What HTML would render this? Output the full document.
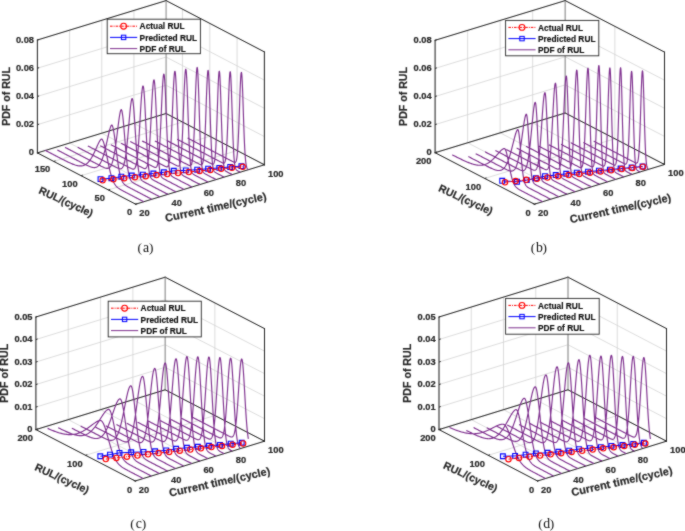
<!DOCTYPE html>
<html><head><meta charset="utf-8"><style>
html,body{margin:0;padding:0;background:#fff;}
svg{display:block;will-change:transform;}
.tk{font-family:"Liberation Sans",sans-serif;font-weight:bold;font-size:9.3px;fill:#262626;stroke:#262626;stroke-width:0.2px;}
.al{font-family:"Liberation Sans",sans-serif;font-weight:bold;font-size:10.6px;fill:#262626;stroke:#262626;stroke-width:0.2px;}
.al2{font-family:"Liberation Sans",sans-serif;font-weight:bold;font-size:11px;fill:#262626;stroke:#262626;stroke-width:0.2px;}
.lg{font-family:"Liberation Sans",sans-serif;font-weight:bold;font-size:8.35px;fill:#111;stroke:#111;stroke-width:0.15px;}
.cap{font-family:"Liberation Serif",serif;font-size:13.3px;fill:#111;}
.cap2{font-family:"Liberation Serif",serif;font-size:15px;fill:#111;}
</style></head><body>
<svg width="685" height="531" viewBox="0 0 685 531">
<defs><filter id="bl" filterUnits="userSpaceOnUse" x="0" y="0" width="685" height="531"><feConvolveMatrix order="3" kernelMatrix="1 2 1 2 16 2 1 2 1" divisor="28" edgeMode="duplicate" color-interpolation-filters="sRGB"/></filter></defs>
<rect width="685" height="531" fill="#fff"/>
<g filter="url(#bl)">
<rect width="685" height="531" fill="#fff"/>
<path d="M135.7 204.2L37.4 152.9M37.4 152.9L37.4 40M167.88 194.35L69.58 143.05M69.58 143.05L69.58 30.15M200.05 184.5L101.75 133.2M101.75 133.2L101.75 20.3M232.22 174.65L133.92 123.35M133.92 123.35L133.92 10.45M264.4 164.8L166.1 113.5M166.1 113.5L166.1 0.6M135.7 204.2L264.4 164.8M264.4 164.8L264.4 51.9M108.39 189.95L237.09 150.55M237.09 150.55L237.09 37.65M81.09 175.7L209.79 136.3M209.79 136.3L209.79 23.4M53.78 161.45L182.48 122.05M182.48 122.05L182.48 9.15M37.4 152.9L166.1 113.5M166.1 113.5L264.4 164.8M37.4 124.68L166.1 85.28M166.1 85.28L264.4 136.58M37.4 96.45L166.1 57.05M166.1 57.05L264.4 108.35M37.4 68.23L166.1 28.83M166.1 28.83L264.4 80.13M37.4 40L166.1 0.6M166.1 0.6L264.4 51.9" stroke="#d3d3d3" stroke-width="0.8" fill="none"/>
<path d="M37.4 152.9L37.4 40M135.7 204.2L37.4 152.9M135.7 204.2L264.4 164.8M37.4 152.9L166.1 113.5M166.1 113.5L264.4 164.8M264.4 164.8L264.4 51.9M37.4 40L166.1 0.6M166.1 0.6L264.4 51.9" stroke="#262626" stroke-width="1.0" fill="none" stroke-linecap="square"/>
<path d="M37.4 152.9l1.72 -0.53M37.4 124.68l1.72 -0.53M37.4 96.45l1.72 -0.53M37.4 68.23l1.72 -0.53M37.4 40l1.72 -0.53M135.7 204.2l1.72 -0.53M108.39 189.95l1.72 -0.53M81.09 175.7l1.72 -0.53M53.78 161.45l1.72 -0.53M135.7 204.2l-1.6 -0.83M167.88 194.35l-1.6 -0.83M200.05 184.5l-1.6 -0.83M232.22 174.65l-1.6 -0.83M264.4 164.8l-1.6 -0.83" stroke="#262626" stroke-width="1"/>
<path d="M166.1 113.5L166.1 0.6" stroke="#8c8c8c" stroke-width="0.9"/>
<path d="M143.74 201.74L143.13 201.42L142.51 201.09L141.89 200.77L141.27 200.45L140.65 200.13L140.04 199.8L139.42 199.48L138.8 199.16L138.18 198.84L137.57 198.51L136.95 198.19L136.33 197.87L135.71 197.55L135.09 197.22L134.48 196.9L133.86 196.58L133.24 196.26L132.62 195.93L132.01 195.61L131.39 195.29L130.77 194.97L130.15 194.64L129.53 194.32L128.92 194L128.3 193.68L127.68 193.35L127.32 193.17L127.06 193.03L126.68 192.83L126.45 192.71L126.04 192.5L125.83 192.38L125.4 192.16L125.21 192.06L124.76 191.83L124.59 191.74L124.12 191.49L123.97 191.41L123.48 191.15L123.36 191.08L122.84 190.8L122.74 190.75L122.2 190.45L122.12 190.41L121.56 190.1L121.5 190.07L120.92 189.73L120.89 189.71L120.28 189.35L120.27 189.35L119.65 188.96L119.64 188.95L119.03 188.55L119 188.53L118.41 188.11L118.36 188.07L117.8 187.63L117.72 187.56L117.18 187.09L117.07 186.99L116.56 186.48L116.43 186.34L115.94 185.79L115.79 185.6L115.33 184.99L115.15 184.75L114.71 184.07L114.51 183.75L114.09 183.01L113.87 182.59L113.47 181.78L113.23 181.25L112.85 180.36L112.59 179.7L112.24 178.74L111.95 177.92L111.62 176.9L111.31 175.9L111 174.84L110.67 173.63L110.38 172.55L110.03 171.13L109.77 170.03L109.39 168.4L109.15 167.32L108.75 165.47L108.53 164.44L108.11 162.39L107.91 161.43L107.47 159.21L107.29 158.35L106.82 156L106.68 155.26L106.18 152.84L106.06 152.24L105.54 149.82L105.44 149.35L104.9 147.02L104.82 146.69L104.26 144.52L104.21 144.31L103.62 142.41L103.59 142.31L102.98 140.76L102.97 140.73L102.35 139.62L102.34 139.61L101.73 139.02L101.7 139L101.12 139.19L101.06 139.24L100.5 139.82L100.42 139.93L99.88 140.71L99.78 140.88L99.26 141.78L99.14 142.01L98.65 142.98L98.5 143.28L98.03 144.26L97.86 144.63L97.41 145.6L97.22 146.03L96.79 146.98L96.58 147.47L96.17 148.37L95.93 148.9L95.56 149.75L95.29 150.33L94.94 151.11L94.65 151.72L94.32 152.43L94.01 153.08L93.7 153.71L93.37 154.38L93.09 154.94L92.73 155.62L92.47 156.11L92.09 156.79L91.85 157.22L91.45 157.9L91.23 158.25L90.81 158.92L90.61 159.22L90.17 159.87L90 160.12L89.53 160.75L89.38 160.94L88.89 161.55L88.76 161.7L88.25 162.27L88.14 162.38L87.61 162.91L87.53 162.99L86.97 163.49L86.91 163.54L86.33 163.99L86.29 164.02L85.68 164.43L85.67 164.44L85.05 164.8L85.04 164.81L84.44 165.11L84.4 165.12L83.82 165.36L83.76 165.38L83.2 165.56L83.12 165.59L82.58 165.72L82.48 165.74L81.96 165.83L81.84 165.85L81.35 165.91L81.2 165.92L80.73 165.94L80.56 165.94L80.11 165.94L79.92 165.93L79.49 165.91L79.28 165.89L78.88 165.85L78.64 165.82L78.26 165.76L78 165.72L77.64 165.65L77.36 165.59L77.02 165.51L76.72 165.44L76.4 165.36L76.08 165.27L75.79 165.19L75.17 165L74.55 164.79L73.93 164.57L73.32 164.34L72.7 164.1L72.08 163.85L71.46 163.59L70.84 163.33L70.23 163.05L69.61 162.77L68.99 162.49L68.37 162.2L67.76 161.9L67.14 161.61L66.52 161.31L65.9 161L65.28 160.69L64.67 160.39L64.05 160.08L63.43 159.76L62.81 159.45L62.2 159.14L61.58 158.82L60.96 158.5L60.34 158.19L59.72 157.87L59.11 157.55L58.49 157.23L57.87 156.91L57.25 156.59L56.64 156.27L56.02 155.95L55.4 155.63L54.78 155.31L54.16 154.98L53.55 154.66L52.93 154.34L52.31 154.02L51.69 153.7L51.08 153.37L50.46 153.05L49.84 152.73L49.22 152.41L48.6 152.09L47.99 151.76L47.37 151.44L46.75 151.12L46.13 150.8L45.52 150.47L44.9 150.15M151.79 199.27L151.2 198.97L150.61 198.66L150.02 198.35L149.42 198.04L148.83 197.73L148.24 197.42L147.65 197.12L147.06 196.81L146.47 196.5L145.88 196.19L145.29 195.88L144.7 195.57L144.11 195.27L143.52 194.96L142.93 194.65L142.33 194.34L141.74 194.03L141.15 193.72L140.56 193.42L139.97 193.11L139.38 192.8L138.79 192.49L138.2 192.18L137.61 191.87L137.02 191.57L136.43 191.26L135.84 190.95L135.24 190.64L134.65 190.33L134.06 190.02L133.47 189.72L132.88 189.41L132.29 189.1L131.7 188.79L131.14 188.5L131.11 188.48L130.66 188.25L130.52 188.17L130.18 187.99L129.93 187.86L129.69 187.74L129.34 187.55L129.21 187.48L128.75 187.23L128.73 187.22L128.24 186.96L128.15 186.91L127.76 186.69L127.56 186.58L127.27 186.42L126.97 186.24L126.79 186.13L126.38 185.88L126.31 185.83L125.82 185.51L125.79 185.49L125.34 185.16L125.2 185.05L124.86 184.77L124.61 184.55L124.37 184.33L124.02 183.97L123.89 183.82L123.43 183.26L123.41 183.23L122.92 182.54L122.84 182.4L122.44 181.71L122.25 181.34L121.96 180.73L121.66 180.03L121.47 179.56L121.06 178.41L120.99 178.17L120.5 176.54L120.47 176.43L120.02 174.64L119.88 174.05L119.54 172.45L119.29 171.22L119.05 169.95L118.7 167.93L118.57 167.13L118.11 164.18L118.09 164.02L117.6 160.63L117.52 160.02L117.12 156.99L116.93 155.51L116.64 153.18L116.34 150.77L116.15 149.25L115.75 145.94L115.67 145.3L115.19 141.42L115.16 141.19L114.7 137.73L114.57 136.74L114.22 134.32L113.97 132.76L113.73 131.32L113.38 129.45L113.25 128.81L112.79 126.97L112.77 126.88L112.28 125.6L112.2 125.45L111.8 125L111.61 125.03L111.32 125.34L111.02 125.85L110.83 126.26L110.43 127.33L110.35 127.57L109.87 129.16L109.84 129.26L109.38 130.98L109.25 131.51L108.9 132.95L108.66 133.97L108.41 135.03L108.07 136.57L107.93 137.17L107.48 139.23L107.45 139.35L106.96 141.54L106.88 141.89L106.48 143.69L106.29 144.51L106 145.8L105.7 147.05L105.51 147.84L105.11 149.48L105.03 149.8L104.55 151.67L104.52 151.76L104.06 153.43L103.93 153.89L103.58 155.08L103.34 155.86L103.1 156.62L102.75 157.65L102.61 158.04L102.16 159.27L102.13 159.35L101.64 160.54L101.57 160.72L101.16 161.62L100.98 162L100.68 162.58L100.39 163.12L100.19 163.45L99.79 164.08L99.71 164.21L99.23 164.87L99.2 164.9L98.74 165.45L98.61 165.59L98.26 165.95L98.02 166.16L97.78 166.36L97.43 166.62L97.29 166.71L96.84 166.97L96.81 166.99L96.33 167.21L96.25 167.24L95.84 167.37L95.66 167.42L95.36 167.49L95.07 167.53L94.87 167.56L94.48 167.58L94.39 167.59L93.91 167.58L93.89 167.58L93.42 167.54L93.3 167.53L92.94 167.48L92.71 167.44L92.46 167.39L92.11 167.31L91.52 167.15L90.93 166.97L90.34 166.76L89.75 166.54L89.16 166.3L88.57 166.05L87.98 165.79L87.39 165.52L86.8 165.24L86.21 164.96L85.62 164.67L85.02 164.38L84.43 164.08L83.84 163.78L83.25 163.48L82.66 163.18L82.07 162.87L81.48 162.57L80.89 162.26L80.3 161.96L79.71 161.65L79.12 161.35L78.53 161.04L77.93 160.73L77.34 160.42L76.75 160.12L76.16 159.81L75.57 159.5L74.98 159.19L74.39 158.88L73.8 158.57L73.21 158.27L72.62 157.96L72.03 157.65L71.44 157.34L70.84 157.03L70.25 156.72L69.66 156.42L69.07 156.11L68.48 155.8L67.89 155.49L67.3 155.18L66.71 154.87L66.12 154.57L65.53 154.26L64.94 153.95L64.35 153.64L63.75 153.33L63.16 153.02L62.57 152.72L61.98 152.41L61.39 152.1L60.8 151.79L60.21 151.48L59.62 151.17L59.03 150.87L58.44 150.56L57.85 150.25L57.26 149.94M159.83 196.81L159.24 196.5L158.65 196.19L158.05 195.88L157.46 195.58L156.87 195.27L156.28 194.96L155.68 194.65L155.09 194.34L154.5 194.03L153.91 193.72L153.31 193.41L152.72 193.1L152.13 192.79L151.54 192.48L150.94 192.17L150.35 191.86L149.76 191.56L149.17 191.25L148.57 190.94L147.98 190.63L147.39 190.32L146.8 190.01L146.2 189.7L145.61 189.39L145.02 189.08L144.43 188.77L143.83 188.46L143.24 188.15L142.65 187.84L142.06 187.54L141.46 187.23L140.87 186.92L140.28 186.61L139.69 186.3L139.09 185.99L138.5 185.68L137.91 185.37L137.32 185.06L136.72 184.75L136.65 184.71L136.27 184.51L136.13 184.44L135.88 184.31L135.54 184.12L135.5 184.1L135.11 183.89L134.94 183.8L134.73 183.68L134.35 183.47L134.35 183.46L133.96 183.24L133.76 183.11L133.58 183L133.2 182.75L133.17 182.73L132.81 182.47L132.57 182.28L132.43 182.16L132.04 181.81L131.98 181.75L131.66 181.4L131.39 181.07L131.28 180.92L130.89 180.35L130.8 180.19L130.51 179.67L130.2 179.02L130.13 178.84L129.74 177.84L129.61 177.45L129.36 176.63L129.02 175.37L128.97 175.18L128.59 173.46L128.43 172.63L128.21 171.43L127.83 169.13L127.82 169.06L127.44 166.33L127.24 164.78L127.06 163.23L126.67 159.76L126.65 159.55L126.29 155.94L126.06 153.47L125.9 151.79L125.52 147.38L125.46 146.71L125.14 142.76L124.87 139.5L124.75 138.03L124.37 133.3L124.28 132.2L123.99 128.68L123.69 125.24L123.6 124.31L123.22 120.3L123.09 119.1L122.83 116.78L122.5 114.21L122.45 113.87L122.07 111.66L121.91 110.97L121.68 110.22L121.32 109.61L121.3 109.6L120.92 109.92L120.72 110.35L120.53 110.93L120.15 112.47L120.13 112.55L119.77 114.45L119.54 115.78L119.38 116.78L119 119.39L118.95 119.75L118.61 122.21L118.35 124.21L118.23 125.19L117.85 128.26L117.76 128.94L117.46 131.37L117.17 133.75L117.08 134.48L116.7 137.54L116.58 138.47L116.31 140.52L115.98 142.97L115.93 143.39L115.54 146.12L115.39 147.17L115.16 148.7L114.8 150.98L114.78 151.12L114.39 153.35L114.21 154.38L114.01 155.41L113.63 157.29L113.61 157.34L113.24 158.98L113.02 159.87L112.86 160.5L112.47 161.85L112.43 161.99L112.09 163.03L111.84 163.73L111.71 164.06L111.32 164.96L111.24 165.12L110.94 165.72L110.65 166.21L110.56 166.36L110.17 166.89L110.06 167.03L109.79 167.32L109.47 167.62L109.4 167.67L109.02 167.94L108.87 168.02L108.64 168.14L108.28 168.27L108.25 168.27L107.87 168.36L107.69 168.38L107.49 168.4L107.1 168.4L107.1 168.4L106.72 168.37L106.5 168.33L106.33 168.3L105.95 168.22L105.91 168.21L105.32 168.03L104.73 167.82L104.13 167.58L103.54 167.32L102.95 167.05L102.36 166.77L101.76 166.47L101.17 166.18L100.58 165.87L99.99 165.57L99.39 165.26L98.8 164.96L98.21 164.65L97.62 164.34L97.02 164.03L96.43 163.72L95.84 163.42L95.25 163.11L94.65 162.8L94.06 162.49L93.47 162.18L92.88 161.87L92.28 161.56L91.69 161.25L91.1 160.94L90.51 160.63L89.91 160.32L89.32 160.01L88.73 159.71L88.14 159.4L87.54 159.09L86.95 158.78L86.36 158.47L85.76 158.16L85.17 157.85L84.58 157.54L83.99 157.23L83.39 156.92L82.8 156.61L82.21 156.3L81.62 155.99L81.02 155.69L80.43 155.38L79.84 155.07L79.25 154.76L78.65 154.45L78.06 154.14L77.47 153.83L76.88 153.52L76.28 153.21L75.69 152.9L75.1 152.59L74.51 152.28L73.91 151.97L73.32 151.67L72.73 151.36L72.14 151.05L71.54 150.74L70.95 150.43L70.36 150.12L69.77 149.81L69.17 149.5L68.58 149.19L67.99 148.88L67.4 148.57L66.8 148.26L66.21 147.95L65.62 147.65L65.03 147.34M167.88 194.35L167.31 194.06L166.75 193.76L166.18 193.47L165.62 193.17L165.06 192.88L164.49 192.58L163.93 192.29L163.36 192L162.8 191.7L162.24 191.41L161.67 191.11L161.11 190.82L160.54 190.52L159.98 190.23L159.42 189.94L158.85 189.64L158.29 189.35L157.73 189.05L157.16 188.76L156.6 188.46L156.03 188.17L155.47 187.88L154.91 187.58L154.34 187.29L153.78 186.99L153.21 186.7L152.65 186.4L152.09 186.11L151.52 185.82L150.96 185.52L150.4 185.23L149.83 184.93L149.27 184.64L148.7 184.35L148.14 184.05L147.58 183.76L147.01 183.46L146.45 183.17L145.88 182.87L145.5 182.67L145.32 182.57L145.16 182.49L144.83 182.31L144.76 182.27L144.5 182.13L144.19 181.96L144.17 181.94L143.83 181.75L143.63 181.63L143.5 181.55L143.17 181.34L143.07 181.27L142.84 181.11L142.5 180.86L142.5 180.86L142.17 180.57L141.94 180.35L141.84 180.25L141.51 179.87L141.37 179.69L141.18 179.41L140.84 178.87L140.81 178.81L140.51 178.21L140.25 177.58L140.18 177.4L139.85 176.42L139.68 175.86L139.51 175.23L139.18 173.8L139.12 173.5L138.85 172.08L138.55 170.3L138.52 170.04L138.18 167.65L137.99 166.09L137.85 164.88L137.52 161.71L137.43 160.76L137.19 158.13L136.86 154.25L136.85 154.14L136.52 149.78L136.3 146.66L136.19 145.07L135.86 140.09L135.73 138.21L135.52 134.91L135.19 129.63L135.17 129.3L134.86 124.38L134.61 120.48L134.53 119.27L134.19 114.45L134.04 112.39L133.86 110.06L133.53 106.22L133.48 105.69L133.2 103.05L132.92 100.98L132.86 100.67L132.53 99.13L132.35 98.68L132.2 98.5L131.87 98.81L131.79 99L131.54 99.87L131.22 101.44L131.2 101.57L130.87 103.82L130.66 105.48L130.54 106.53L130.21 109.63L130.1 110.72L129.87 113.04L129.54 116.68L129.53 116.77L129.21 120.46L128.97 123.24L128.88 124.33L128.54 128.2L128.4 129.81L128.21 132.04L127.88 135.78L127.84 136.19L127.55 139.37L127.28 142.16L127.21 142.79L126.88 146.01L126.71 147.55L126.55 149L126.22 151.76L126.15 152.28L125.88 154.27L125.59 156.31L125.55 156.53L125.22 158.55L125.02 159.64L124.89 160.34L124.55 161.91L124.46 162.32L124.22 163.26L123.89 164.41L123.89 164.42L123.56 165.4L123.33 165.98L123.22 166.22L122.89 166.89L122.77 167.11L122.56 167.44L122.23 167.87L122.2 167.9L121.9 168.2L121.64 168.4L121.56 168.45L121.23 168.62L121.07 168.68L120.9 168.73L120.57 168.79L120.51 168.79L120.23 168.8L119.95 168.78L119.9 168.77L119.57 168.72L119.38 168.68L119.24 168.64L118.9 168.54L118.82 168.52L118.26 168.31L117.69 168.07L117.13 167.81L116.56 167.54L116 167.26L115.44 166.97L114.87 166.68L114.31 166.39L113.74 166.1L113.18 165.81L112.62 165.51L112.05 165.22L111.49 164.92L110.93 164.63L110.36 164.34L109.8 164.04L109.23 163.75L108.67 163.45L108.11 163.16L107.54 162.86L106.98 162.57L106.41 162.28L105.85 161.98L105.29 161.69L104.72 161.39L104.16 161.1L103.59 160.8L103.03 160.51L102.47 160.22L101.9 159.92L101.34 159.63L100.78 159.33L100.21 159.04L99.65 158.74L99.08 158.45L98.52 158.16L97.96 157.86L97.39 157.57L96.83 157.27L96.26 156.98L95.7 156.68L95.14 156.39L94.57 156.1L94.01 155.8L93.45 155.51L92.88 155.21L92.32 154.92L91.75 154.62L91.19 154.33L90.63 154.04L90.06 153.74L89.5 153.45L88.93 153.15L88.37 152.86L87.81 152.56L87.24 152.27L86.68 151.98L86.12 151.68L85.55 151.39L84.99 151.09L84.42 150.8L83.86 150.5L83.3 150.21L82.73 149.92L82.17 149.62L81.6 149.33L81.04 149.03L80.48 148.74L79.91 148.45L79.35 148.15L78.79 147.86L78.22 147.56L77.66 147.27M175.92 191.89L175.37 191.6L174.82 191.31L174.27 191.03L173.72 190.74L173.17 190.45L172.62 190.16L172.06 189.88L171.51 189.59L170.96 189.3L170.41 189.01L169.86 188.73L169.31 188.44L168.76 188.15L168.21 187.87L167.66 187.58L167.11 187.29L166.56 187L166.01 186.72L165.46 186.43L164.91 186.14L164.36 185.85L163.81 185.57L163.26 185.28L162.71 184.99L162.16 184.7L161.6 184.42L161.05 184.13L160.5 183.84L159.95 183.56L159.4 183.27L158.85 182.98L158.3 182.69L157.75 182.41L157.2 182.12L156.65 181.83L156.1 181.54L155.55 181.26L155 180.97L154.45 180.67L154.43 180.66L154.14 180.51L153.9 180.37L153.86 180.36L153.58 180.2L153.35 180.06L153.29 180.03L153.01 179.86L152.8 179.72L152.73 179.67L152.44 179.47L152.25 179.32L152.16 179.25L151.88 179L151.69 178.81L151.6 178.71L151.31 178.36L151.14 178.12L151.03 177.94L150.75 177.44L150.59 177.12L150.46 176.82L150.18 176.06L150.04 175.64L149.9 175.13L149.61 173.99L149.49 173.43L149.33 172.6L149.05 170.93L148.94 170.23L148.76 168.93L148.48 166.56L148.39 165.73L148.2 163.78L147.91 160.58L147.84 159.67L147.63 156.92L147.35 152.8L147.29 151.91L147.06 148.24L146.78 143.27L146.74 142.5L146.5 137.93L146.21 132.29L146.19 131.76L145.93 126.45L145.65 120.52L145.64 120.31L145.37 114.63L145.09 109.04L145.08 108.93L144.8 103.56L144.54 99.03L144.52 98.68L144.23 94.43L143.99 91.36L143.95 90.94L143.67 88.32L143.44 86.9L143.38 86.66L143.1 86L142.89 86.11L142.82 86.24L142.53 87.24L142.34 88.38L142.25 88.98L141.97 91.4L141.78 93.29L141.68 94.44L141.4 98.03L141.23 100.36L141.12 102.07L140.83 106.46L140.68 108.92L140.55 111.12L140.27 115.93L140.13 118.25L139.99 120.81L139.7 125.66L139.58 127.68L139.42 130.41L139.14 134.98L139.03 136.59L138.85 139.32L138.57 143.38L138.48 144.57L138.29 147.12L138 150.54L137.93 151.35L137.72 153.61L137.44 156.33L137.38 156.83L137.15 158.72L136.87 160.79L136.83 161.06L136.59 162.55L136.3 164.04L136.28 164.16L136.02 165.27L135.74 166.28L135.73 166.31L135.45 167.09L135.18 167.72L135.17 167.73L134.89 168.22L134.63 168.56L134.6 168.58L134.32 168.84L134.08 169L134.04 169.02L133.76 169.12L133.53 169.16L133.47 169.17L133.19 169.17L132.98 169.14L132.91 169.13L132.62 169.07L132.43 169.01L132.34 168.98L132.06 168.88L131.87 168.81L131.77 168.77L131.32 168.57L130.77 168.3L130.22 168.03L129.67 167.75L129.12 167.46L128.57 167.18L128.02 166.89L127.47 166.6L126.92 166.32L126.37 166.03L125.82 165.74L125.27 165.45L124.72 165.17L124.17 164.88L123.62 164.59L123.07 164.31L122.52 164.02L121.97 163.73L121.41 163.44L120.86 163.16L120.31 162.87L119.76 162.58L119.21 162.29L118.66 162.01L118.11 161.72L117.56 161.43L117.01 161.14L116.46 160.86L115.91 160.57L115.36 160.28L114.81 160L114.26 159.71L113.71 159.42L113.16 159.13L112.61 158.85L112.06 158.56L111.5 158.27L110.95 157.98L110.4 157.7L109.85 157.41L109.3 157.12L108.75 156.83L108.2 156.55L107.65 156.26L107.1 155.97L106.55 155.69L106 155.4L105.45 155.11L104.9 154.82L104.35 154.54L103.8 154.25L103.25 153.96L102.7 153.67L102.15 153.39L101.59 153.1L101.04 152.81L100.49 152.53L99.94 152.24L99.39 151.95L98.84 151.66L98.29 151.38L97.74 151.09L97.19 150.8L96.64 150.51L96.09 150.23L95.54 149.94L94.99 149.65L94.44 149.36L93.89 149.08L93.34 148.79L92.79 148.5L92.24 148.22L91.68 147.93L91.13 147.64L90.58 147.35L90.03 147.07L89.48 146.78L88.93 146.49L88.38 146.2L87.83 145.92M183.96 189.43L183.44 189.15L182.92 188.88L182.39 188.61L181.87 188.33L181.34 188.06L180.82 187.79L180.3 187.51L179.77 187.24L179.25 186.97L178.73 186.69L178.2 186.42L177.68 186.15L177.16 185.87L176.63 185.6L176.11 185.33L175.59 185.05L175.06 184.78L174.54 184.51L174.01 184.23L173.49 183.96L172.97 183.69L172.44 183.41L171.92 183.14L171.4 182.87L170.87 182.59L170.35 182.32L169.83 182.05L169.3 181.77L168.78 181.5L168.25 181.23L167.73 180.95L167.21 180.68L166.68 180.41L166.16 180.13L165.64 179.86L165.11 179.58L164.59 179.31L164.48 179.25L164.22 179.1L164.07 179.02L163.96 178.96L163.69 178.8L163.54 178.71L163.43 178.65L163.17 178.48L163.02 178.37L162.91 178.29L162.65 178.09L162.5 177.96L162.38 177.86L162.12 177.6L161.97 177.43L161.86 177.29L161.6 176.92L161.45 176.67L161.34 176.46L161.07 175.91L160.92 175.54L160.81 175.23L160.55 174.39L160.4 173.83L160.29 173.36L160.03 172.11L159.88 171.28L159.76 170.58L159.5 168.75L159.35 167.57L159.24 166.57L158.98 164L158.83 162.37L158.72 161.01L158.45 157.56L158.31 155.43L158.19 153.65L157.93 149.27L157.78 146.63L157.67 144.44L157.41 139.19L157.26 136.1L157.14 133.58L156.88 127.67L156.74 124.3L156.62 121.58L156.36 115.42L156.21 112.02L156.1 109.32L155.83 103.43L155.69 100.31L155.57 97.89L155.31 92.87L155.17 90.37L155.05 88.51L154.79 84.93L154.64 83.34L154.52 82.26L154.26 80.56L154.12 80.07L154 79.9L153.74 80.18L153.59 80.69L153.48 81.3L153.21 83.2L153.07 84.56L152.95 85.85L152.69 89.17L152.55 91.23L152.43 93.08L152.17 97.46L152.02 100.01L151.9 102.23L151.64 107.26L151.5 110.06L151.38 112.46L151.12 117.71L150.98 120.54L150.86 122.92L150.59 128L150.45 130.66L150.33 132.89L150.07 137.5L149.93 139.86L149.81 141.81L149.55 145.77L149.41 147.74L149.28 149.36L149.02 152.59L148.88 154.15L148.76 155.43L148.5 157.92L148.36 159.1L148.24 160.06L147.97 161.88L147.84 162.73L147.71 163.41L147.45 164.67L147.31 165.25L147.19 165.7L146.93 166.52L146.79 166.88L146.66 167.17L146.4 167.66L146.26 167.87L146.14 168.03L145.88 168.29L145.74 168.39L145.62 168.46L145.35 168.57L145.22 168.6L145.09 168.61L144.83 168.62L144.69 168.6L144.57 168.59L144.31 168.53L144.17 168.49L144.04 168.45L143.78 168.35L143.65 168.3L143.52 168.25L143.12 168.07L142.6 167.82L142.08 167.56L141.55 167.29L141.03 167.02L140.51 166.75L139.98 166.47L139.46 166.2L138.93 165.93L138.41 165.65L137.89 165.38L137.36 165.11L136.84 164.83L136.32 164.56L135.79 164.29L135.27 164.01L134.75 163.74L134.22 163.47L133.7 163.19L133.17 162.92L132.65 162.65L132.13 162.37L131.6 162.1L131.08 161.83L130.56 161.55L130.03 161.28L129.51 161.01L128.99 160.73L128.46 160.46L127.94 160.19L127.42 159.91L126.89 159.64L126.37 159.37L125.84 159.09L125.32 158.82L124.8 158.55L124.27 158.28L123.75 158L123.23 157.73L122.7 157.46L122.18 157.18L121.66 156.91L121.13 156.64L120.61 156.36L120.09 156.09L119.56 155.82L119.04 155.54L118.51 155.27L117.99 155L117.47 154.72L116.94 154.45L116.42 154.18L115.9 153.9L115.37 153.63L114.85 153.36L114.33 153.08L113.8 152.81L113.28 152.54L112.76 152.26L112.23 151.99L111.71 151.72L111.18 151.44L110.66 151.17L110.14 150.9L109.61 150.62L109.09 150.35L108.57 150.08L108.04 149.8L107.52 149.53L107 149.26L106.47 148.98L105.95 148.71L105.42 148.44L104.9 148.17L104.38 147.89L103.85 147.62L103.33 147.35L102.81 147.07L102.28 146.8L101.76 146.53L101.24 146.25L100.71 145.98L100.19 145.71M192.01 186.96L191.5 186.7L190.99 186.43L190.49 186.17L189.98 185.9L189.47 185.64L188.97 185.38L188.46 185.11L187.95 184.85L187.44 184.58L186.94 184.32L186.43 184.05L185.92 183.79L185.42 183.52L184.91 183.26L184.4 182.99L183.9 182.73L183.39 182.47L182.88 182.2L182.38 181.94L181.87 181.67L181.36 181.41L180.86 181.14L180.35 180.88L179.84 180.61L179.33 180.35L178.83 180.09L178.32 179.82L177.81 179.56L177.31 179.29L176.8 179.03L176.29 178.76L175.79 178.5L175.28 178.23L174.77 177.97L174.27 177.7L173.76 177.43L173.67 177.38L173.43 177.24L173.25 177.14L173.18 177.1L172.94 176.96L172.75 176.84L172.69 176.8L172.45 176.64L172.24 176.48L172.2 176.46L171.96 176.25L171.73 176.03L171.72 176.02L171.47 175.74L171.23 175.42L171.23 175.41L170.98 175.02L170.74 174.53L170.72 174.49L170.49 173.94L170.25 173.2L170.21 173.07L170.01 172.3L169.76 171.19L169.7 170.9L169.52 169.84L169.27 168.2L169.2 167.63L169.03 166.24L168.78 163.91L168.69 162.91L168.54 161.17L168.3 158L168.18 156.38L168.05 154.36L167.81 150.24L167.68 147.84L167.56 145.64L167.32 140.59L167.17 137.29L167.08 135.11L166.83 129.27L166.66 125.1L166.59 123.15L166.34 116.85L166.16 112L166.1 110.49L165.85 104.2L165.65 99.11L165.61 98.15L165.37 92.47L165.14 87.75L165.12 87.33L164.88 82.86L164.64 79.26L164.63 79.21L164.39 76.49L164.14 74.76L164.13 74.69L163.9 74.1L163.66 74.42L163.62 74.53L163.41 75.63L163.17 77.68L163.12 78.22L162.92 80.52L162.68 84.07L162.61 85.22L162.43 88.24L162.19 92.93L162.1 94.73L161.95 98L161.7 103.36L161.59 105.77L161.46 108.87L161.21 114.44L161.09 117.28L160.97 119.95L160.72 125.31L160.58 128.37L160.48 130.45L160.24 135.3L160.07 138.34L159.99 139.81L159.75 143.95L159.57 146.76L159.5 147.69L159.26 151.04L159.06 153.48L159.02 153.99L158.77 156.56L158.55 158.54L158.53 158.76L158.28 160.63L158.05 162.14L158.04 162.19L157.79 163.48L157.55 164.52L157.54 164.56L157.31 165.36L157.06 166.01L157.03 166.07L156.82 166.5L156.57 166.87L156.53 166.93L156.33 167.13L156.08 167.31L156.02 167.34L155.84 167.41L155.6 167.47L155.51 167.47L155.35 167.47L155.11 167.44L155.01 167.43L154.86 167.39L154.62 167.32L154.5 167.28L154.37 167.23L154.13 167.13L153.99 167.07L153.48 166.84L152.98 166.58L152.47 166.33L151.96 166.06L151.46 165.8L150.95 165.54L150.44 165.27L149.94 165.01L149.43 164.74L148.92 164.48L148.42 164.21L147.91 163.95L147.4 163.69L146.9 163.42L146.39 163.16L145.88 162.89L145.38 162.63L144.87 162.36L144.36 162.1L143.85 161.83L143.35 161.57L142.84 161.3L142.33 161.04L141.83 160.78L141.32 160.51L140.81 160.25L140.31 159.98L139.8 159.72L139.29 159.45L138.79 159.19L138.28 158.92L137.77 158.66L137.27 158.39L136.76 158.13L136.25 157.87L135.74 157.6L135.24 157.34L134.73 157.07L134.22 156.81L133.72 156.54L133.21 156.28L132.7 156.01L132.2 155.75L131.69 155.49L131.18 155.22L130.68 154.96L130.17 154.69L129.66 154.43L129.16 154.16L128.65 153.9L128.14 153.63L127.64 153.37L127.13 153.1L126.62 152.84L126.11 152.58L125.61 152.31L125.1 152.05L124.59 151.78L124.09 151.52L123.58 151.25L123.07 150.99L122.57 150.72L122.06 150.46L121.55 150.19L121.05 149.93L120.54 149.67L120.03 149.4L119.53 149.14L119.02 148.87L118.51 148.61L118 148.34L117.5 148.08L116.99 147.81L116.48 147.55L115.98 147.29L115.47 147.02L114.96 146.76L114.46 146.49L113.95 146.23L113.44 145.96L112.94 145.7L112.43 145.43L111.92 145.17L111.42 144.9L110.91 144.64M200.05 184.5L199.56 184.24L199.06 183.98L198.57 183.73L198.08 183.47L197.58 183.21L197.09 182.95L196.6 182.7L196.1 182.44L195.61 182.18L195.11 181.92L194.62 181.67L194.13 181.41L193.63 181.15L193.14 180.89L192.65 180.64L192.15 180.38L191.66 180.12L191.17 179.86L190.67 179.61L190.18 179.35L189.69 179.09L189.19 178.83L188.7 178.58L188.2 178.32L187.71 178.06L187.22 177.8L186.72 177.55L186.23 177.29L185.74 177.03L185.24 176.77L184.75 176.51L184.27 176.25L184.26 176.24L184.04 176.12L183.81 175.98L183.76 175.95L183.57 175.84L183.34 175.68L183.27 175.64L183.11 175.52L182.87 175.33L182.78 175.25L182.64 175.12L182.41 174.88L182.28 174.74L182.17 174.6L181.94 174.25L181.79 173.99L181.71 173.83L181.47 173.32L181.3 172.85L181.24 172.68L181.01 171.9L180.8 171.07L180.77 170.95L180.54 169.77L180.31 168.35L180.31 168.35L180.07 166.62L179.84 164.57L179.81 164.32L179.61 162.14L179.37 159.29L179.32 158.58L179.14 156L178.91 152.24L178.83 150.84L178.67 148L178.44 143.29L178.33 140.98L178.21 138.13L177.97 132.55L177.84 129.19L177.74 126.62L177.51 120.42L177.35 116.04L177.27 114.06L177.04 107.64L176.85 102.54L176.81 101.32L176.57 95.24L176.36 89.98L176.34 89.56L176.11 84.41L175.87 79.95L175.87 79.8L175.64 76.31L175.41 73.59L175.37 73.26L175.18 71.88L174.94 71.22L174.88 71.22L174.71 71.56L174.48 72.83L174.39 73.55L174.24 74.97L174.01 77.94L173.89 79.71L173.78 81.64L173.54 85.98L173.4 88.93L173.31 90.85L173.08 96.11L172.9 100.16L172.84 101.66L172.61 107.36L172.41 112.24L172.38 113.11L172.14 118.78L171.92 124.11L171.91 124.3L171.68 129.56L171.44 134.52L171.42 134.91L171.21 139.12L170.98 143.33L170.93 144.11L170.74 147.13L170.51 150.51L170.44 151.48L170.28 153.48L170.04 156.05L169.94 157.04L169.81 158.26L169.58 160.12L169.45 161L169.34 161.67L169.11 162.94L168.96 163.64L168.88 163.96L168.64 164.78L168.46 165.28L168.41 165.41L168.18 165.89L167.97 166.21L167.94 166.24L167.71 166.49L167.48 166.66L167.48 166.66L167.24 166.76L167.01 166.8L166.98 166.81L166.78 166.81L166.54 166.78L166.49 166.77L166.31 166.72L166.08 166.65L166 166.62L165.84 166.57L165.61 166.47L165.5 166.42L165.01 166.19L164.51 165.95L164.02 165.69L163.53 165.44L163.03 165.18L162.54 164.92L162.05 164.67L161.55 164.41L161.06 164.15L160.57 163.89L160.07 163.64L159.58 163.38L159.09 163.12L158.59 162.86L158.1 162.61L157.6 162.35L157.11 162.09L156.62 161.83L156.12 161.58L155.63 161.32L155.14 161.06L154.64 160.8L154.15 160.55L153.66 160.29L153.16 160.03L152.67 159.77L152.18 159.52L151.68 159.26L151.19 159L150.7 158.74L150.2 158.49L149.71 158.23L149.21 157.97L148.72 157.71L148.23 157.46L147.73 157.2L147.24 156.94L146.75 156.68L146.25 156.43L145.76 156.17L145.27 155.91L144.77 155.65L144.28 155.39L143.79 155.14L143.29 154.88L142.8 154.62L142.3 154.36L141.81 154.11L141.32 153.85L140.82 153.59L140.33 153.33L139.84 153.08L139.34 152.82L138.85 152.56L138.36 152.3L137.86 152.05L137.37 151.79L136.88 151.53L136.38 151.27L135.89 151.02L135.4 150.76L134.9 150.5L134.41 150.24L133.91 149.99L133.42 149.73L132.93 149.47L132.43 149.21L131.94 148.96L131.45 148.7L130.95 148.44L130.46 148.18L129.97 147.93L129.47 147.67L128.98 147.41L128.49 147.15L127.99 146.89L127.5 146.64L127 146.38L126.51 146.12L126.02 145.86L125.52 145.61L125.03 145.35L124.54 145.09L124.04 144.83L123.55 144.58L123.06 144.32L122.56 144.06L122.07 143.8L121.58 143.55L121.08 143.29M208.09 182.04L207.61 181.78L207.12 181.53L206.63 181.28L206.15 181.02L205.66 180.77L205.17 180.51L204.69 180.26L204.2 180.01L203.71 179.75L203.23 179.5L202.74 179.24L202.25 178.99L201.77 178.74L201.28 178.48L200.79 178.23L200.31 177.97L199.82 177.72L199.33 177.47L198.85 177.21L198.36 176.96L197.87 176.7L197.39 176.45L196.9 176.2L196.41 175.94L195.93 175.69L195.44 175.43L194.95 175.17L194.55 174.95L194.47 174.9L194.33 174.82L194.11 174.69L193.98 174.61L193.89 174.56L193.67 174.41L193.49 174.28L193.46 174.25L193.24 174.07L193.02 173.87L193.01 173.85L192.8 173.62L192.58 173.34L192.52 173.25L192.36 172.99L192.14 172.57L192.03 172.32L191.92 172.05L191.71 171.41L191.55 170.84L191.49 170.62L191.27 169.64L191.06 168.5L191.05 168.45L190.83 167L190.61 165.25L190.57 164.89L190.39 163.16L190.17 160.69L190.09 159.55L189.96 157.8L189.74 154.46L189.6 152.1L189.52 150.66L189.3 146.37L189.11 142.31L189.08 141.61L188.86 136.4L188.64 130.78L188.62 130.28L188.42 124.8L188.21 118.56L188.14 116.58L187.99 112.16L187.77 105.71L187.65 102.29L187.55 99.37L187.33 93.26L187.16 88.88L187.11 87.56L186.89 82.4L186.68 77.99L186.67 77.93L186.46 74.28L186.24 71.56L186.19 71.12L186.02 69.85L185.8 69.2L185.7 69.24L185.58 69.56L185.36 70.86L185.22 72.21L185.14 73.05L184.93 76.07L184.73 79.38L184.71 79.85L184.49 84.27L184.27 89.22L184.24 89.8L184.05 94.57L183.83 100.21L183.76 102.15L183.61 106.01L183.39 111.84L183.27 115.09L183.18 117.59L182.96 123.18L182.78 127.4L182.74 128.52L182.52 133.54L182.3 138.19L182.3 138.24L182.08 142.44L181.86 146.27L181.81 147.12L181.64 149.68L181.43 152.67L181.32 153.92L181.21 155.27L180.99 157.48L180.84 158.8L180.77 159.35L180.55 160.91L180.35 162.08L180.33 162.18L180.11 163.21L179.89 164.03L179.86 164.13L179.68 164.67L179.46 165.15L179.38 165.29L179.24 165.5L179.02 165.76L178.89 165.87L178.8 165.93L178.58 166.03L178.4 166.07L178.36 166.08L178.14 166.09L177.93 166.06L177.92 166.06L177.71 166.02L177.49 165.95L177.43 165.93L177.27 165.87L177.05 165.78L176.94 165.74L176.46 165.51L175.97 165.27L175.48 165.02L175 164.76L174.51 164.51L174.02 164.26L173.54 164L173.05 163.75L172.56 163.5L172.08 163.24L171.59 162.99L171.1 162.73L170.62 162.48L170.13 162.23L169.64 161.97L169.16 161.72L168.67 161.46L168.18 161.21L167.7 160.95L167.21 160.7L166.72 160.45L166.24 160.19L165.75 159.94L165.26 159.68L164.78 159.43L164.29 159.18L163.8 158.92L163.32 158.67L162.83 158.41L162.34 158.16L161.86 157.91L161.37 157.65L160.88 157.4L160.4 157.14L159.91 156.89L159.42 156.64L158.93 156.38L158.45 156.13L157.96 155.87L157.47 155.62L156.99 155.37L156.5 155.11L156.01 154.86L155.53 154.6L155.04 154.35L154.55 154.1L154.07 153.84L153.58 153.59L153.09 153.33L152.61 153.08L152.12 152.83L151.63 152.57L151.15 152.32L150.66 152.06L150.17 151.81L149.69 151.56L149.2 151.3L148.71 151.05L148.23 150.79L147.74 150.54L147.25 150.29L146.77 150.03L146.28 149.78L145.79 149.52L145.31 149.27L144.82 149.02L144.33 148.76L143.85 148.51L143.36 148.25L142.87 148L142.39 147.75L141.9 147.49L141.41 147.24L140.93 146.98L140.44 146.73L139.95 146.48L139.47 146.22L138.98 145.97L138.49 145.71L138.01 145.46L137.52 145.21L137.03 144.95L136.55 144.7L136.06 144.44L135.57 144.19L135.09 143.94L134.6 143.68L134.11 143.43L133.63 143.17L133.14 142.92L132.65 142.67L132.17 142.41L131.68 142.16L131.19 141.9L130.71 141.65L130.22 141.4M216.14 179.57L215.67 179.33L215.21 179.09L214.75 178.85L214.28 178.61L213.82 178.37L213.36 178.12L212.9 177.88L212.43 177.64L211.97 177.4L211.51 177.16L211.04 176.92L210.58 176.67L210.12 176.43L209.65 176.19L209.19 175.95L208.73 175.71L208.26 175.47L207.8 175.22L207.34 174.98L206.87 174.74L206.41 174.5L205.95 174.25L205.48 174L205.32 173.91L205.11 173.79L205.02 173.73L204.91 173.67L204.71 173.54L204.56 173.44L204.5 173.4L204.3 173.24L204.1 173.07L204.1 173.06L203.9 172.86L203.69 172.63L203.63 172.55L203.49 172.34L203.29 171.99L203.17 171.76L203.08 171.57L202.88 171.04L202.71 170.49L202.68 170.39L202.48 169.59L202.27 168.59L202.24 168.43L202.07 167.38L201.87 165.9L201.78 165.18L201.66 164.13L201.46 162L201.32 160.26L201.26 159.49L201.05 156.56L200.85 153.2L200.85 153.18L200.65 149.33L200.45 145L200.39 143.7L200.24 140.18L200.04 134.92L199.93 131.78L199.84 129.25L199.63 123.22L199.46 117.93L199.43 116.94L199.23 110.49L199.03 104.01L199 103.19L198.82 97.64L198.62 91.51L198.54 89.1L198.42 85.78L198.21 80.61L198.07 77.42L198.01 76.13L197.81 72.48L197.61 69.81L197.61 69.75L197.4 68.05L197.2 67.4L197.15 67.4L197 67.78L196.79 69.11L196.68 70.21L196.59 71.35L196.39 74.43L196.22 77.56L196.19 78.28L195.98 82.79L195.78 87.83L195.76 88.39L195.58 93.28L195.37 99.01L195.29 101.3L195.17 104.9L194.97 110.82L194.83 114.77L194.77 116.67L194.56 122.34L194.37 127.51L194.36 127.74L194.16 132.83L193.95 137.53L193.91 138.6L193.75 141.83L193.55 145.7L193.44 147.55L193.35 149.14L193.14 152.16L192.98 154.29L192.94 154.77L192.74 157L192.53 158.88L192.52 159.03L192.33 160.45L192.13 161.73L192.05 162.14L191.92 162.76L191.72 163.58L191.59 164.02L191.52 164.22L191.32 164.71L191.13 165.05L191.11 165.07L190.91 165.33L190.71 165.5L190.66 165.53L190.5 165.61L190.3 165.66L190.2 165.67L190.1 165.68L189.9 165.66L189.74 165.63L189.69 165.62L189.49 165.56L189.29 165.49L189.27 165.48L189.08 165.4L188.81 165.28L188.35 165.06L187.88 164.83L187.42 164.59L186.96 164.35L186.49 164.11L186.03 163.86L185.57 163.62L185.11 163.38L184.64 163.14L184.18 162.9L183.72 162.65L183.25 162.41L182.79 162.17L182.33 161.93L181.86 161.69L181.4 161.45L180.94 161.2L180.47 160.96L180.01 160.72L179.55 160.48L179.08 160.24L178.62 160L178.16 159.75L177.69 159.51L177.23 159.27L176.77 159.03L176.3 158.79L175.84 158.55L175.38 158.3L174.92 158.06L174.45 157.82L173.99 157.58L173.53 157.34L173.06 157.1L172.6 156.85L172.14 156.61L171.67 156.37L171.21 156.13L170.75 155.89L170.28 155.65L169.82 155.4L169.36 155.16L168.89 154.92L168.43 154.68L167.97 154.44L167.5 154.19L167.04 153.95L166.58 153.71L166.12 153.47L165.65 153.23L165.19 152.99L164.73 152.74L164.26 152.5L163.8 152.26L163.34 152.02L162.87 151.78L162.41 151.54L161.95 151.29L161.48 151.05L161.02 150.81L160.56 150.57L160.09 150.33L159.63 150.09L159.17 149.84L158.7 149.6L158.24 149.36L157.78 149.12L157.31 148.88L156.85 148.64L156.39 148.39L155.93 148.15L155.46 147.91L155 147.67L154.54 147.43L154.07 147.19L153.61 146.94L153.15 146.7L152.68 146.46L152.22 146.22L151.76 145.98L151.29 145.73L150.83 145.49L150.37 145.25L149.9 145.01L149.44 144.77L148.98 144.53L148.51 144.28L148.05 144.04L147.59 143.8L147.13 143.56L146.66 143.32L146.2 143.08L145.74 142.83L145.27 142.59L144.81 142.35L144.35 142.11L143.88 141.87L143.42 141.63L142.96 141.38L142.49 141.14L142.03 140.9M224.18 177.11L223.75 176.89L223.31 176.66L222.88 176.43L222.45 176.21L222.02 175.98L221.58 175.76L221.15 175.53L220.72 175.3L220.28 175.08L219.85 174.85L219.42 174.63L218.98 174.4L218.55 174.17L218.12 173.95L217.68 173.72L217.25 173.49L216.82 173.27L216.38 173.03L216.01 172.83L215.95 172.79L215.81 172.71L215.62 172.59L215.52 172.53L215.42 172.47L215.22 172.33L215.09 172.23L215.02 172.18L214.82 172L214.65 171.83L214.63 171.8L214.43 171.57L214.23 171.29L214.22 171.27L214.03 170.95L213.84 170.53L213.79 170.41L213.64 170.01L213.44 169.37L213.35 169.04L213.24 168.59L213.04 167.62L212.92 166.89L212.85 166.43L212.65 164.99L212.49 163.59L212.45 163.26L212.25 161.2L212.06 158.77L212.05 158.73L211.86 155.93L211.66 152.66L211.62 151.95L211.46 148.94L211.26 144.76L211.19 143L211.07 140.12L210.87 135.06L210.75 131.93L210.67 129.6L210.47 123.82L210.32 119.19L210.28 117.79L210.08 111.62L209.89 105.65L209.88 105.41L209.68 99.3L209.48 93.44L209.45 92.58L209.29 87.96L209.09 83.02L209.02 81.48L208.89 78.74L208.69 75.25L208.59 73.75L208.5 72.65L208.3 71.02L208.16 70.47L208.1 70.4L207.9 70.76L207.72 71.9L207.7 72.05L207.51 74.22L207.31 77.2L207.29 77.54L207.11 80.92L206.91 85.28L206.86 86.64L206.72 90.15L206.52 95.41L206.42 98.04L206.32 100.95L206.12 106.63L205.99 110.46L205.92 112.34L205.73 117.97L205.56 122.67L205.53 123.42L205.33 128.63L205.13 133.51L205.12 133.74L204.94 138.03L204.74 142.15L204.69 143.07L204.54 145.86L204.34 149.15L204.26 150.43L204.14 152.03L203.95 154.52L203.82 155.88L203.75 156.65L203.55 158.44L203.39 159.66L203.35 159.92L203.16 161.13L202.96 162.11L202.96 162.11L202.76 162.88L202.56 163.48L202.52 163.58L202.36 163.94L202.17 164.27L202.09 164.37L201.97 164.51L201.77 164.67L201.66 164.73L201.57 164.76L201.38 164.81L201.23 164.82L201.18 164.82L200.98 164.8L200.79 164.76L200.78 164.76L200.58 164.7L200.39 164.62L200.36 164.61L200.19 164.54L199.93 164.43L199.49 164.22L199.06 164L198.63 163.77L198.19 163.55L197.76 163.32L197.33 163.1L196.89 162.87L196.46 162.65L196.03 162.42L195.59 162.19L195.16 161.97L194.73 161.74L194.29 161.52L193.86 161.29L193.43 161.06L193 160.84L192.56 160.61L192.13 160.39L191.7 160.16L191.26 159.93L190.83 159.71L190.4 159.48L189.96 159.26L189.53 159.03L189.1 158.8L188.66 158.58L188.23 158.35L187.8 158.13L187.36 157.9L186.93 157.67L186.5 157.45L186.07 157.22L185.63 156.99L185.2 156.77L184.77 156.54L184.33 156.32L183.9 156.09L183.47 155.86L183.03 155.64L182.6 155.41L182.17 155.19L181.73 154.96L181.3 154.73L180.87 154.51L180.43 154.28L180 154.06L179.57 153.83L179.14 153.6L178.7 153.38L178.27 153.15L177.84 152.93L177.4 152.7L176.97 152.47L176.54 152.25L176.1 152.02L175.67 151.8L175.24 151.57L174.8 151.34L174.37 151.12L173.94 150.89L173.5 150.67L173.07 150.44L172.64 150.21L172.21 149.99L171.77 149.76L171.34 149.54L170.91 149.31L170.47 149.08L170.04 148.86L169.61 148.63L169.17 148.41L168.74 148.18L168.31 147.95L167.87 147.73L167.44 147.5L167.01 147.28L166.57 147.05L166.14 146.82L165.71 146.6L165.27 146.37L164.84 146.14L164.41 145.92L163.98 145.69L163.54 145.47L163.11 145.24L162.68 145.01L162.24 144.79L161.81 144.56L161.38 144.34L160.94 144.11L160.51 143.88L160.08 143.66L159.64 143.43L159.21 143.21L158.78 142.98L158.34 142.75L157.91 142.53L157.48 142.3L157.05 142.08L156.61 141.85L156.18 141.62L155.75 141.4L155.31 141.17L154.88 140.95M232.22 174.65L231.82 174.44L231.41 174.22L231 174.01L230.59 173.79L230.18 173.58L229.77 173.37L229.36 173.15L228.95 172.94L228.54 172.73L228.13 172.51L227.72 172.3L227.31 172.08L226.9 171.85L226.8 171.8L226.62 171.69L226.49 171.61L226.43 171.57L226.24 171.45L226.08 171.34L226.05 171.32L225.87 171.17L225.68 171L225.67 170.99L225.49 170.81L225.3 170.57L225.26 170.52L225.12 170.3L224.93 169.96L224.85 169.8L224.74 169.54L224.55 169.03L224.44 168.67L224.36 168.39L224.18 167.61L224.03 166.88L223.99 166.64L223.8 165.46L223.62 164.11L223.61 164.03L223.43 162.32L223.24 160.27L223.21 159.97L223.05 157.86L222.86 155.06L222.8 154.08L222.68 151.83L222.49 148.16L222.39 146.15L222.3 144.04L222.11 139.47L221.99 136.11L221.93 134.49L221.74 129.13L221.58 124.22L221.55 123.46L221.36 117.54L221.18 111.49L221.17 111.18L220.99 105.41L220.8 99.43L220.76 98.06L220.61 93.7L220.43 88.35L220.35 86.25L220.24 83.51L220.05 79.34L219.94 77.19L219.86 75.93L219.68 73.39L219.53 72.06L219.49 71.8L219.3 71.2L219.12 71.54L219.11 71.56L218.92 72.84L218.74 74.99L218.71 75.39L218.55 77.95L218.36 81.64L218.3 83.02L218.17 85.95L217.99 90.77L217.89 93.43L217.8 95.98L217.61 101.45L217.48 105.39L217.42 107.07L217.24 112.7L217.07 117.63L217.05 118.26L216.86 123.64L216.67 128.76L216.66 129.11L216.49 133.57L216.3 138.01L216.25 139.07L216.11 142.06L215.92 145.7L215.84 147.16L215.74 148.93L215.55 151.75L215.43 153.3L215.36 154.19L215.17 156.26L215.02 157.69L214.99 158.01L214.8 159.45L214.61 160.62L214.61 160.63L214.42 161.58L214.24 162.33L214.2 162.44L214.05 162.91L213.86 163.35L213.79 163.48L213.67 163.68L213.48 163.91L213.38 164L213.3 164.06L213.11 164.15L212.97 164.19L212.92 164.2L212.73 164.21L212.56 164.19L212.55 164.19L212.36 164.15L212.17 164.09L212.16 164.08L211.98 164.02L211.8 163.94L211.75 163.92L211.34 163.73L210.93 163.53L210.52 163.32L210.11 163.11L209.7 162.89L209.29 162.68L208.88 162.47L208.47 162.25L208.06 162.04L207.65 161.82L207.24 161.61L206.83 161.4L206.42 161.18L206.01 160.97L205.6 160.76L205.19 160.54L204.78 160.33L204.37 160.11L203.96 159.9L203.55 159.69L203.14 159.47L202.73 159.26L202.33 159.05L201.92 158.83L201.51 158.62L201.1 158.41L200.69 158.19L200.28 157.98L199.87 157.76L199.46 157.55L199.05 157.34L198.64 157.12L198.23 156.91L197.82 156.7L197.41 156.48L197 156.27L196.59 156.05L196.18 155.84L195.77 155.63L195.36 155.41L194.95 155.2L194.54 154.99L194.13 154.77L193.72 154.56L193.31 154.34L192.9 154.13L192.5 153.92L192.09 153.7L191.68 153.49L191.27 153.28L190.86 153.06L190.45 152.85L190.04 152.63L189.63 152.42L189.22 152.21L188.81 151.99L188.4 151.78L187.99 151.56L187.58 151.35L187.17 151.14L186.76 150.92L186.35 150.71L185.94 150.5L185.53 150.28L185.12 150.07L184.71 149.86L184.3 149.64L183.89 149.43L183.48 149.21L183.07 149L182.67 148.79L182.26 148.57L181.85 148.36L181.44 148.15L181.03 147.93L180.62 147.72L180.21 147.5L179.8 147.29L179.39 147.08L178.98 146.86L178.57 146.65L178.16 146.44L177.75 146.22L177.34 146.01L176.93 145.79L176.52 145.58L176.11 145.37L175.7 145.15L175.29 144.94L174.88 144.73L174.47 144.51L174.06 144.3L173.65 144.08L173.24 143.87L172.84 143.66L172.43 143.44L172.02 143.23L171.61 143.02L171.2 142.8L170.79 142.59L170.38 142.37L169.97 142.16L169.56 141.95L169.15 141.73L168.74 141.52L168.33 141.31L167.92 141.09L167.51 140.88L167.1 140.66L166.69 140.45M240.27 172.19L239.87 171.98L239.48 171.78L239.09 171.57L238.69 171.36L238.3 171.15L237.9 170.93L237.75 170.85L237.57 170.74L237.51 170.71L237.38 170.62L237.19 170.5L237.11 170.45L237 170.37L236.81 170.22L236.72 170.13L236.62 170.05L236.43 169.85L236.32 169.72L236.24 169.61L236.05 169.33L235.93 169.11L235.87 168.99L235.68 168.57L235.53 168.19L235.49 168.05L235.3 167.41L235.14 166.75L235.11 166.62L234.92 165.66L234.74 164.56L234.73 164.48L234.54 163.05L234.36 161.34L234.35 161.29L234.17 159.3L233.98 156.91L233.96 156.61L233.79 154.13L233.6 150.93L233.56 150.22L233.41 147.29L233.22 143.22L233.17 141.95L233.03 138.72L232.84 133.81L232.77 131.83L232.66 128.53L232.47 122.95L232.38 120.23L232.28 117.13L232.09 111.19L231.98 107.84L231.9 105.22L231.71 99.36L231.59 95.67L231.52 93.74L231.33 88.49L231.19 84.94L231.14 83.76L230.96 79.67L230.8 76.85L230.77 76.33L230.58 73.85L230.4 72.38L230.39 72.29L230.2 71.7L230.01 72.06L230.01 72.06L229.82 73.32L229.63 75.46L229.62 75.7L229.44 78.39L229.26 82.04L229.22 82.78L229.07 86.31L228.88 91.08L228.83 92.45L228.69 96.23L228.5 101.64L228.43 103.64L228.31 107.19L228.12 112.76L228.04 115.25L227.93 118.24L227.74 123.55L227.64 126.31L227.56 128.6L227.37 133.33L227.25 136.12L227.18 137.7L226.99 141.67L226.85 144.28L226.8 145.24L226.61 148.4L226.46 150.66L226.42 151.16L226.23 153.54L226.06 155.37L226.04 155.57L225.86 157.27L225.67 158.65L225.67 158.67L225.48 159.81L225.29 160.73L225.28 160.79L225.1 161.45L224.91 162.01L224.88 162.09L224.72 162.43L224.53 162.74L224.49 162.81L224.35 162.96L224.16 163.1L224.09 163.14L223.97 163.19L223.78 163.22L223.7 163.23L223.59 163.23L223.4 163.2L223.3 163.18L223.21 163.16L223.02 163.1L222.91 163.06L222.83 163.03L222.65 162.95L222.51 162.89L222.12 162.7L221.72 162.5L221.33 162.3L220.94 162.1L220.54 161.89L220.15 161.69L219.75 161.48L219.36 161.27L218.96 161.07L218.57 160.86L218.17 160.66L217.78 160.45L217.38 160.24L216.99 160.04L216.59 159.83L216.2 159.63L215.81 159.42L215.41 159.22L215.02 159.01L214.62 158.8L214.23 158.6L213.83 158.39L213.44 158.19L213.04 157.98L212.65 157.77L212.25 157.57L211.86 157.36L211.47 157.16L211.07 156.95L210.68 156.74L210.28 156.54L209.89 156.33L209.49 156.13L209.1 155.92L208.7 155.71L208.31 155.51L207.91 155.3L207.52 155.1L207.13 154.89L206.73 154.68L206.34 154.48L205.94 154.27L205.55 154.07L205.15 153.86L204.76 153.66L204.36 153.45L203.97 153.24L203.57 153.04L203.18 152.83L202.79 152.63L202.39 152.42L202 152.21L201.6 152.01L201.21 151.8L200.81 151.6L200.42 151.39L200.02 151.18L199.63 150.98L199.23 150.77L198.84 150.57L198.44 150.36L198.05 150.15L197.66 149.95L197.26 149.74L196.87 149.54L196.47 149.33L196.08 149.13L195.68 148.92L195.29 148.71L194.89 148.51L194.5 148.3L194.1 148.1L193.71 147.89L193.32 147.68L192.92 147.48L192.53 147.27L192.13 147.07L191.74 146.86L191.34 146.65L190.95 146.45L190.55 146.24L190.16 146.04L189.76 145.83L189.37 145.62L188.98 145.42L188.58 145.21L188.19 145.01L187.79 144.8L187.4 144.6L187 144.39L186.61 144.18L186.21 143.98L185.82 143.77L185.42 143.57L185.03 143.36L184.64 143.15L184.24 142.95L183.85 142.74L183.45 142.54L183.06 142.33L182.66 142.12L182.27 141.92L181.87 141.71L181.48 141.51L181.08 141.3L180.69 141.09L180.29 140.89L179.9 140.68L179.51 140.48L179.11 140.27L178.72 140.07L178.32 139.86L177.93 139.65L177.53 139.45L177.14 139.24M248.31 169.62L248.25 169.57L248.06 169.42L247.93 169.31L247.87 169.25L247.68 169.05L247.55 168.9L247.49 168.81L247.3 168.53L247.17 168.31L247.11 168.18L246.92 167.76L246.8 167.43L246.73 167.24L246.54 166.59L246.42 166.11L246.35 165.8L246.16 164.83L246.04 164.12L245.97 163.66L245.78 162.23L245.66 161.21L245.59 160.53L245.4 158.5L245.28 157.08L245.21 156.13L245.02 153.37L244.9 151.49L244.83 150.2L244.63 146.61L244.52 144.24L244.44 142.59L244.25 138.14L244.14 135.32L244.06 133.31L243.87 128.11L243.76 124.92L243.68 122.62L243.49 116.91L243.38 113.54L243.3 111.08L243.11 105.22L243 101.91L242.92 99.48L242.73 93.97L242.62 91.01L242.54 88.84L242.35 84.2L242.25 81.88L242.16 80.2L241.97 76.94L241.87 75.49L241.78 74.51L241.59 72.98L241.49 72.55L241.4 72.4L241.21 72.76L241.11 73.32L241.02 74.01L240.83 76.12L240.73 77.56L240.64 79.02L240.45 82.63L240.35 84.77L240.26 86.86L240.07 91.58L239.97 94.16L239.88 96.67L239.69 102.02L239.59 104.79L239.5 107.5L239.31 112.99L239.21 115.72L239.12 118.4L238.93 123.63L238.83 126.12L238.74 128.6L238.55 133.25L238.45 135.39L238.36 137.54L238.17 141.44L238.07 143.17L237.97 144.94L237.78 148.04L237.69 149.36L237.59 150.73L237.4 153.06L237.32 154.02L237.21 155.03L237.02 156.68L236.94 157.34L236.83 158.04L236.64 159.15L236.56 159.57L236.45 160.04L236.26 160.73L236.18 160.99L236.07 161.27L235.88 161.67L235.8 161.81L235.69 161.96L235.5 162.16L235.42 162.23L235.31 162.3L235.12 162.37L235.04 162.39L234.93 162.4L234.74 162.4L234.66 162.39L234.55 162.37L234.36 162.32L234.28 162.3L234.17 162.26L233.98 162.19L233.9 162.16L233.79 162.11L233.52 161.98L233.14 161.8L232.77 161.61L232.39 161.41L232.01 161.21L231.63 161.02L231.25 160.82L230.87 160.62L230.49 160.42L230.11 160.23L229.73 160.03L229.35 159.83L228.97 159.63L228.59 159.43L228.21 159.24L227.84 159.04L227.46 158.84L227.08 158.64L226.7 158.44L226.32 158.25L225.94 158.05L225.56 157.85L225.18 157.65L224.8 157.46L224.42 157.26L224.04 157.06L223.66 156.86L223.28 156.66L222.91 156.47L222.53 156.27L222.15 156.07L221.77 155.87L221.39 155.67L221.01 155.48L220.63 155.28L220.25 155.08L219.87 154.88L219.49 154.68L219.11 154.49L218.73 154.29L218.36 154.09L217.98 153.89L217.6 153.7L217.22 153.5L216.84 153.3L216.46 153.1L216.08 152.9L215.7 152.71L215.32 152.51L214.94 152.31L214.56 152.11L214.18 151.91L213.8 151.72L213.43 151.52L213.05 151.32L212.67 151.12L212.29 150.92L211.91 150.73L211.53 150.53L211.15 150.33L210.77 150.13L210.39 149.94L210.01 149.74L209.63 149.54L209.25 149.34L208.88 149.14L208.5 148.95L208.12 148.75L207.74 148.55L207.36 148.35L206.98 148.15L206.6 147.96L206.22 147.76L205.84 147.56L205.46 147.36L205.08 147.16L204.7 146.97L204.32 146.77L203.95 146.57L203.57 146.37L203.19 146.18L202.81 145.98L202.43 145.78L202.05 145.58L201.67 145.38L201.29 145.19L200.91 144.99L200.53 144.79L200.15 144.59L199.77 144.39L199.39 144.2L199.02 144L198.64 143.8L198.26 143.6L197.88 143.4L197.5 143.21L197.12 143.01L196.74 142.81L196.36 142.61L195.98 142.42L195.6 142.22L195.22 142.02L194.84 141.82L194.47 141.62L194.09 141.43L193.71 141.23L193.33 141.03L192.95 140.83L192.57 140.63L192.19 140.44L191.81 140.24L191.43 140.04L191.05 139.84L190.67 139.64L190.29 139.45L189.91 139.25L189.54 139.05L189.16 138.85L188.78 138.66L188.4 138.46L188.02 138.26L187.64 138.06" stroke="#7E2F8E" stroke-width="1.15" fill="none" stroke-linejoin="round"/>
<path d="M100.5 179.17L111.4 178.2L121.3 176.7L131.8 175.52L142.9 174.66L153.4 173.48L163.9 172.29L173.8 170.8L185.8 170.4L197.2 169.69L208.1 168.72L219.3 167.9L230.2 166.93L241.4 166.12" stroke="#0000ff" stroke-width="1" fill="none"/>
<path d="M98.1 176.77h4.8v4.8h-4.8zM109 175.8h4.8v4.8h-4.8zM118.9 174.3h4.8v4.8h-4.8zM129.4 173.12h4.8v4.8h-4.8zM140.5 172.26h4.8v4.8h-4.8zM151 171.08h4.8v4.8h-4.8zM161.5 169.89h4.8v4.8h-4.8zM171.4 168.4h4.8v4.8h-4.8zM183.4 168h4.8v4.8h-4.8zM194.8 167.29h4.8v4.8h-4.8zM205.7 166.32h4.8v4.8h-4.8zM216.9 165.5h4.8v4.8h-4.8zM227.8 164.53h4.8v4.8h-4.8zM239 163.72h4.8v4.8h-4.8z" stroke="#0000ff" stroke-width="1.1" fill="none"/>
<path d="M102.62 180.28L113.4 179.24L124.17 178.2L134.94 177.16L145.72 176.13L156.49 175.09L167.27 174.05L178.04 173.01L188.82 171.98L199.59 170.94L210.36 169.9L221.14 168.86L231.91 167.83L242.69 166.79" stroke="#ff0000" stroke-width="1" fill="none" stroke-dasharray="2.6 1 1 1"/>
<circle cx="102.62" cy="180.28" r="2.7" stroke="#ff0000" stroke-width="1.1" fill="none"/><circle cx="113.4" cy="179.24" r="2.7" stroke="#ff0000" stroke-width="1.1" fill="none"/><circle cx="124.17" cy="178.2" r="2.7" stroke="#ff0000" stroke-width="1.1" fill="none"/><circle cx="134.94" cy="177.16" r="2.7" stroke="#ff0000" stroke-width="1.1" fill="none"/><circle cx="145.72" cy="176.13" r="2.7" stroke="#ff0000" stroke-width="1.1" fill="none"/><circle cx="156.49" cy="175.09" r="2.7" stroke="#ff0000" stroke-width="1.1" fill="none"/><circle cx="167.27" cy="174.05" r="2.7" stroke="#ff0000" stroke-width="1.1" fill="none"/><circle cx="178.04" cy="173.01" r="2.7" stroke="#ff0000" stroke-width="1.1" fill="none"/><circle cx="188.82" cy="171.98" r="2.7" stroke="#ff0000" stroke-width="1.1" fill="none"/><circle cx="199.59" cy="170.94" r="2.7" stroke="#ff0000" stroke-width="1.1" fill="none"/><circle cx="210.36" cy="169.9" r="2.7" stroke="#ff0000" stroke-width="1.1" fill="none"/><circle cx="221.14" cy="168.86" r="2.7" stroke="#ff0000" stroke-width="1.1" fill="none"/><circle cx="231.91" cy="167.83" r="2.7" stroke="#ff0000" stroke-width="1.1" fill="none"/><circle cx="242.69" cy="166.79" r="2.7" stroke="#ff0000" stroke-width="1.1" fill="none"/>
<text transform="translate(34 155.4) scale(1 1.0)" text-anchor="end" class="tk">0</text><text transform="translate(34 127.18) scale(1 1.0)" text-anchor="end" class="tk">0.02</text><text transform="translate(34 98.95) scale(1 1.0)" text-anchor="end" class="tk">0.04</text><text transform="translate(34 70.73) scale(1 1.0)" text-anchor="end" class="tk">0.06</text><text transform="translate(34 42.5) scale(1 1.0)" text-anchor="end" class="tk">0.08</text><text transform="translate(132.2 215) scale(1 1.0)" text-anchor="end" class="tk">0</text><text transform="translate(104.89 200.75) scale(1 1.0)" text-anchor="end" class="tk">50</text><text transform="translate(77.59 186.5) scale(1 1.0)" text-anchor="end" class="tk">100</text><text transform="translate(50.28 172.25) scale(1 1.0)" text-anchor="end" class="tk">150</text><text transform="translate(139.3 215.9) scale(1 1.0)" class="tk">20</text><text transform="translate(171.47 206.05) scale(1 1.0)" class="tk">40</text><text transform="translate(203.65 196.2) scale(1 1.0)" class="tk">60</text><text transform="translate(235.82 186.35) scale(1 1.0)" class="tk">80</text><text transform="translate(268 176.5) scale(1 1.0)" class="tk">100</text>
<text transform="translate(9.6 96.45) rotate(-90)" text-anchor="middle" class="al">PDF of RUL</text>
<text transform="translate(64.55 205.05) rotate(24.5)" text-anchor="middle" class="al">RUL/(cycle)</text>
<text transform="translate(216.55 210.8) rotate(-12.5)" text-anchor="middle" class="al2">Current time/(cycle)</text>
<rect x="107.2" y="19.2" width="93.2" height="34.5" fill="#fff" stroke="#262626" stroke-width="0.9"/>
<path d="M110 26.2H137.2" stroke="#ff0000" stroke-width="1" stroke-dasharray="2.6 1 1 1"/>
<circle cx="123.6" cy="26.2" r="2.9" stroke="#ff0000" stroke-width="1.1" fill="none"/>
<path d="M110 37.4H137.2" stroke="#0000ff" stroke-width="1"/>
<rect x="121.4" y="35.2" width="4.4" height="4.4" stroke="#0000ff" stroke-width="1" fill="none"/>
<path d="M110 48.6H137.2" stroke="#7E2F8E" stroke-width="1"/>
<text transform="translate(139.6 29.3) scale(1 1.08)" class="lg">Actual RUL</text>
<text transform="translate(139.6 40.5) scale(1 1.08)" class="lg">Predicted RUL</text>
<text transform="translate(139.6 51.7) scale(1 1.08)" class="lg">PDF of RUL</text>
<text x="141.9" y="251.8" text-anchor="end" class="cap">(</text>
<text x="149" y="251.8" text-anchor="start" class="cap">)</text>
<text transform="translate(146.1 251.8) scale(0.92 1)" text-anchor="middle" class="cap2">a</text>
<path d="M534.4 204.2L435.1 152.7M435.1 152.7L435.1 40.3M566.92 194.27L467.62 142.77M467.62 142.77L467.62 30.37M599.45 184.35L500.15 132.85M500.15 132.85L500.15 20.45M631.98 174.43L532.68 122.93M532.68 122.93L532.68 10.53M664.5 164.5L565.2 113M565.2 113L565.2 0.6M534.4 204.2L664.5 164.5M664.5 164.5L664.5 52.1M484.75 178.45L614.85 138.75M614.85 138.75L614.85 26.35M435.1 152.7L565.2 113M565.2 113L565.2 0.6M435.1 152.7L565.2 113M565.2 113L664.5 164.5M435.1 124.6L565.2 84.9M565.2 84.9L664.5 136.4M435.1 96.5L565.2 56.8M565.2 56.8L664.5 108.3M435.1 68.4L565.2 28.7M565.2 28.7L664.5 80.2M435.1 40.3L565.2 0.6M565.2 0.6L664.5 52.1" stroke="#d3d3d3" stroke-width="0.8" fill="none"/>
<path d="M435.1 152.7L435.1 40.3M534.4 204.2L435.1 152.7M534.4 204.2L664.5 164.5M435.1 152.7L565.2 113M565.2 113L664.5 164.5M664.5 164.5L664.5 52.1M435.1 40.3L565.2 0.6M565.2 0.6L664.5 52.1" stroke="#262626" stroke-width="1.0" fill="none" stroke-linecap="square"/>
<path d="M435.1 152.7l1.72 -0.53M435.1 124.6l1.72 -0.53M435.1 96.5l1.72 -0.53M435.1 68.4l1.72 -0.53M435.1 40.3l1.72 -0.53M534.4 204.2l1.72 -0.53M484.75 178.45l1.72 -0.53M435.1 152.7l1.72 -0.53M534.4 204.2l-1.6 -0.83M566.92 194.27l-1.6 -0.83M599.45 184.35l-1.6 -0.83M631.98 174.43l-1.6 -0.83M664.5 164.5l-1.6 -0.83" stroke="#262626" stroke-width="1"/>
<path d="M565.2 113L565.2 0.6" stroke="#8c8c8c" stroke-width="0.9"/>
<path d="M542.53 201.72L541.97 201.43L541.4 201.13L540.84 200.84L540.28 200.55L539.71 200.26L539.15 199.96L538.58 199.67L538.02 199.38L537.46 199.09L536.89 198.79L536.33 198.5L535.77 198.21L535.2 197.92L534.64 197.62L534.07 197.33L533.51 197.04L532.95 196.75L532.91 196.73L532.38 196.46L532.21 196.36L531.82 196.16L531.5 196L531.25 195.87L530.79 195.63L530.69 195.58L530.13 195.29L530.08 195.26L529.56 194.99L529.38 194.9L529 194.7L528.67 194.53L528.44 194.41L527.96 194.16L527.87 194.12L527.31 193.82L527.25 193.8L526.74 193.53L526.55 193.43L526.18 193.24L525.84 193.06L525.62 192.95L525.13 192.69L525.05 192.65L524.49 192.36L524.42 192.33L523.92 192.07L523.72 191.96L523.36 191.77L523.01 191.59L522.8 191.48L522.3 191.22L522.23 191.19L521.67 190.89L521.59 190.85L521.11 190.59L520.89 190.47L520.54 190.28L520.18 190.09L519.98 189.97L519.47 189.69L519.41 189.65L518.85 189.32L518.76 189.26L518.29 188.96L518.06 188.8L517.72 188.57L517.35 188.29L517.16 188.14L516.64 187.69L516.59 187.64L516.03 187.08L515.93 186.97L515.47 186.41L515.23 186.09L514.9 185.62L514.52 184.99L514.34 184.67L513.81 183.63L513.78 183.55L513.21 182.21L513.1 181.93L512.65 180.64L512.4 179.86L512.08 178.82L511.69 177.39L511.52 176.73L510.98 174.5L510.96 174.39L510.39 171.81L510.27 171.24L509.83 169.04L509.57 167.69L509.26 166.12L508.86 163.98L508.7 163.14L508.15 160.26L508.14 160.19L507.57 157.37L507.44 156.75L507.01 154.78L506.74 153.65L506.45 152.54L506.03 151.16L505.88 150.73L505.32 149.45L505.32 149.44L504.75 148.71L504.61 148.62L504.19 148.56L503.91 148.6L503.63 148.67L503.2 148.85L503.06 148.92L502.5 149.26L502.49 149.27L501.93 149.69L501.78 149.81L501.37 150.17L501.08 150.44L500.81 150.7L500.37 151.14L500.24 151.27L499.68 151.87L499.66 151.89L499.12 152.49L498.95 152.67L498.55 153.12L498.25 153.47L497.99 153.77L497.54 154.29L497.42 154.42L496.86 155.07L496.83 155.1L496.3 155.72L496.12 155.91L495.73 156.35L495.42 156.71L495.17 156.98L494.71 157.48L494.61 157.59L494.04 158.19L494 158.23L493.48 158.77L493.29 158.95L492.91 159.33L492.59 159.64L492.35 159.86L491.88 160.29L491.79 160.37L491.22 160.86L491.17 160.9L490.66 161.32L490.46 161.48L490.09 161.76L489.76 162.01L489.53 162.17L489.05 162.5L488.97 162.55L488.4 162.91L488.34 162.95L487.84 163.24L487.63 163.35L487.28 163.55L486.93 163.72L486.71 163.82L486.22 164.04L486.15 164.07L485.58 164.3L485.51 164.33L485.02 164.5L484.8 164.57L484.46 164.68L484.1 164.78L483.89 164.83L483.39 164.95L483.33 164.96L482.76 165.07L482.68 165.08L482.2 165.16L481.97 165.18L481.64 165.22L481.27 165.25L481.07 165.26L480.56 165.29L480.51 165.29L479.95 165.3L479.85 165.3L479.38 165.28L479.14 165.28L478.82 165.26L478.44 165.23L478.25 165.21L477.73 165.16L477.69 165.15L477.13 165.08L477.02 165.06L476.56 164.99L476.31 164.94L476 164.88L475.43 164.77L474.87 164.64L474.31 164.5L473.74 164.35L473.18 164.19L472.62 164.03L472.05 163.85L471.49 163.66L470.92 163.47L470.36 163.27L469.8 163.06L469.23 162.85L468.67 162.63L468.1 162.4L467.54 162.17L466.98 161.93L466.41 161.69L465.85 161.45L465.29 161.2L464.72 160.95L464.16 160.69L463.59 160.43L463.03 160.17L462.47 159.91L461.9 159.64L461.34 159.37L460.77 159.1L460.21 158.83L459.65 158.56L459.08 158.28L458.52 158L457.96 157.72L457.39 157.44L456.83 157.16L456.26 156.88L455.7 156.6L455.14 156.31L454.57 156.03L454.01 155.74L453.44 155.46L452.88 155.17L452.32 154.88M550.66 199.24L550.15 198.97L549.63 198.7L549.12 198.44L548.6 198.17L548.09 197.9L547.58 197.64L547.06 197.37L546.55 197.1L546.03 196.84L545.52 196.57L545 196.3L544.49 196.04L543.97 195.77L543.46 195.5L542.95 195.23L542.43 194.97L541.92 194.7L541.4 194.43L540.89 194.17L540.37 193.9L539.86 193.63L539.34 193.37L538.83 193.1L538.31 192.83L537.8 192.57L537.29 192.3L536.77 192.03L536.26 191.77L535.74 191.5L535.63 191.44L535.23 191.23L535.18 191.21L534.74 190.98L534.71 190.97L534.3 190.75L534.2 190.7L533.86 190.52L533.68 190.43L533.41 190.29L533.17 190.17L532.97 190.06L532.66 189.9L532.53 189.83L532.14 189.63L532.08 189.6L531.64 189.37L531.63 189.36L531.2 189.14L531.11 189.1L530.75 188.91L530.6 188.83L530.31 188.68L530.08 188.56L529.87 188.44L529.57 188.29L529.42 188.21L529.05 188.01L528.98 187.97L528.54 187.72L528.54 187.72L528.09 187.45L528.02 187.41L527.65 187.16L527.51 187.06L527.21 186.83L527 186.65L526.76 186.44L526.48 186.15L526.32 185.97L525.97 185.5L525.88 185.37L525.45 184.64L525.43 184.6L524.99 183.61L524.94 183.47L524.55 182.31L524.42 181.88L524.1 180.64L523.91 179.77L523.66 178.53L523.39 177.01L523.22 175.91L522.88 173.53L522.78 172.73L522.37 169.28L522.33 168.98L521.89 164.69L521.85 164.3L521.45 159.94L521.34 158.7L521 154.85L520.82 152.73L520.56 149.64L520.31 146.7L520.12 144.52L519.79 141.01L519.67 139.78L519.28 136.09L519.23 135.68L518.79 132.47L518.76 132.34L518.34 130.37L518.25 130.08L517.9 129.5L517.73 129.5L517.46 129.7L517.22 130L517.01 130.33L516.71 130.95L516.57 131.26L516.19 132.23L516.13 132.41L515.68 133.73L515.68 133.76L515.24 135.2L515.16 135.47L514.8 136.77L514.65 137.33L514.35 138.43L514.13 139.28L513.91 140.14L513.62 141.29L513.47 141.89L513.1 143.34L513.02 143.65L512.59 145.38L512.58 145.41L512.14 147.16L512.08 147.4L511.7 148.87L511.56 149.39L511.25 150.55L511.05 151.31L510.81 152.17L510.53 153.16L510.37 153.74L510.02 154.93L509.92 155.24L509.5 156.6L509.48 156.68L509.04 158.04L508.99 158.18L508.59 159.32L508.47 159.65L508.15 160.53L507.96 161.02L507.71 161.65L507.44 162.28L507.26 162.7L506.93 163.44L506.82 163.67L506.42 164.49L506.38 164.56L505.93 165.38L505.9 165.44L505.49 166.12L505.39 166.29L505.05 166.8L504.87 167.05L504.6 167.4L504.36 167.71L504.16 167.94L503.84 168.29L503.72 168.42L503.33 168.79L503.27 168.84L502.83 169.21L502.81 169.22L502.39 169.52L502.3 169.58L501.94 169.79L501.79 169.87L501.5 170L501.27 170.1L501.06 170.18L500.76 170.28L500.62 170.32L500.24 170.41L500.17 170.42L499.73 170.49L499.21 170.54L498.7 170.54L498.18 170.51L497.67 170.46L497.15 170.37L496.64 170.26L496.13 170.14L495.61 169.99L495.1 169.83L494.58 169.65L494.07 169.46L493.55 169.26L493.04 169.05L492.52 168.83L492.01 168.6L491.5 168.37L490.98 168.13L490.47 167.89L489.95 167.65L489.44 167.4L488.92 167.14L488.41 166.89L487.89 166.63L487.38 166.38L486.86 166.12L486.35 165.86L485.84 165.59L485.32 165.33L484.81 165.07L484.29 164.8L483.78 164.54L483.26 164.27L482.75 164.01L482.23 163.74L481.72 163.48L481.21 163.21L480.69 162.95L480.18 162.68L479.66 162.41L479.15 162.15L478.63 161.88L478.12 161.61L477.6 161.35L477.09 161.08L476.57 160.81L476.06 160.55L475.55 160.28L475.03 160.01L474.52 159.75L474 159.48L473.49 159.21L472.97 158.95L472.46 158.68L471.94 158.41L471.43 158.14L470.92 157.88L470.4 157.61L469.89 157.34L469.37 157.08L468.86 156.81L468.34 156.54M558.79 196.76L558.27 196.49L557.75 196.22L557.24 195.95L556.72 195.68L556.2 195.41L555.68 195.14L555.16 194.87L554.64 194.6L554.12 194.33L553.6 194.06L553.08 193.79L552.56 193.52L552.04 193.25L551.52 192.98L551 192.72L550.48 192.45L549.96 192.18L549.44 191.91L548.92 191.64L548.4 191.37L547.89 191.1L547.37 190.83L546.85 190.56L546.33 190.29L545.81 190.02L545.29 189.75L544.77 189.48L544.25 189.21L543.73 188.94L543.21 188.67L542.69 188.4L542.17 188.14L541.65 187.87L541.13 187.6L540.61 187.33L540.58 187.31L540.22 187.13L540.09 187.06L539.87 186.94L539.57 186.79L539.51 186.76L539.16 186.57L539.05 186.52L538.81 186.39L538.53 186.25L538.45 186.21L538.1 186.02L538.02 185.98L537.74 185.84L537.5 185.71L537.39 185.65L537.03 185.46L536.98 185.43L536.68 185.27L536.46 185.15L536.32 185.08L535.97 184.88L535.94 184.86L535.62 184.67L535.42 184.54L535.26 184.44L534.91 184.18L534.9 184.18L534.55 183.89L534.38 183.72L534.2 183.53L533.86 183.11L533.84 183.09L533.49 182.52L533.34 182.24L533.13 181.8L532.82 180.97L532.78 180.85L532.43 179.64L532.3 179.13L532.07 178.07L531.78 176.49L531.72 176.09L531.36 173.63L531.26 172.84L531.01 170.62L530.74 167.99L530.65 167.03L530.3 162.85L530.22 161.88L529.94 158.09L529.7 154.57L529.59 152.84L529.24 147.2L529.18 146.37L528.88 141.36L528.66 137.78L528.53 135.52L528.17 129.92L528.15 129.52L527.82 124.84L527.63 122.39L527.46 120.52L527.11 117.2L527.11 117.18L526.75 115.05L526.59 114.48L526.4 114.2L526.07 114.37L526.05 114.4L525.69 115.11L525.55 115.52L525.34 116.23L525.03 117.47L524.98 117.68L524.63 119.41L524.51 120.04L524.27 121.38L523.99 123.1L523.92 123.54L523.56 125.86L523.47 126.49L523.21 128.29L522.95 130.12L522.86 130.8L522.5 133.36L522.43 133.87L522.15 135.94L521.91 137.64L521.79 138.51L521.44 141.04L521.39 141.36L521.08 143.52L520.87 144.96L520.73 145.92L520.37 148.24L520.35 148.37L520.02 150.46L519.83 151.57L519.67 152.56L519.31 154.52L519.31 154.54L518.96 156.4L518.8 157.2L518.6 158.13L518.28 159.61L518.25 159.73L517.89 161.2L517.76 161.74L517.54 162.55L517.24 163.6L517.18 163.77L516.83 164.87L516.72 165.2L516.48 165.86L516.2 166.56L516.12 166.74L515.77 167.51L515.68 167.69L515.41 168.19L515.16 168.62L515.06 168.78L514.7 169.29L514.64 169.37L514.35 169.71L514.12 169.95L513.99 170.07L513.64 170.36L513.6 170.39L513.29 170.6L513.08 170.71L512.93 170.78L512.58 170.92L512.56 170.92L512.22 171.01L512.04 171.05L511.52 171.09L511 171.08L510.48 171.01L509.96 170.9L509.44 170.76L508.93 170.59L508.41 170.39L507.89 170.18L507.37 169.96L506.85 169.72L506.33 169.48L505.81 169.23L505.29 168.97L504.77 168.71L504.25 168.45L503.73 168.18L503.21 167.92L502.69 167.65L502.17 167.39L501.65 167.12L501.13 166.85L500.61 166.58L500.09 166.31L499.57 166.04L499.06 165.77L498.54 165.5L498.02 165.24L497.5 164.97L496.98 164.7L496.46 164.43L495.94 164.16L495.42 163.89L494.9 163.62L494.38 163.35L493.86 163.08L493.34 162.81L492.82 162.54L492.3 162.27L491.78 162L491.26 161.73L490.74 161.46L490.22 161.19L489.71 160.92L489.19 160.66L488.67 160.39L488.15 160.12L487.63 159.85L487.11 159.58L486.59 159.31L486.07 159.04L485.55 158.77L485.03 158.5L484.51 158.23L483.99 157.96L483.47 157.69L482.95 157.42L482.43 157.15L481.91 156.88L481.39 156.61L480.87 156.34L480.35 156.08L479.84 155.81L479.32 155.54L478.8 155.27L478.28 155L477.76 154.73L477.24 154.46L476.72 154.19L476.2 153.92L475.68 153.65M566.92 194.27L566.41 194.01L565.9 193.74L565.39 193.48L564.88 193.21L564.37 192.95L563.86 192.68L563.35 192.42L562.83 192.15L562.32 191.89L561.81 191.62L561.3 191.36L560.79 191.09L560.28 190.83L559.77 190.56L559.25 190.3L558.74 190.03L558.23 189.77L557.72 189.5L557.21 189.24L556.7 188.97L556.19 188.71L555.67 188.44L555.16 188.17L554.65 187.91L554.14 187.64L553.63 187.38L553.12 187.11L552.61 186.85L552.09 186.58L551.58 186.32L551.07 186.05L550.56 185.79L550.05 185.52L549.54 185.26L549.03 184.99L548.51 184.73L548 184.46L547.61 184.26L547.49 184.2L547.3 184.1L546.99 183.94L546.98 183.93L546.69 183.78L546.47 183.67L546.38 183.62L546.07 183.46L545.96 183.4L545.76 183.3L545.45 183.13L545.45 183.13L545.15 182.97L544.94 182.85L544.84 182.8L544.53 182.63L544.42 182.57L544.22 182.45L543.92 182.26L543.91 182.25L543.61 182.05L543.4 181.89L543.3 181.81L542.99 181.53L542.89 181.42L542.69 181.19L542.38 180.77L542.38 180.77L542.07 180.24L541.87 179.81L541.76 179.56L541.45 178.7L541.36 178.37L541.15 177.59L540.84 176.2L540.84 176.18L540.53 174.4L540.33 173.03L540.22 172.19L539.92 169.5L539.82 168.56L539.61 166.27L539.31 162.59L539.3 162.46L538.99 158.08L538.8 155.02L538.68 153.14L538.38 147.69L538.29 146.02L538.07 141.85L537.78 136.03L537.76 135.76L537.45 129.58L537.26 125.82L537.15 123.53L536.84 117.85L536.75 116.36L536.53 112.76L536.24 108.72L536.22 108.5L535.92 105.25L535.73 103.85L535.61 103.17L535.3 102.36L535.22 102.35L534.99 102.56L534.71 103.28L534.68 103.35L534.38 104.63L534.2 105.59L534.07 106.34L533.76 108.44L533.68 109.01L533.45 110.86L533.17 113.3L533.15 113.55L532.84 116.46L532.66 118.22L532.53 119.55L532.22 122.75L532.15 123.52L531.92 126.03L531.64 129L531.61 129.34L531.3 132.63L531.13 134.46L530.99 135.88L530.68 139.04L530.62 139.73L530.38 142.1L530.1 144.69L530.07 145.02L529.76 147.8L529.59 149.24L529.45 150.41L529.15 152.85L529.08 153.33L528.84 155.1L528.57 156.91L528.53 157.17L528.22 159.06L528.06 159.99L527.91 160.77L527.61 162.3L527.55 162.58L527.3 163.67L527.04 164.71L526.99 164.87L526.68 165.93L526.52 166.42L526.38 166.84L526.07 167.63L526.01 167.75L525.76 168.29L525.5 168.77L525.45 168.85L525.15 169.32L524.99 169.52L524.84 169.69L524.53 169.99L524.48 170.04L524.22 170.22L523.97 170.37L523.91 170.4L523.61 170.52L523.46 170.56L523.3 170.59L522.99 170.63L522.95 170.63L522.43 170.61L521.92 170.53L521.41 170.39L520.9 170.21L520.39 170.01L519.88 169.79L519.37 169.55L518.85 169.31L518.34 169.06L517.83 168.8L517.32 168.54L516.81 168.28L516.3 168.01L515.79 167.75L515.27 167.49L514.76 167.22L514.25 166.96L513.74 166.69L513.23 166.43L512.72 166.16L512.21 165.9L511.69 165.63L511.18 165.37L510.67 165.1L510.16 164.84L509.65 164.57L509.14 164.3L508.63 164.04L508.11 163.77L507.6 163.51L507.09 163.24L506.58 162.98L506.07 162.71L505.56 162.45L505.05 162.18L504.53 161.92L504.02 161.65L503.51 161.39L503 161.12L502.49 160.86L501.98 160.59L501.47 160.33L500.96 160.06L500.44 159.8L499.93 159.53L499.42 159.27L498.91 159L498.4 158.73L497.89 158.47L497.38 158.2L496.86 157.94L496.35 157.67L495.84 157.41L495.33 157.14L494.82 156.88L494.31 156.61L493.8 156.35L493.28 156.08L492.77 155.82L492.26 155.55L491.75 155.29L491.24 155.02L490.73 154.76L490.22 154.49L489.7 154.23L489.19 153.96L488.68 153.7L488.17 153.43L487.66 153.17L487.15 152.9L486.64 152.63L486.12 152.37L485.61 152.1L485.1 151.84M575.06 191.79L574.56 191.54L574.06 191.28L573.56 191.02L573.06 190.76L572.57 190.5L572.07 190.24L571.57 189.99L571.07 189.73L570.57 189.47L570.08 189.21L569.58 188.95L569.08 188.69L568.58 188.44L568.08 188.18L567.59 187.92L567.09 187.66L566.59 187.4L566.09 187.14L565.59 186.89L565.1 186.63L564.6 186.37L564.1 186.11L563.6 185.85L563.1 185.59L562.6 185.34L562.11 185.08L561.61 184.82L561.11 184.56L560.61 184.3L560.11 184.04L559.62 183.79L559.12 183.53L558.62 183.27L558.12 183.01L557.62 182.75L557.13 182.49L556.63 182.24L556.13 181.98L555.9 181.86L555.63 181.72L555.63 181.72L555.35 181.57L555.13 181.46L555.08 181.43L554.81 181.29L554.64 181.2L554.54 181.15L554.26 181L554.14 180.93L553.99 180.85L553.72 180.7L553.64 180.65L553.45 180.54L553.17 180.37L553.14 180.35L552.9 180.19L552.64 179.99L552.63 179.98L552.36 179.74L552.15 179.52L552.08 179.45L551.81 179.11L551.65 178.86L551.54 178.67L551.27 178.12L551.15 177.84L550.99 177.41L550.72 176.51L550.65 176.24L550.45 175.36L550.18 173.91L550.15 173.78L549.9 172.11L549.66 170.09L549.63 169.87L549.36 167.17L549.16 164.82L549.09 163.93L548.81 160.12L548.66 157.71L548.54 155.74L548.27 150.79L548.16 148.68L548 145.31L547.72 139.39L547.66 138.01L547.45 133.13L547.18 126.69L547.17 126.35L546.91 120.25L546.67 114.75L546.63 114.02L546.36 108.22L546.17 104.5L546.09 103.08L545.82 98.79L545.67 96.92L545.54 95.55L545.27 93.49L545.17 93.05L545 92.7L544.73 92.85L544.68 92.94L544.46 93.57L544.18 94.85L544.18 94.88L543.91 96.65L543.68 98.56L543.64 98.94L543.37 101.66L543.18 103.73L543.09 104.78L542.82 108.21L542.68 110.05L542.55 111.9L542.28 115.78L542.18 117.11L542 119.79L541.73 123.86L541.69 124.52L541.46 127.93L541.19 131.9L541.19 131.95L540.91 135.86L540.69 138.94L540.64 139.62L540.37 143.19L540.19 145.39L540.1 146.55L539.82 149.68L539.69 151.07L539.55 152.56L539.28 155.18L539.2 155.92L539.01 157.54L538.73 159.65L538.7 159.91L538.46 161.51L538.2 163.08L538.19 163.14L537.92 164.55L537.7 165.51L537.64 165.75L537.37 166.76L537.2 167.3L537.1 167.61L536.83 168.3L536.71 168.56L536.55 168.86L536.28 169.3L536.21 169.4L536.01 169.64L535.74 169.89L535.71 169.91L535.46 170.07L535.21 170.18L535.19 170.19L534.92 170.26L534.71 170.28L534.65 170.28L534.37 170.27L534.22 170.25L534.1 170.23L533.72 170.14L533.22 169.97L532.72 169.77L532.22 169.54L531.73 169.3L531.23 169.05L530.73 168.8L530.23 168.54L529.73 168.29L529.24 168.03L528.74 167.77L528.24 167.51L527.74 167.25L527.24 167L526.75 166.74L526.25 166.48L525.75 166.22L525.25 165.96L524.75 165.7L524.25 165.45L523.76 165.19L523.26 164.93L522.76 164.67L522.26 164.41L521.76 164.16L521.27 163.9L520.77 163.64L520.27 163.38L519.77 163.12L519.27 162.86L518.78 162.61L518.28 162.35L517.78 162.09L517.28 161.83L516.78 161.57L516.29 161.31L515.79 161.06L515.29 160.8L514.79 160.54L514.29 160.28L513.8 160.02L513.3 159.76L512.8 159.51L512.3 159.25L511.8 158.99L511.31 158.73L510.81 158.47L510.31 158.21L509.81 157.96L509.31 157.7L508.82 157.44L508.32 157.18L507.82 156.92L507.32 156.66L506.82 156.41L506.33 156.15L505.83 155.89L505.33 155.63L504.83 155.37L504.33 155.11L503.83 154.86L503.34 154.6L502.84 154.34L502.34 154.08L501.84 153.82L501.34 153.56L500.85 153.31L500.35 153.05L499.85 152.79L499.35 152.53L498.85 152.27L498.36 152.01L497.86 151.76L497.36 151.5L496.86 151.24L496.36 150.98L495.87 150.72L495.37 150.46M583.19 189.31L582.71 189.06L582.23 188.81L581.75 188.56L581.26 188.32L580.78 188.07L580.3 187.82L579.82 187.57L579.34 187.32L578.86 187.07L578.38 186.82L577.9 186.57L577.42 186.32L576.94 186.07L576.46 185.82L575.98 185.57L575.5 185.32L575.02 185.07L574.54 184.83L574.05 184.58L573.57 184.33L573.09 184.08L572.61 183.83L572.13 183.58L571.65 183.33L571.17 183.08L570.69 182.83L570.21 182.58L569.73 182.33L569.25 182.08L568.77 181.83L568.29 181.58L567.81 181.34L567.33 181.09L566.84 180.84L566.36 180.59L565.88 180.34L565.4 180.09L565.21 179.99L564.96 179.86L564.92 179.84L564.72 179.73L564.48 179.6L564.44 179.58L564.24 179.47L563.99 179.34L563.96 179.32L563.75 179.21L563.51 179.06L563.48 179.05L563.26 178.92L563.02 178.75L563 178.74L562.78 178.57L562.54 178.37L562.52 178.35L562.29 178.12L562.05 177.83L562.04 177.81L561.81 177.46L561.57 177L561.56 176.99L561.32 176.42L561.08 175.69L561.08 175.67L560.84 174.75L560.6 173.57L560.6 173.56L560.35 172.08L560.12 170.28L560.11 170.24L559.87 167.98L559.63 165.37L559.63 165.26L559.38 162.01L559.15 158.45L559.14 158.21L558.9 153.84L558.67 149.29L558.65 148.89L558.41 143.39L558.19 138L558.17 137.41L557.93 131.04L557.71 125.18L557.68 124.4L557.44 117.66L557.23 111.88L557.2 111L556.96 104.61L556.75 99.59L556.71 98.73L556.47 93.54L556.27 89.91L556.23 89.25L555.99 86.02L555.79 84.27L555.74 83.97L555.5 83.2L555.31 83.31L555.26 83.41L555.01 84.3L554.83 85.43L554.77 85.84L554.53 87.99L554.35 89.99L554.29 90.71L554.04 93.93L553.87 96.58L553.8 97.59L553.56 101.61L553.39 104.66L553.32 105.92L553.07 110.42L552.91 113.62L552.83 115.04L552.59 119.71L552.42 122.85L552.35 124.35L552.1 128.9L551.94 131.81L551.86 133.3L551.62 137.5L551.46 140.06L551.37 141.46L551.13 145.16L550.98 147.3L550.89 148.57L550.65 151.68L550.5 153.4L550.4 154.49L550.16 156.99L550.02 158.31L549.92 159.21L549.68 161.14L549.54 162.11L549.43 162.81L549.19 164.24L549.06 164.92L548.95 165.44L548.71 166.45L548.58 166.9L548.46 167.27L548.22 167.94L548.1 168.22L547.98 168.47L547.74 168.88L547.62 169.05L547.49 169.2L547.25 169.42L547.14 169.5L547.01 169.58L546.76 169.68L546.66 169.71L546.52 169.73L546.28 169.74L546.18 169.74L546.04 169.72L545.79 169.68L545.69 169.66L545.21 169.5L544.73 169.31L544.25 169.09L543.77 168.85L543.29 168.61L542.81 168.37L542.33 168.12L541.85 167.87L541.37 167.62L540.89 167.37L540.41 167.13L539.93 166.88L539.45 166.63L538.97 166.38L538.48 166.13L538 165.88L537.52 165.63L537.04 165.38L536.56 165.13L536.08 164.88L535.6 164.63L535.12 164.38L534.64 164.13L534.16 163.88L533.68 163.64L533.2 163.39L532.72 163.14L532.24 162.89L531.76 162.64L531.27 162.39L530.79 162.14L530.31 161.89L529.83 161.64L529.35 161.39L528.87 161.14L528.39 160.89L527.91 160.64L527.43 160.39L526.95 160.15L526.47 159.9L525.99 159.65L525.51 159.4L525.03 159.15L524.55 158.9L524.06 158.65L523.58 158.4L523.1 158.15L522.62 157.9L522.14 157.65L521.66 157.4L521.18 157.15L520.7 156.9L520.22 156.66L519.74 156.41L519.26 156.16L518.78 155.91L518.3 155.66L517.82 155.41L517.34 155.16L516.85 154.91L516.37 154.66L515.89 154.41L515.41 154.16L514.93 153.91L514.45 153.66L513.97 153.41L513.49 153.17L513.01 152.92L512.53 152.67L512.05 152.42L511.57 152.17L511.09 151.92L510.61 151.67L510.13 151.42L509.64 151.17L509.16 150.92L508.68 150.67L508.2 150.42L507.72 150.17L507.24 149.92L506.76 149.68L506.28 149.43M591.32 186.83L590.85 186.59L590.39 186.35L589.92 186.11L589.45 185.86L588.99 185.62L588.52 185.38L588.05 185.14L587.59 184.89L587.12 184.65L586.65 184.41L586.18 184.17L585.72 183.93L585.25 183.68L584.78 183.44L584.32 183.2L583.85 182.96L583.38 182.72L582.92 182.47L582.45 182.23L581.98 181.99L581.52 181.75L581.05 181.51L580.58 181.26L580.12 181.02L579.65 180.78L579.18 180.54L578.72 180.3L578.25 180.05L577.78 179.81L577.32 179.57L576.85 179.33L576.38 179.09L575.92 178.84L575.45 178.6L575.17 178.46L574.98 178.36L574.95 178.34L574.73 178.22L574.52 178.11L574.51 178.1L574.29 177.98L574.06 177.85L574.05 177.84L573.84 177.72L573.62 177.58L573.58 177.55L573.4 177.42L573.18 177.25L573.12 177.2L572.95 177.05L572.73 176.81L572.65 176.71L572.51 176.53L572.29 176.17L572.18 175.97L572.07 175.72L571.85 175.16L571.72 174.76L571.62 174.44L571.4 173.53L571.25 172.78L571.18 172.39L570.96 170.96L570.78 169.6L570.74 169.19L570.51 167.03L570.32 164.72L570.29 164.42L570.07 161.31L569.85 157.68L569.85 157.66L569.63 153.45L569.41 148.66L569.38 148.15L569.18 143.31L568.96 137.44L568.92 136.18L568.74 131.12L568.52 124.46L568.45 122.36L568.3 117.58L568.07 110.66L567.98 107.83L567.85 103.86L567.63 97.4L567.52 94.26L567.41 91.47L567.19 86.28L567.05 83.5L566.97 81.99L566.74 78.78L566.58 77.19L566.52 76.76L566.3 76L566.12 76.17L566.08 76.27L565.86 77.29L565.65 78.9L565.63 79.04L565.41 81.48L565.19 84.55L565.18 84.67L564.97 88.18L564.75 92.28L564.72 92.88L564.53 96.77L564.3 101.56L564.25 102.76L564.08 106.56L563.86 111.66L563.78 113.45L563.64 116.8L563.42 121.87L563.32 124.13L563.19 126.82L562.97 131.58L562.85 134.13L562.75 136.1L562.53 140.34L562.38 142.97L562.31 144.27L562.09 147.87L561.92 150.38L561.86 151.12L561.64 154.04L561.45 156.29L561.42 156.62L561.2 158.88L560.98 160.78L560.98 160.84L560.75 162.51L560.53 163.93L560.52 164.03L560.31 165.12L560.09 166.09L560.05 166.25L559.87 166.89L559.65 167.52L559.58 167.67L559.42 168.02L559.2 168.4L559.12 168.52L558.98 168.68L558.76 168.89L558.65 168.96L558.54 169.02L558.31 169.1L558.18 169.13L558.09 169.14L557.87 169.14L557.72 169.13L557.65 169.12L557.43 169.07L557.25 169.02L556.78 168.85L556.32 168.64L555.85 168.42L555.38 168.19L554.92 167.95L554.45 167.71L553.98 167.47L553.52 167.22L553.05 166.98L552.58 166.74L552.12 166.5L551.65 166.26L551.18 166.01L550.71 165.77L550.25 165.53L549.78 165.29L549.31 165.05L548.85 164.8L548.38 164.56L547.91 164.32L547.45 164.08L546.98 163.84L546.51 163.59L546.05 163.35L545.58 163.11L545.11 162.87L544.65 162.63L544.18 162.38L543.71 162.14L543.25 161.9L542.78 161.66L542.31 161.42L541.85 161.17L541.38 160.93L540.91 160.69L540.45 160.45L539.98 160.21L539.51 159.96L539.05 159.72L538.58 159.48L538.11 159.24L537.65 159L537.18 158.75L536.71 158.51L536.25 158.27L535.78 158.03L535.31 157.79L534.85 157.54L534.38 157.3L533.91 157.06L533.45 156.82L532.98 156.57L532.51 156.33L532.05 156.09L531.58 155.85L531.11 155.61L530.65 155.36L530.18 155.12L529.71 154.88L529.25 154.64L528.78 154.4L528.31 154.15L527.85 153.91L527.38 153.67L526.91 153.43L526.45 153.19L525.98 152.94L525.51 152.7L525.05 152.46L524.58 152.22L524.11 151.98L523.65 151.73L523.18 151.49L522.71 151.25L522.25 151.01L521.78 150.77L521.31 150.52L520.85 150.28L520.38 150.04L519.91 149.8L519.45 149.56L518.98 149.31L518.51 149.07L518.05 148.83L517.58 148.59L517.11 148.35L516.65 148.1M599.45 184.35L598.99 184.11L598.53 183.87L598.07 183.64L597.61 183.4L597.16 183.16L596.7 182.92L596.24 182.68L595.78 182.45L595.32 182.21L594.86 181.97L594.4 181.73L593.94 181.49L593.48 181.26L593.02 181.02L592.57 180.78L592.11 180.54L591.65 180.3L591.19 180.07L590.73 179.83L590.27 179.59L589.81 179.35L589.35 179.11L588.89 178.88L588.44 178.64L587.98 178.4L587.52 178.16L587.06 177.92L586.6 177.69L586.14 177.45L585.68 177.21L585.22 176.97L585.05 176.88L584.85 176.77L584.76 176.72L584.64 176.66L584.43 176.54L584.3 176.47L584.23 176.42L584.02 176.3L583.85 176.18L583.82 176.16L583.61 176.01L583.4 175.84L583.39 175.83L583.2 175.65L582.99 175.42L582.93 175.34L582.78 175.14L582.58 174.79L582.47 174.57L582.37 174.35L582.16 173.81L582.01 173.3L581.96 173.11L581.75 172.24L581.55 171.18L581.55 171.15L581.34 169.79L581.13 168.11L581.09 167.74L580.93 166.07L580.72 163.6L580.63 162.41L580.51 160.66L580.31 157.2L580.17 154.68L580.1 153.21L579.9 148.65L579.72 144.21L579.69 143.53L579.48 137.88L579.28 131.75L579.26 131.13L579.07 125.21L578.86 118.38L578.8 116.15L578.66 111.39L578.45 104.41L578.34 100.66L578.24 97.6L578.04 91.17L577.88 86.59L577.83 85.29L577.63 80.17L577.42 75.98L577.42 75.96L577.21 72.81L577.01 70.84L576.96 70.57L576.8 70.1L576.59 70.42L576.5 70.82L576.39 71.57L576.18 73.52L576.04 75.25L575.97 76.23L575.77 79.63L575.58 83.16L575.56 83.63L575.36 88.14L575.15 93.06L575.13 93.65L574.94 98.29L574.74 103.73L574.67 105.6L574.53 109.26L574.32 114.79L574.21 117.87L574.12 120.23L573.91 125.5L573.75 129.5L573.7 130.55L573.5 135.3L573.29 139.73L573.29 139.78L573.09 143.81L572.88 147.51L572.83 148.33L572.67 150.83L572.47 153.79L572.37 155.02L572.26 156.38L572.05 158.62L571.91 159.98L571.85 160.55L571.64 162.18L571.45 163.43L571.44 163.55L571.23 164.67L571.02 165.59L570.99 165.7L570.82 166.33L570.61 166.91L570.54 167.08L570.4 167.35L570.2 167.69L570.08 167.84L569.99 167.93L569.78 168.1L569.62 168.19L569.58 168.21L569.37 168.27L569.17 168.29L569.16 168.29L568.96 168.27L568.75 168.24L568.7 168.23L568.55 168.18L568.24 168.08L567.78 167.89L567.32 167.67L566.86 167.44L566.41 167.21L565.95 166.97L565.49 166.74L565.03 166.5L564.57 166.26L564.11 166.02L563.65 165.78L563.19 165.55L562.73 165.31L562.27 165.07L561.82 164.83L561.36 164.59L560.9 164.36L560.44 164.12L559.98 163.88L559.52 163.64L559.06 163.4L558.6 163.17L558.14 162.93L557.69 162.69L557.23 162.45L556.77 162.21L556.31 161.98L555.85 161.74L555.39 161.5L554.93 161.26L554.47 161.02L554.01 160.79L553.55 160.55L553.1 160.31L552.64 160.07L552.18 159.83L551.72 159.6L551.26 159.36L550.8 159.12L550.34 158.88L549.88 158.64L549.42 158.41L548.97 158.17L548.51 157.93L548.05 157.69L547.59 157.45L547.13 157.21L546.67 156.98L546.21 156.74L545.75 156.5L545.29 156.26L544.83 156.02L544.38 155.79L543.92 155.55L543.46 155.31L543 155.07L542.54 154.83L542.08 154.6L541.62 154.36L541.16 154.12L540.7 153.88L540.25 153.64L539.79 153.41L539.33 153.17L538.87 152.93L538.41 152.69L537.95 152.45L537.49 152.22L537.03 151.98L536.57 151.74L536.11 151.5L535.66 151.26L535.2 151.03L534.74 150.79L534.28 150.55L533.82 150.31L533.36 150.07L532.9 149.84L532.44 149.6L531.98 149.36L531.53 149.12L531.07 148.88L530.61 148.65L530.15 148.41L529.69 148.17L529.23 147.93L528.77 147.69L528.31 147.46L527.85 147.22L527.39 146.98L526.94 146.74L526.48 146.5L526.02 146.27M607.58 181.87L607.15 181.65L606.72 181.42L606.29 181.2L605.86 180.98L605.43 180.76L605 180.53L604.57 180.31L604.15 180.09L603.72 179.86L603.29 179.64L602.86 179.42L602.43 179.2L602 178.97L601.57 178.75L601.14 178.53L600.71 178.3L600.28 178.08L599.85 177.86L599.42 177.64L598.99 177.41L598.56 177.19L598.13 176.97L597.7 176.75L597.27 176.52L596.84 176.3L596.41 176.08L595.99 175.85L595.74 175.72L595.56 175.62L595.54 175.61L595.35 175.51L595.16 175.4L595.13 175.38L594.96 175.28L594.77 175.16L594.7 175.11L594.58 175.03L594.38 174.88L594.27 174.78L594.19 174.71L593.99 174.51L593.84 174.32L593.8 174.27L593.61 173.98L593.41 173.61L593.41 173.6L593.22 173.15L593.03 172.57L592.98 172.4L592.83 171.84L592.64 170.92L592.55 170.41L592.45 169.77L592.25 168.34L592.12 167.17L592.06 166.59L591.87 164.46L591.69 162.14L591.67 161.9L591.48 158.87L591.29 155.32L591.26 154.8L591.09 151.23L590.9 146.59L590.83 144.79L590.71 141.39L590.51 135.67L590.4 132.15L590.32 129.48L590.13 122.91L589.97 117.47L589.93 116.07L589.74 109.08L589.55 102.11L589.54 101.98L589.35 95.34L589.16 88.94L589.11 87.49L588.97 83.12L588.77 78.04L588.68 76L588.58 73.88L588.39 70.77L588.25 69.31L588.19 68.82L588 68.1L587.83 68.36L587.81 68.43L587.61 69.63L587.42 71.65L587.4 71.95L587.23 74.45L587.03 77.95L586.97 79.3L586.84 82.06L586.65 86.71L586.54 89.52L586.45 91.76L586.26 97.13L586.11 101.49L586.07 102.69L585.87 108.34L585.68 113.99L585.68 114.02L585.49 119.53L585.29 124.9L585.25 126.08L585.1 130.01L584.91 134.83L584.82 136.88L584.71 139.3L584.52 143.41L584.39 145.94L584.33 147.13L584.13 150.46L583.96 153.1L583.94 153.41L583.75 155.99L583.55 158.22L583.53 158.45L583.36 160.13L583.17 161.74L583.1 162.21L582.97 163.08L582.78 164.19L582.67 164.7L582.59 165.08L582.39 165.8L582.24 166.24L582.2 166.36L582.01 166.79L581.81 167.11L581.81 167.11L581.62 167.34L581.42 167.5L581.38 167.53L581.23 167.61L581.04 167.66L580.95 167.67L580.84 167.68L580.65 167.66L580.52 167.64L580.46 167.63L580.26 167.58L580.1 167.52L579.67 167.35L579.24 167.15L578.81 166.94L578.38 166.72L577.95 166.5L577.52 166.28L577.09 166.05L576.66 165.83L576.23 165.61L575.8 165.39L575.37 165.16L574.94 164.94L574.51 164.72L574.08 164.5L573.65 164.27L573.22 164.05L572.79 163.83L572.36 163.6L571.94 163.38L571.51 163.16L571.08 162.94L570.65 162.71L570.22 162.49L569.79 162.27L569.36 162.05L568.93 161.82L568.5 161.6L568.07 161.38L567.64 161.15L567.21 160.93L566.78 160.71L566.35 160.49L565.92 160.26L565.49 160.04L565.06 159.82L564.63 159.59L564.2 159.37L563.78 159.15L563.35 158.93L562.92 158.7L562.49 158.48L562.06 158.26L561.63 158.04L561.2 157.81L560.77 157.59L560.34 157.37L559.91 157.14L559.48 156.92L559.05 156.7L558.62 156.48L558.19 156.25L557.76 156.03L557.33 155.81L556.9 155.59L556.47 155.36L556.04 155.14L555.62 154.92L555.19 154.69L554.76 154.47L554.33 154.25L553.9 154.03L553.47 153.8L553.04 153.58L552.61 153.36L552.18 153.14L551.75 152.91L551.32 152.69L550.89 152.47L550.46 152.24L550.03 152.02L549.6 151.8L549.17 151.58L548.74 151.35L548.31 151.13L547.88 150.91L547.46 150.69L547.03 150.46L546.6 150.24L546.17 150.02L545.74 149.79L545.31 149.57L544.88 149.35L544.45 149.13L544.02 148.9L543.59 148.68L543.16 148.46L542.73 148.24L542.3 148.01L541.87 147.79L541.44 147.57L541.01 147.34L540.58 147.12L540.15 146.9L539.72 146.68L539.3 146.45L538.87 146.23M615.71 179.39L615.3 179.17L614.88 178.95L614.46 178.74L614.04 178.52L613.63 178.31L613.21 178.09L612.79 177.87L612.37 177.66L611.96 177.44L611.54 177.22L611.12 177.01L610.7 176.79L610.29 176.57L609.87 176.36L609.45 176.14L609.03 175.92L608.62 175.71L608.2 175.49L607.78 175.27L607.37 175.06L606.95 174.84L606.53 174.62L606.11 174.4L606.04 174.37L605.87 174.27L605.7 174.17L605.69 174.17L605.51 174.06L605.33 173.95L605.28 173.92L605.15 173.83L604.97 173.7L604.86 173.61L604.79 173.56L604.62 173.38L604.44 173.19L604.44 173.18L604.26 172.93L604.08 172.62L604.03 172.52L603.9 172.24L603.72 171.75L603.61 171.38L603.54 171.14L603.37 170.36L603.19 169.42L603.19 169.39L603.01 168.18L602.83 166.68L602.77 166.15L602.65 164.84L602.47 162.62L602.36 160.95L602.29 159.96L602.12 156.82L601.94 153.23L601.94 153.17L601.76 148.97L601.58 144.22L601.52 142.58L601.4 138.93L601.22 133.12L601.1 129.05L601.04 126.86L600.86 120.23L600.69 113.38L600.69 113.34L600.51 106.33L600.33 99.35L600.27 97.08L600.15 92.58L599.97 86.2L599.85 82.25L599.79 80.4L599.61 75.36L599.44 71.22L599.44 71.21L599.26 68.14L599.08 66.21L599.02 65.83L598.9 65.5L598.72 65.86L598.6 66.61L598.54 67.1L598.36 69.2L598.19 72.1L598.18 72.15L598.01 75.72L597.83 79.98L597.77 81.61L597.65 84.78L597.47 89.99L597.35 93.77L597.29 95.52L597.11 101.24L596.94 107.04L596.93 107.19L596.76 112.83L596.58 118.5L596.51 120.51L596.4 123.98L596.22 129.19L596.1 132.64L596.04 134.09L595.86 138.63L595.68 142.78L595.68 142.91L595.51 146.53L595.33 149.88L595.26 151.03L595.15 152.84L594.97 155.42L594.84 157.03L594.79 157.65L594.61 159.54L594.43 161.14L594.43 161.2L594.26 162.46L594.08 163.55L594.01 163.9L593.9 164.42L593.72 165.12L593.59 165.53L593.54 165.67L593.36 166.09L593.18 166.4L593.17 166.41L593.01 166.62L592.83 166.78L592.76 166.82L592.65 166.87L592.47 166.93L592.34 166.94L592.29 166.94L592.11 166.93L591.93 166.9L591.92 166.9L591.76 166.85L591.51 166.77L591.09 166.59L590.67 166.39L590.25 166.18L589.84 165.97L589.42 165.75L589 165.53L588.58 165.32L588.17 165.1L587.75 164.88L587.33 164.67L586.91 164.45L586.5 164.24L586.08 164.02L585.66 163.8L585.24 163.59L584.83 163.37L584.41 163.15L583.99 162.94L583.57 162.72L583.16 162.5L582.74 162.29L582.32 162.07L581.91 161.85L581.49 161.64L581.07 161.42L580.65 161.2L580.24 160.99L579.82 160.77L579.4 160.56L578.98 160.34L578.57 160.12L578.15 159.91L577.73 159.69L577.31 159.47L576.9 159.26L576.48 159.04L576.06 158.82L575.64 158.61L575.23 158.39L574.81 158.17L574.39 157.96L573.98 157.74L573.56 157.52L573.14 157.31L572.72 157.09L572.31 156.88L571.89 156.66L571.47 156.44L571.05 156.23L570.64 156.01L570.22 155.79L569.8 155.58L569.38 155.36L568.97 155.14L568.55 154.93L568.13 154.71L567.71 154.49L567.3 154.28L566.88 154.06L566.46 153.85L566.05 153.63L565.63 153.41L565.21 153.2L564.79 152.98L564.38 152.76L563.96 152.55L563.54 152.33L563.12 152.11L562.71 151.9L562.29 151.68L561.87 151.46L561.45 151.25L561.04 151.03L560.62 150.81L560.2 150.6L559.78 150.38L559.37 150.17L558.95 149.95L558.53 149.73L558.12 149.52L557.7 149.3L557.28 149.08L556.86 148.87L556.45 148.65L556.03 148.43L555.61 148.22L555.19 148L554.78 147.78L554.36 147.57L553.94 147.35L553.52 147.13L553.11 146.92L552.69 146.7L552.27 146.49L551.85 146.27L551.44 146.05L551.02 145.84L550.6 145.62L550.19 145.4L549.77 145.19L549.35 144.97L548.93 144.75M623.84 176.91L623.45 176.7L623.06 176.5L622.67 176.3L622.27 176.09L621.88 175.89L621.49 175.68L621.1 175.48L620.7 175.28L620.31 175.07L619.92 174.87L619.53 174.67L619.13 174.46L618.74 174.26L618.35 174.06L617.96 173.85L617.56 173.65L617.17 173.44L616.82 173.25L616.78 173.23L616.65 173.16L616.47 173.06L616.39 173.01L616.3 172.96L616.13 172.85L615.99 172.76L615.95 172.73L615.78 172.6L615.61 172.45L615.6 172.44L615.43 172.27L615.26 172.06L615.21 171.99L615.09 171.81L614.92 171.49L614.82 171.27L614.74 171.09L614.57 170.59L614.42 170.07L614.4 169.96L614.22 169.17L614.05 168.18L614.03 168.05L613.88 166.96L613.7 165.45L613.64 164.77L613.53 163.61L613.36 161.39L613.25 159.7L613.19 158.75L613.01 155.65L612.85 152.33L612.84 152.05L612.67 147.94L612.49 143.3L612.46 142.32L612.32 138.15L612.15 132.53L612.07 129.74L611.98 126.48L611.8 120.1L611.67 115.23L611.63 113.48L611.46 106.76L611.28 100.09L611.28 100.04L611.11 93.63L610.94 87.56L610.89 85.97L610.76 82.04L610.59 77.25L610.5 74.99L610.42 73.33L610.25 70.41L610.1 68.83L610.07 68.58L609.9 67.9L609.73 68.25L609.71 68.33L609.55 69.48L609.38 71.55L609.32 72.48L609.21 74.41L609.04 77.98L608.93 80.53L608.86 82.17L608.69 86.88L608.53 91.45L608.52 92L608.34 97.42L608.17 103.02L608.14 103.95L608 108.69L607.82 114.33L607.75 116.75L607.65 119.86L607.48 125.18L607.36 128.77L607.31 130.23L607.13 134.97L606.96 139.23L606.96 139.34L606.79 143.34L606.61 146.94L606.57 147.75L606.44 150.14L606.27 152.96L606.18 154.26L606.1 155.41L605.92 157.51L605.79 158.94L605.75 159.3L605.58 160.79L605.4 162.03L605.39 162.09L605.23 163.04L605.06 163.85L605 164.07L604.88 164.49L604.71 164.99L604.61 165.22L604.54 165.36L604.37 165.64L604.22 165.82L604.19 165.84L604.02 165.97L603.85 166.05L603.82 166.06L603.67 166.09L603.5 166.1L603.43 166.09L603.33 166.08L603.15 166.04L603.04 166.01L602.98 165.99L602.65 165.87L602.25 165.69L601.86 165.5L601.47 165.3L601.08 165.1L600.68 164.89L600.29 164.69L599.9 164.49L599.51 164.28L599.11 164.08L598.72 163.88L598.33 163.67L597.94 163.47L597.54 163.27L597.15 163.06L596.76 162.86L596.37 162.66L595.97 162.45L595.58 162.25L595.19 162.04L594.8 161.84L594.4 161.64L594.01 161.43L593.62 161.23L593.23 161.03L592.83 160.82L592.44 160.62L592.05 160.42L591.66 160.21L591.26 160.01L590.87 159.81L590.48 159.6L590.08 159.4L589.69 159.19L589.3 158.99L588.91 158.79L588.51 158.58L588.12 158.38L587.73 158.18L587.34 157.97L586.94 157.77L586.55 157.57L586.16 157.36L585.77 157.16L585.37 156.95L584.98 156.75L584.59 156.55L584.2 156.34L583.8 156.14L583.41 155.94L583.02 155.73L582.63 155.53L582.23 155.33L581.84 155.12L581.45 154.92L581.06 154.72L580.66 154.51L580.27 154.31L579.88 154.1L579.49 153.9L579.09 153.7L578.7 153.49L578.31 153.29L577.92 153.09L577.52 152.88L577.13 152.68L576.74 152.48L576.35 152.27L575.95 152.07L575.56 151.87L575.17 151.66L574.78 151.46L574.38 151.25L573.99 151.05L573.6 150.85L573.21 150.64L572.81 150.44L572.42 150.24L572.03 150.03L571.64 149.83L571.24 149.63L570.85 149.42L570.46 149.22L570.07 149.01L569.67 148.81L569.28 148.61L568.89 148.4L568.49 148.2L568.1 148L567.71 147.79L567.32 147.59L566.92 147.39L566.53 147.18L566.14 146.98L565.75 146.78L565.35 146.57L564.96 146.37L564.57 146.16L564.18 145.96L563.78 145.76L563.39 145.55L563 145.35L562.61 145.15L562.21 144.94L561.82 144.74L561.43 144.54L561.04 144.33M631.98 174.42L631.59 174.23L631.21 174.03L630.83 173.83L630.45 173.64L630.07 173.44L629.69 173.24L629.31 173.04L628.93 172.85L628.55 172.65L628.17 172.45L627.79 172.25L627.41 172.05L627.11 171.89L627.03 171.84L626.95 171.8L626.79 171.71L626.64 171.62L626.63 171.61L626.46 171.5L626.3 171.38L626.26 171.36L626.14 171.25L625.97 171.1L625.88 171L625.81 170.92L625.65 170.71L625.5 170.47L625.49 170.44L625.32 170.11L625.16 169.7L625.12 169.58L625 169.18L624.83 168.52L624.74 168.07L624.67 167.7L624.51 166.68L624.36 165.54L624.35 165.42L624.18 163.87L624.02 161.99L623.98 161.46L623.86 159.73L623.69 157.06L623.6 155.27L623.53 153.93L623.37 150.31L623.22 146.52L623.21 146.19L623.04 141.57L622.88 136.45L622.84 135.02L622.72 130.88L622.55 124.9L622.46 121.15L622.39 118.61L622.23 112.11L622.08 105.93L622.07 105.53L621.9 99.01L621.74 92.71L621.69 91.02L621.58 86.79L621.41 81.42L621.31 78.46L621.25 76.77L621.09 72.96L620.93 70.23L620.93 70.13L620.76 68.35L620.6 67.7L620.55 67.71L620.44 68.06L620.27 69.31L620.17 70.53L620.11 71.4L619.95 74.29L619.79 77.77L619.79 77.89L619.62 82.12L619.46 86.86L619.41 88.4L619.3 92.01L619.13 97.45L619.03 101.06L618.97 103.07L618.81 108.75L618.65 114.29L618.65 114.39L618.48 119.9L618.32 125.2L618.27 126.84L618.16 130.21L617.99 134.9L617.89 137.79L617.83 139.23L617.67 143.16L617.51 146.69L617.51 146.7L617.34 149.83L617.18 152.59L617.13 153.42L617.02 154.97L616.85 157.01L616.74 158.2L616.69 158.73L616.53 160.17L616.37 161.35L616.36 161.36L616.2 162.31L616.04 163.08L615.98 163.31L615.88 163.69L615.71 164.15L615.6 164.41L615.55 164.51L615.39 164.76L615.23 164.95L615.22 164.95L615.06 165.07L614.9 165.14L614.84 165.15L614.74 165.17L614.57 165.17L614.46 165.16L614.41 165.15L614.25 165.12L614.09 165.07L614.08 165.06L613.7 164.91L613.32 164.74L612.94 164.55L612.56 164.35L612.18 164.16L611.8 163.96L611.41 163.76L611.03 163.56L610.65 163.37L610.27 163.17L609.89 162.97L609.51 162.77L609.13 162.58L608.75 162.38L608.37 162.18L607.99 161.98L607.61 161.79L607.23 161.59L606.85 161.39L606.46 161.19L606.08 161L605.7 160.8L605.32 160.6L604.94 160.4L604.56 160.21L604.18 160.01L603.8 159.81L603.42 159.61L603.04 159.42L602.66 159.22L602.28 159.02L601.9 158.82L601.51 158.63L601.13 158.43L600.75 158.23L600.37 158.03L599.99 157.84L599.61 157.64L599.23 157.44L598.85 157.25L598.47 157.05L598.09 156.85L597.71 156.65L597.33 156.46L596.95 156.26L596.56 156.06L596.18 155.86L595.8 155.67L595.42 155.47L595.04 155.27L594.66 155.07L594.28 154.88L593.9 154.68L593.52 154.48L593.14 154.28L592.76 154.09L592.38 153.89L592 153.69L591.62 153.49L591.23 153.3L590.85 153.1L590.47 152.9L590.09 152.7L589.71 152.51L589.33 152.31L588.95 152.11L588.57 151.91L588.19 151.72L587.81 151.52L587.43 151.32L587.05 151.12L586.67 150.93L586.28 150.73L585.9 150.53L585.52 150.33L585.14 150.14L584.76 149.94L584.38 149.74L584 149.54L583.62 149.35L583.24 149.15L582.86 148.95L582.48 148.75L582.1 148.56L581.72 148.36L581.33 148.16L580.95 147.96L580.57 147.77L580.19 147.57L579.81 147.37L579.43 147.17L579.05 146.98L578.67 146.78L578.29 146.58L577.91 146.38L577.53 146.19L577.15 145.99L576.77 145.79L576.38 145.59L576 145.4L575.62 145.2L575.24 145L574.86 144.8L574.48 144.61L574.1 144.41L573.72 144.21L573.34 144.01L572.96 143.82L572.58 143.62L572.2 143.42L571.82 143.22L571.44 143.03L571.05 142.83M640.11 171.94L639.75 171.76L639.4 171.57L639.04 171.39L638.69 171.2L638.39 171.04L638.33 171.01L638.22 170.95L638.06 170.85L637.98 170.8L637.89 170.74L637.72 170.63L637.62 170.56L637.55 170.51L637.38 170.37L637.27 170.27L637.21 170.21L637.04 170.02L636.91 169.85L636.87 169.8L636.7 169.52L636.56 169.23L636.53 169.18L636.36 168.75L636.2 168.24L636.19 168.22L636.03 167.55L635.86 166.72L635.85 166.67L635.69 165.69L635.52 164.43L635.49 164.2L635.35 162.89L635.18 161.03L635.14 160.49L635.01 158.81L634.84 156.19L634.78 155.15L634.67 153.14L634.5 149.63L634.43 147.88L634.33 145.65L634.16 141.19L634.07 138.53L634 136.28L633.83 130.95L633.72 127.28L633.66 125.26L633.49 119.28L633.36 114.67L633.32 113.12L633.15 106.9L633.01 101.66L632.98 100.74L632.81 94.8L632.65 89.52L632.64 89.24L632.47 84.2L632.3 79.82L632.3 79.64L632.13 76.25L631.97 73.59L631.94 73.29L631.8 71.93L631.63 71.31L631.59 71.31L631.46 71.66L631.29 72.86L631.23 73.47L631.12 74.9L630.95 77.69L630.88 79.15L630.78 81.19L630.61 85.28L630.52 87.7L630.44 89.87L630.27 94.85L630.17 98.17L630.1 100.11L629.94 105.52L629.81 109.54L629.77 110.99L629.6 116.41L629.46 120.82L629.43 121.69L629.26 126.75L629.1 131.23L629.09 131.54L628.92 136L628.75 140.11L628.75 140.23L628.58 143.83L628.41 147.16L628.39 147.56L628.24 150.11L628.07 152.68L628.04 153.22L627.91 154.9L627.74 156.79L627.68 157.34L627.57 158.38L627.4 159.7L627.33 160.19L627.23 160.78L627.06 161.65L626.97 162.03L626.89 162.34L626.72 162.88L626.62 163.15L626.55 163.29L626.38 163.59L626.26 163.76L626.21 163.81L626.04 163.96L625.91 164.04L625.88 164.05L625.71 164.1L625.55 164.12L625.54 164.12L625.37 164.11L625.2 164.07L625.2 164.07L625.03 164.03L624.86 163.97L624.84 163.96L624.49 163.81L624.13 163.65L623.78 163.47L623.42 163.29L623.07 163.11L622.71 162.92L622.36 162.74L622 162.55L621.65 162.37L621.29 162.19L620.94 162L620.58 161.82L620.23 161.63L619.87 161.45L619.52 161.27L619.16 161.08L618.81 160.9L618.45 160.71L618.1 160.53L617.74 160.34L617.39 160.16L617.03 159.98L616.68 159.79L616.32 159.61L615.97 159.42L615.61 159.24L615.26 159.06L614.9 158.87L614.55 158.69L614.19 158.5L613.84 158.32L613.48 158.14L613.13 157.95L612.77 157.77L612.42 157.58L612.06 157.4L611.71 157.21L611.35 157.03L611 156.85L610.64 156.66L610.29 156.48L609.93 156.29L609.58 156.11L609.22 155.93L608.87 155.74L608.51 155.56L608.16 155.37L607.8 155.19L607.45 155.01L607.09 154.82L606.74 154.64L606.38 154.45L606.03 154.27L605.67 154.08L605.32 153.9L604.96 153.72L604.61 153.53L604.25 153.35L603.9 153.16L603.54 152.98L603.19 152.8L602.83 152.61L602.48 152.43L602.12 152.24L601.77 152.06L601.41 151.88L601.06 151.69L600.7 151.51L600.35 151.32L599.99 151.14L599.64 150.95L599.28 150.77L598.93 150.59L598.57 150.4L598.22 150.22L597.86 150.03L597.51 149.85L597.15 149.67L596.8 149.48L596.44 149.3L596.09 149.11L595.73 148.93L595.38 148.75L595.02 148.56L594.67 148.38L594.31 148.19L593.96 148.01L593.6 147.83L593.25 147.64L592.89 147.46L592.54 147.27L592.18 147.09L591.83 146.9L591.47 146.72L591.12 146.54L590.76 146.35L590.41 146.17L590.05 145.98L589.7 145.8L589.34 145.62L588.99 145.43L588.63 145.25L588.28 145.06L587.92 144.88L587.57 144.7L587.21 144.51L586.86 144.33L586.5 144.14L586.15 143.96L585.79 143.77L585.44 143.59L585.08 143.41L584.73 143.22L584.37 143.04L584.02 142.85L583.66 142.67L583.31 142.49M648.24 169.28L648.24 169.28L648.07 169.11L647.9 168.92L647.9 168.91L647.73 168.68L647.56 168.39L647.55 168.38L647.39 168.03L647.22 167.58L647.21 167.55L647.05 167.02L646.89 166.32L646.87 166.25L646.72 165.45L646.55 164.38L646.53 164.26L646.38 163.07L646.21 161.49L646.19 161.26L646.04 159.58L645.87 157.31L645.85 156.93L645.71 154.65L645.54 151.56L645.51 150.98L645.37 148.03L645.2 144.03L645.17 143.18L645.03 139.57L644.86 134.67L644.82 133.53L644.69 129.37L644.52 123.73L644.48 122.29L644.36 117.82L644.19 111.74L644.14 110.09L644.02 105.61L643.85 99.57L643.8 97.83L643.68 93.75L643.51 88.3L643.46 86.68L643.34 83.37L643.17 79.11L643.12 77.83L643.01 75.62L642.84 73.03L642.78 72.32L642.67 71.41L642.5 70.8L642.43 70.83L642.33 71.15L642.16 72.38L642.09 73.13L641.99 74.44L641.83 77.27L641.75 78.73L641.66 80.81L641.49 84.95L641.41 87.01L641.32 89.58L641.15 94.61L641.07 97.13L640.98 99.9L640.81 105.34L640.73 108.12L640.64 110.83L640.48 116.26L640.39 119.08L640.31 121.54L640.14 126.59L640.05 129.26L639.97 131.36L639.8 135.79L639.7 138.17L639.63 139.84L639.46 143.51L639.36 145.53L639.29 146.79L639.13 149.68L639.02 151.29L638.96 152.19L638.79 154.35L638.68 155.57L638.62 156.18L638.45 157.71L638.34 158.59L638.28 158.98L638.11 160.01L638 160.6L637.95 160.83L637.78 161.49L637.66 161.86L637.61 161.99L637.44 162.37L637.31 162.59L637.27 162.65L637.1 162.85L636.97 162.95L636.93 162.98L636.76 163.06L636.63 163.09L636.6 163.09L636.43 163.1L636.29 163.08L636.26 163.08L636.09 163.04L635.95 163L635.92 162.99L635.75 162.93L635.61 162.87L635.27 162.72L634.93 162.55L634.58 162.38L634.24 162.2L633.9 162.03L633.56 161.85L633.22 161.67L632.88 161.5L632.54 161.32L632.19 161.14L631.85 160.96L631.51 160.79L631.17 160.61L630.83 160.43L630.49 160.26L630.15 160.08L629.8 159.9L629.46 159.73L629.12 159.55L628.78 159.37L628.44 159.19L628.1 159.02L627.76 158.84L627.42 158.66L627.07 158.49L626.73 158.31L626.39 158.13L626.05 157.96L625.71 157.78L625.37 157.6L625.03 157.42L624.68 157.25L624.34 157.07L624 156.89L623.66 156.72L623.32 156.54L622.98 156.36L622.64 156.19L622.3 156.01L621.95 155.83L621.61 155.65L621.27 155.48L620.93 155.3L620.59 155.12L620.25 154.95L619.91 154.77L619.56 154.59L619.22 154.41L618.88 154.24L618.54 154.06L618.2 153.88L617.86 153.71L617.52 153.53L617.18 153.35L616.83 153.18L616.49 153L616.15 152.82L615.81 152.64L615.47 152.47L615.13 152.29L614.79 152.11L614.44 151.94L614.1 151.76L613.76 151.58L613.42 151.41L613.08 151.23L612.74 151.05L612.4 150.87L612.06 150.7L611.71 150.52L611.37 150.34L611.03 150.17L610.69 149.99L610.35 149.81L610.01 149.63L609.67 149.46L609.32 149.28L608.98 149.1L608.64 148.93L608.3 148.75L607.96 148.57L607.62 148.4L607.28 148.22L606.93 148.04L606.59 147.86L606.25 147.69L605.91 147.51L605.57 147.33L605.23 147.16L604.89 146.98L604.55 146.8L604.2 146.63L603.86 146.45L603.52 146.27L603.18 146.09L602.84 145.92L602.5 145.74L602.16 145.56L601.81 145.39L601.47 145.21L601.13 145.03L600.79 144.86L600.45 144.68L600.11 144.5L599.77 144.32L599.43 144.15L599.08 143.97L598.74 143.79L598.4 143.62L598.06 143.44L597.72 143.26L597.38 143.08L597.04 142.91L596.69 142.73L596.35 142.55L596.01 142.38L595.67 142.2L595.33 142.02L594.99 141.85L594.65 141.67L594.31 141.49L593.96 141.31L593.62 141.14" stroke="#7E2F8E" stroke-width="1.15" fill="none" stroke-linejoin="round"/>
<path d="M502.2 180.8L517 181.78L526.8 180.16L535.9 178.18L545 176.21L555.7 175.06L566.2 173.8L576.8 172.6L588 171.71L598.9 170.67L609.9 169.67L620.6 168.53L631.6 167.53L642.5 166.49" stroke="#0000ff" stroke-width="1" fill="none"/>
<path d="M499.8 178.4h4.8v4.8h-4.8zM514.6 179.38h4.8v4.8h-4.8zM524.4 177.76h4.8v4.8h-4.8zM533.5 175.78h4.8v4.8h-4.8zM542.6 173.81h4.8v4.8h-4.8zM553.3 172.66h4.8v4.8h-4.8zM563.8 171.4h4.8v4.8h-4.8zM574.4 170.2h4.8v4.8h-4.8zM585.6 169.31h4.8v4.8h-4.8zM596.5 168.27h4.8v4.8h-4.8zM607.5 167.27h4.8v4.8h-4.8zM618.2 166.13h4.8v4.8h-4.8zM629.2 165.13h4.8v4.8h-4.8zM640.1 164.09h4.8v4.8h-4.8z" stroke="#0000ff" stroke-width="1.1" fill="none"/>
<path d="M505 182.25L515.61 181.06L526.22 179.86L536.84 178.67L547.45 177.48L558.06 176.28L568.68 175.09L579.29 173.9L589.91 172.7L600.52 171.51L611.13 170.31L621.75 169.12L632.36 167.93L642.97 166.73" stroke="#ff0000" stroke-width="1" fill="none" stroke-dasharray="2.6 1 1 1"/>
<circle cx="505" cy="182.25" r="2.7" stroke="#ff0000" stroke-width="1.1" fill="none"/><circle cx="515.61" cy="181.06" r="2.7" stroke="#ff0000" stroke-width="1.1" fill="none"/><circle cx="526.22" cy="179.86" r="2.7" stroke="#ff0000" stroke-width="1.1" fill="none"/><circle cx="536.84" cy="178.67" r="2.7" stroke="#ff0000" stroke-width="1.1" fill="none"/><circle cx="547.45" cy="177.48" r="2.7" stroke="#ff0000" stroke-width="1.1" fill="none"/><circle cx="558.06" cy="176.28" r="2.7" stroke="#ff0000" stroke-width="1.1" fill="none"/><circle cx="568.68" cy="175.09" r="2.7" stroke="#ff0000" stroke-width="1.1" fill="none"/><circle cx="579.29" cy="173.9" r="2.7" stroke="#ff0000" stroke-width="1.1" fill="none"/><circle cx="589.91" cy="172.7" r="2.7" stroke="#ff0000" stroke-width="1.1" fill="none"/><circle cx="600.52" cy="171.51" r="2.7" stroke="#ff0000" stroke-width="1.1" fill="none"/><circle cx="611.13" cy="170.31" r="2.7" stroke="#ff0000" stroke-width="1.1" fill="none"/><circle cx="621.75" cy="169.12" r="2.7" stroke="#ff0000" stroke-width="1.1" fill="none"/><circle cx="632.36" cy="167.93" r="2.7" stroke="#ff0000" stroke-width="1.1" fill="none"/><circle cx="642.97" cy="166.73" r="2.7" stroke="#ff0000" stroke-width="1.1" fill="none"/>
<text transform="translate(431.7 155.2) scale(1 1.0)" text-anchor="end" class="tk">0</text><text transform="translate(431.7 127.1) scale(1 1.0)" text-anchor="end" class="tk">0.02</text><text transform="translate(431.7 99) scale(1 1.0)" text-anchor="end" class="tk">0.04</text><text transform="translate(431.7 70.9) scale(1 1.0)" text-anchor="end" class="tk">0.06</text><text transform="translate(431.7 42.8) scale(1 1.0)" text-anchor="end" class="tk">0.08</text><text transform="translate(530.7 215.7) scale(1 1.0)" text-anchor="end" class="tk">0</text><text transform="translate(481.05 189.95) scale(1 1.0)" text-anchor="end" class="tk">100</text><text transform="translate(431.4 164.2) scale(1 1.0)" text-anchor="end" class="tk">200</text><text transform="translate(538 215.9) scale(1 1.0)" class="tk">20</text><text transform="translate(570.52 205.97) scale(1 1.0)" class="tk">40</text><text transform="translate(603.05 196.05) scale(1 1.0)" class="tk">60</text><text transform="translate(635.58 186.12) scale(1 1.0)" class="tk">80</text><text transform="translate(668.1 176.2) scale(1 1.0)" class="tk">100</text>
<text transform="translate(407.3 96.5) rotate(-90)" text-anchor="middle" class="al">PDF of RUL</text>
<text transform="translate(464.25 202.95) rotate(24.5)" text-anchor="middle" class="al">RUL/(cycle)</text>
<text transform="translate(621.25 212.15) rotate(-12.5)" text-anchor="middle" class="al2">Current time/(cycle)</text>
<rect x="505.6" y="20.4" width="93.2" height="35.4" fill="#fff" stroke="#262626" stroke-width="0.9"/>
<path d="M508.4 27.4H535.6" stroke="#ff0000" stroke-width="1" stroke-dasharray="2.6 1 1 1"/>
<circle cx="522" cy="27.4" r="2.9" stroke="#ff0000" stroke-width="1.1" fill="none"/>
<path d="M508.4 38.6H535.6" stroke="#0000ff" stroke-width="1"/>
<rect x="519.8" y="36.4" width="4.4" height="4.4" stroke="#0000ff" stroke-width="1" fill="none"/>
<path d="M508.4 49.8H535.6" stroke="#7E2F8E" stroke-width="1"/>
<text transform="translate(538 30.5) scale(1 1.08)" class="lg">Actual RUL</text>
<text transform="translate(538 41.7) scale(1 1.08)" class="lg">Predicted RUL</text>
<text transform="translate(538 52.9) scale(1 1.08)" class="lg">PDF of RUL</text>
<text x="535.3" y="252.1" text-anchor="end" class="cap">(</text>
<text x="542.4" y="252.1" text-anchor="start" class="cap">)</text>
<text transform="translate(539.5 252.1) scale(0.92 1)" text-anchor="middle" class="cap2">b</text>
<path d="M135.2 481L35.9 429.6M35.9 429.6L35.9 317M167.52 471.05L68.22 419.65M68.22 419.65L68.22 307.05M199.85 461.1L100.55 409.7M100.55 409.7L100.55 297.1M232.18 451.15L132.88 399.75M132.88 399.75L132.88 287.15M264.5 441.2L165.2 389.8M165.2 389.8L165.2 277.2M135.2 481L264.5 441.2M264.5 441.2L264.5 328.6M85.55 455.3L214.85 415.5M214.85 415.5L214.85 302.9M35.9 429.6L165.2 389.8M165.2 389.8L165.2 277.2M35.9 429.6L165.2 389.8M165.2 389.8L264.5 441.2M35.9 407.08L165.2 367.28M165.2 367.28L264.5 418.68M35.9 384.56L165.2 344.76M165.2 344.76L264.5 396.16M35.9 362.04L165.2 322.24M165.2 322.24L264.5 373.64M35.9 339.52L165.2 299.72M165.2 299.72L264.5 351.12M35.9 317L165.2 277.2M165.2 277.2L264.5 328.6" stroke="#d3d3d3" stroke-width="0.8" fill="none"/>
<path d="M35.9 429.6L35.9 317M135.2 481L35.9 429.6M135.2 481L264.5 441.2M35.9 429.6L165.2 389.8M165.2 389.8L264.5 441.2M264.5 441.2L264.5 328.6M35.9 317L165.2 277.2M165.2 277.2L264.5 328.6" stroke="#262626" stroke-width="1.0" fill="none" stroke-linecap="square"/>
<path d="M35.9 429.6l1.72 -0.53M35.9 407.08l1.72 -0.53M35.9 384.56l1.72 -0.53M35.9 362.04l1.72 -0.53M35.9 339.52l1.72 -0.53M35.9 317l1.72 -0.53M135.2 481l1.72 -0.53M85.55 455.3l1.72 -0.53M35.9 429.6l1.72 -0.53M135.2 481l-1.6 -0.83M167.52 471.05l-1.6 -0.83M199.85 461.1l-1.6 -0.83M232.18 451.15l-1.6 -0.83M264.5 441.2l-1.6 -0.83" stroke="#262626" stroke-width="1"/>
<path d="M165.2 389.8L165.2 277.2" stroke="#8c8c8c" stroke-width="0.9"/>
<path d="M143.28 478.51L143.24 478.49L142.68 478.2L142.19 477.95L142.09 477.89L141.49 477.58L141.14 477.4L140.89 477.27L140.29 476.96L140.09 476.86L139.69 476.66L139.1 476.35L139.03 476.31L138.5 476.04L137.98 475.77L137.9 475.73L137.3 475.42L136.93 475.22L136.7 475.11L136.11 474.8L135.88 474.68L135.51 474.49L134.91 474.18L134.82 474.13L134.31 473.87L133.77 473.59L133.71 473.56L133.12 473.25L132.72 473.04L132.52 472.94L131.92 472.63L131.67 472.5L131.32 472.32L130.72 472.01L130.61 471.95L130.13 471.7L129.56 471.4L129.53 471.38L128.93 471.07L128.51 470.85L128.33 470.75L127.73 470.44L127.46 470.29L127.14 470.11L126.54 469.79L126.41 469.72L125.94 469.46L125.35 469.13L125.34 469.13L124.74 468.78L124.3 468.52L124.15 468.43L123.55 468.07L123.25 467.88L122.95 467.69L122.35 467.29L122.2 467.18L121.75 466.87L121.16 466.42L121.14 466.41L120.56 465.94L120.09 465.53L119.96 465.42L119.36 464.85L119.04 464.52L118.76 464.23L118.17 463.55L117.99 463.34L117.57 462.81L116.97 461.99L116.93 461.94L116.37 461.08L115.88 460.27L115.77 460.08L115.18 458.98L114.83 458.3L114.58 457.78L113.98 456.47L113.78 455.99L113.38 455.04L112.78 453.49L112.73 453.33L112.19 451.83L111.67 450.32L111.59 450.07L110.99 448.19L110.62 446.99L110.39 446.23L109.79 444.19L109.57 443.4L109.2 442.08L108.6 439.94L108.52 439.64L108 437.78L107.46 435.84L107.4 435.62L106.8 433.51L106.41 432.15L106.21 431.46L105.61 429.51L105.36 428.73L105.01 427.69L104.41 426.02L104.31 425.74L103.82 424.54L103.26 423.33L103.22 423.26L102.62 422.21L102.2 421.62L102.02 421.4L101.42 420.84L101.15 420.67L100.83 420.57L100.23 420.52L100.1 420.53L99.63 420.58L99.05 420.71L99.03 420.71L98.43 420.9L97.99 421.07L97.84 421.14L97.24 421.42L96.94 421.58L96.64 421.74L96.04 422.09L95.89 422.19L95.44 422.47L94.85 422.86L94.84 422.87L94.25 423.27L93.78 423.6L93.65 423.7L93.05 424.14L92.73 424.37L92.45 424.58L91.86 425.03L91.68 425.16L91.26 425.48L90.66 425.94L90.63 425.96L90.06 426.39L89.58 426.75L89.46 426.84L88.87 427.28L88.52 427.54L88.27 427.72L87.67 428.15L87.47 428.29L87.07 428.57L86.47 428.99L86.42 429.02L85.88 429.39L85.37 429.72L85.28 429.78L84.68 430.15L84.31 430.38L84.08 430.52L83.48 430.87L83.26 430.99L82.89 431.2L82.29 431.52L82.21 431.56L81.69 431.83L81.16 432.09L81.09 432.12L80.49 432.39L80.1 432.56L79.9 432.65L79.3 432.89L79.05 432.99L78.7 433.12L78.1 433.33L78 433.36L77.5 433.52L76.95 433.69L76.91 433.7L76.31 433.86L75.9 433.96L75.71 434L75.11 434.13L74.84 434.19L74.51 434.25L73.92 434.35L73.79 434.36L73.32 434.43L72.74 434.5L72.72 434.5L72.12 434.55L71.69 434.58L71.52 434.59L70.93 434.62L70.63 434.63L70.33 434.63L69.73 434.63L69.58 434.63L69.13 434.62L68.53 434.59L68.53 434.59L67.94 434.56L67.48 434.52L67.34 434.51L66.74 434.44L66.42 434.41L66.14 434.37L65.54 434.29L65.37 434.26L64.95 434.19L64.35 434.09L64.32 434.09L63.75 433.98L63.27 433.88L63.15 433.86L62.56 433.72L62.22 433.64L61.96 433.58L61.36 433.43L61.16 433.38L60.76 433.28L60.16 433.11L60.11 433.1L59.57 432.94L59.06 432.79L58.97 432.76L58.37 432.58L57.77 432.38L57.17 432.19L56.58 431.98L55.98 431.77L55.38 431.56L54.78 431.34L54.18 431.11L53.59 430.88L52.99 430.65L52.39 430.41L51.79 430.16L51.19 429.92L50.6 429.67L50 429.41L49.4 429.16L48.8 428.9L48.2 428.63L47.61 428.37M151.36 476.02L150.78 475.72L150.2 475.42L149.62 475.12L149.03 474.82L148.45 474.52L147.87 474.22L147.29 473.91L146.7 473.61L146.12 473.31L145.54 473.01L144.96 472.71L144.37 472.41L143.79 472.11L143.21 471.8L142.63 471.5L142.59 471.48L142.04 471.2L141.75 471.05L141.46 470.9L140.91 470.62L140.88 470.6L140.3 470.3L140.07 470.18L139.71 470L139.24 469.75L139.13 469.69L138.55 469.39L138.4 469.31L137.97 469.09L137.56 468.88L137.38 468.79L136.8 468.49L136.72 468.44L136.22 468.19L135.88 468.01L135.64 467.88L135.05 467.58L135.04 467.57L134.47 467.28L134.2 467.14L133.89 466.97L133.36 466.7L133.31 466.67L132.72 466.36L132.52 466.26L132.14 466.05L131.69 465.81L131.56 465.74L130.98 465.43L130.85 465.36L130.39 465.11L130.01 464.89L129.81 464.78L129.23 464.44L129.17 464.41L128.65 464.09L128.33 463.89L128.06 463.72L127.49 463.34L127.48 463.33L126.9 462.91L126.65 462.72L126.32 462.45L125.81 462.02L125.73 461.95L125.15 461.39L124.97 461.21L124.57 460.76L124.14 460.25L123.99 460.06L123.4 459.26L123.3 459.1L122.82 458.35L122.46 457.71L122.24 457.31L121.66 456.13L121.62 456.04L121.07 454.79L120.78 454.05L120.49 453.28L119.94 451.68L119.91 451.58L119.33 449.7L119.1 448.92L118.74 447.62L118.26 445.76L118.16 445.35L117.58 442.9L117.43 442.22L117 440.28L116.59 438.34L116.42 437.51L115.83 434.64L115.75 434.21L115.25 431.69L114.91 429.95L114.67 428.72L114.09 425.76L114.07 425.69L113.5 422.9L113.23 421.6L112.92 420.17L112.39 417.86L112.34 417.63L111.76 415.36L111.55 414.64L111.17 413.39L110.71 412.09L110.59 411.78L110.01 410.55L109.88 410.33L109.43 409.75L109.04 409.45L108.84 409.39L108.26 409.39L108.2 409.41L107.68 409.59L107.36 409.76L107.1 409.93L106.52 410.38L106.51 410.39L105.93 410.94L105.68 411.2L105.35 411.57L104.84 412.18L104.77 412.27L104.18 413.03L104 413.28L103.6 413.84L103.17 414.47L103.02 414.68L102.44 415.56L102.33 415.73L101.85 416.46L101.49 417.03L101.27 417.37L100.69 418.3L100.65 418.36L100.11 419.23L99.81 419.7L99.52 420.15L98.97 421.03L98.94 421.07L98.36 421.98L98.13 422.33L97.78 422.87L97.29 423.6L97.19 423.75L96.61 424.6L96.45 424.83L96.03 425.43L95.62 426L95.45 426.23L94.86 427.01L94.78 427.12L94.28 427.75L93.94 428.17L93.7 428.46L93.12 429.14L93.1 429.16L92.53 429.78L92.26 430.07L91.95 430.39L91.42 430.91L91.37 430.96L90.79 431.5L90.58 431.68L90.2 432L89.74 432.37L89.62 432.47L89.04 432.9L88.91 432.99L88.46 433.3L88.07 433.54L87.87 433.66L87.29 433.99L87.23 434.02L86.71 434.29L86.39 434.44L86.13 434.55L85.55 434.78L85.54 434.78L84.96 434.99L84.71 435.07L84.38 435.16L83.87 435.29L83.8 435.31L83.22 435.43L83.03 435.46L82.63 435.53L82.19 435.58L82.05 435.59L81.47 435.64L81.36 435.65L80.89 435.66L80.52 435.67L80.3 435.67L79.72 435.65L79.68 435.64L79.14 435.61L78.84 435.58L78.56 435.55L78 435.48L77.97 435.48L77.39 435.39L77.16 435.35L76.81 435.28L76.32 435.18L76.23 435.16L75.64 435.03L75.48 434.99L75.06 434.88L74.48 434.73L73.9 434.56L73.31 434.38L72.73 434.19L72.15 433.99L71.57 433.78L70.98 433.57L70.4 433.34L69.82 433.11L69.24 432.88L68.65 432.64L68.07 432.39L67.49 432.14L66.91 431.88L66.32 431.62L65.74 431.36L65.16 431.09L64.58 430.82L63.99 430.55L63.41 430.27L62.83 430L62.25 429.72L61.66 429.43L61.08 429.15L60.5 428.86L59.92 428.57L59.33 428.29L58.75 428L58.17 427.7M159.44 473.54L158.9 473.25L158.35 472.97L157.8 472.69L157.25 472.4L156.71 472.12L156.16 471.84L155.61 471.55L155.06 471.27L154.52 470.99L153.97 470.7L153.42 470.42L152.88 470.14L152.33 469.85L151.78 469.57L151.23 469.29L150.69 469L150.14 468.72L149.59 468.44L149.04 468.15L148.5 467.87L147.95 467.59L147.81 467.51L147.4 467.3L147.12 467.16L146.85 467.02L146.43 466.8L146.31 466.74L145.76 466.45L145.74 466.45L145.21 466.17L145.06 466.09L144.66 465.89L144.37 465.73L144.12 465.6L143.68 465.38L143.57 465.32L143.02 465.03L142.99 465.02L142.47 464.75L142.3 464.66L141.93 464.46L141.62 464.3L141.38 464.17L140.93 463.93L140.83 463.88L140.29 463.59L140.24 463.57L139.74 463.29L139.55 463.19L139.19 462.98L138.87 462.8L138.64 462.67L138.18 462.39L138.1 462.34L137.55 461.99L137.49 461.96L137 461.62L136.8 461.48L136.45 461.22L136.11 460.95L135.91 460.78L135.43 460.35L135.36 460.28L134.81 459.72L134.74 459.64L134.26 459.08L134.05 458.81L133.72 458.34L133.36 457.8L133.17 457.47L132.68 456.57L132.62 456.47L132.07 455.3L131.99 455.09L131.53 453.93L131.3 453.3L130.98 452.35L130.61 451.16L130.43 450.54L129.92 448.63L129.88 448.48L129.34 446.15L129.24 445.69L128.79 443.55L128.55 442.32L128.24 440.68L127.86 438.53L127.7 437.56L127.17 434.37L127.15 434.21L126.6 430.68L126.49 429.91L126.05 427L125.8 425.25L125.51 423.25L125.11 420.53L124.96 419.49L124.42 415.89L124.41 415.81L123.86 412.3L123.73 411.5L123.32 409.03L123.05 407.54L122.77 406.1L122.36 404.18L122.22 403.59L121.67 401.57L121.67 401.56L121.13 400.09L120.98 399.79L120.58 399.19L120.29 398.96L120.03 398.89L119.61 398.94L119.48 398.99L118.94 399.37L118.92 399.38L118.39 399.97L118.23 400.18L117.84 400.76L117.54 401.27L117.29 401.72L116.86 402.6L116.75 402.83L116.2 404.06L116.17 404.14L115.65 405.4L115.48 405.84L115.11 406.83L114.79 407.67L114.56 408.32L114.1 409.6L114.01 409.86L113.46 411.44L113.42 411.58L112.92 413.05L112.73 413.59L112.37 414.66L112.04 415.61L111.82 416.26L111.35 417.61L111.27 417.84L110.73 419.4L110.67 419.57L110.18 420.92L109.98 421.47L109.63 422.4L109.29 423.3L109.08 423.83L108.6 425.03L108.54 425.19L107.99 426.5L107.91 426.67L107.44 427.74L107.23 428.2L106.89 428.9L106.54 429.62L106.35 430L105.85 430.93L105.8 431.02L105.25 431.97L105.16 432.12L104.7 432.85L104.48 433.2L104.16 433.66L103.79 434.16L103.61 434.39L103.1 435.01L103.06 435.05L102.52 435.65L102.41 435.75L101.97 436.18L101.72 436.39L101.42 436.65L101.04 436.94L100.87 437.05L100.35 437.39L100.33 437.4L99.78 437.7L99.66 437.76L99.23 437.95L98.97 438.04L98.68 438.14L98.28 438.26L98.14 438.3L97.6 438.41L97.59 438.41L97.04 438.48L96.91 438.49L96.49 438.52L96.22 438.53L95.95 438.52L95.53 438.51L95.4 438.5L94.85 438.45L94.85 438.45L94.3 438.37L94.16 438.34L93.76 438.27L93.47 438.21L93.21 438.15L92.78 438.04L92.66 438.01L92.11 437.85L91.57 437.68L91.02 437.49L90.47 437.29L89.93 437.09L89.38 436.87L88.83 436.64L88.28 436.41L87.74 436.17L87.19 435.92L86.64 435.67L86.09 435.41L85.55 435.15L85 434.89L84.45 434.63L83.9 434.36L83.36 434.09L82.81 433.81L82.26 433.54L81.71 433.26L81.17 432.99L80.62 432.71L80.07 432.43L79.52 432.15L78.98 431.87L78.43 431.59L77.88 431.31L77.34 431.03L76.79 430.75L76.24 430.46L75.69 430.18L75.15 429.9L74.6 429.62L74.05 429.33L73.5 429.05L72.96 428.77L72.41 428.48L71.86 428.2M167.52 471.05L166.98 470.77L166.44 470.49L165.9 470.21L165.35 469.93L164.81 469.64L164.27 469.36L163.72 469.08L163.18 468.8L162.64 468.52L162.09 468.24L161.55 467.96L161.01 467.68L160.47 467.4L159.92 467.11L159.38 466.83L158.84 466.55L158.29 466.27L157.75 465.99L157.21 465.71L156.66 465.43L156.12 465.15L155.58 464.87L155.03 464.58L154.49 464.3L153.95 464.02L153.47 463.77L153.41 463.74L152.91 463.48L152.86 463.46L152.35 463.19L152.32 463.18L151.78 462.9L151.78 462.9L151.23 462.61L151.22 462.61L150.69 462.33L150.66 462.32L150.15 462.05L150.1 462.02L149.6 461.76L149.54 461.73L149.06 461.47L148.98 461.43L148.52 461.18L148.41 461.12L147.98 460.88L147.85 460.81L147.43 460.56L147.29 460.48L146.89 460.24L146.73 460.14L146.35 459.89L146.17 459.77L145.8 459.51L145.61 459.36L145.26 459.08L145.04 458.9L144.72 458.6L144.48 458.37L144.17 458.04L143.92 457.75L143.63 457.38L143.36 457L143.09 456.59L142.8 456.1L142.54 455.63L142.23 455L142 454.48L141.67 453.66L141.46 453.08L141.11 452.04L140.92 451.39L140.55 450.07L140.37 449.38L139.99 447.73L139.83 447L139.43 444.97L139.29 444.22L138.86 441.77L138.74 441.02L138.3 438.1L138.2 437.38L137.74 433.99L137.66 433.34L137.18 429.46L137.11 428.91L136.62 424.58L136.57 424.16L136.06 419.43L136.03 419.18L135.49 414.15L135.49 414.07L134.94 408.97L134.93 408.88L134.4 404.02L134.37 403.77L133.86 399.39L133.81 399L133.31 395.22L133.25 394.76L132.77 391.68L132.69 391.19L132.23 388.89L132.12 388.45L131.68 386.95L131.56 386.64L131.14 385.94L131 385.84L130.6 385.81L130.44 385.89L130.05 386.24L129.88 386.48L129.51 387.12L129.31 387.54L128.97 388.39L128.75 388.99L128.43 390.01L128.19 390.8L127.88 391.92L127.63 392.9L127.34 394.09L127.07 395.26L126.8 396.47L126.51 397.8L126.25 399L125.94 400.5L125.71 401.65L125.38 403.29L125.17 404.38L124.82 406.14L124.62 407.14L124.26 409L124.08 409.9L123.7 411.83L123.54 412.62L123.14 414.6L123 415.28L122.57 417.29L122.45 417.85L122.01 419.86L121.91 420.31L121.45 422.29L121.37 422.65L120.89 424.58L120.82 424.84L120.33 426.7L120.28 426.87L119.77 428.66L119.74 428.75L119.2 430.44L119.19 430.47L118.65 432.03L118.64 432.05L118.11 433.43L118.08 433.5L117.56 434.67L117.52 434.77L117.02 435.76L116.96 435.89L116.48 436.72L116.39 436.85L115.94 437.53L115.83 437.67L115.39 438.22L115.27 438.36L114.85 438.8L114.71 438.93L114.31 439.27L114.15 439.39L113.76 439.64L113.59 439.75L113.22 439.93L113.02 440.01L112.68 440.14L112.46 440.2L112.13 440.27L111.9 440.31L111.59 440.35L111.34 440.37L111.05 440.37L110.78 440.36L110.51 440.35L110.22 440.32L109.96 440.28L109.65 440.23L109.42 440.18L109.09 440.1L108.88 440.05L108.53 439.95L108.33 439.89L107.79 439.71L107.25 439.51L106.7 439.3L106.16 439.07L105.62 438.84L105.07 438.59L104.53 438.34L103.99 438.08L103.45 437.82L102.9 437.55L102.36 437.28L101.82 437.01L101.27 436.73L100.73 436.46L100.19 436.18L99.64 435.9L99.1 435.62L98.56 435.35L98.01 435.07L97.47 434.79L96.93 434.51L96.39 434.23L95.84 433.94L95.3 433.66L94.76 433.38L94.21 433.1L93.67 432.82L93.13 432.54L92.58 432.26L92.04 431.98L91.5 431.7L90.96 431.42L90.41 431.13L89.87 430.85L89.33 430.57L88.78 430.29L88.24 430.01L87.7 429.73L87.15 429.45L86.61 429.17L86.07 428.89L85.52 428.6L84.98 428.32L84.44 428.04L83.9 427.76L83.35 427.48L82.81 427.2L82.27 426.92L81.72 426.64L81.18 426.36L80.64 426.07M175.61 468.56L175.11 468.3L174.61 468.04L174.1 467.79L173.6 467.53L173.1 467.27L172.6 467.01L172.1 466.75L171.6 466.49L171.1 466.23L170.6 465.97L170.1 465.71L169.6 465.45L169.1 465.19L168.6 464.94L168.1 464.68L167.6 464.42L167.1 464.16L166.6 463.9L166.1 463.64L165.6 463.38L165.1 463.12L164.59 462.86L164.09 462.6L163.59 462.34L163.09 462.09L162.59 461.83L162.15 461.6L162.09 461.57L161.66 461.34L161.59 461.31L161.18 461.09L161.09 461.05L160.69 460.84L160.59 460.79L160.21 460.58L160.09 460.52L159.72 460.33L159.59 460.26L159.24 460.07L159.09 459.99L158.75 459.81L158.59 459.72L158.26 459.54L158.09 459.44L157.78 459.26L157.59 459.14L157.29 458.97L157.09 458.83L156.81 458.65L156.59 458.5L156.32 458.31L156.09 458.13L155.84 457.93L155.58 457.71L155.35 457.49L155.08 457.22L154.87 456.98L154.58 456.64L154.38 456.37L154.08 455.93L153.9 455.63L153.58 455.08L153.41 454.74L153.08 454.02L152.92 453.64L152.58 452.73L152.44 452.3L152.08 451.13L151.95 450.68L151.58 449.2L151.47 448.71L151.08 446.86L150.98 446.36L150.58 444.09L150.5 443.59L150.08 440.82L150.01 440.35L149.58 437.06L149.53 436.64L149.08 432.79L149.04 432.45L148.58 428.03L148.56 427.81L148.08 422.83L148.07 422.76L147.59 417.39L147.58 417.29L147.1 411.78L147.08 411.5L146.61 406.08L146.58 405.63L146.13 400.44L146.07 399.82L145.64 395.02L145.57 394.28L145.16 390.01L145.07 389.19L144.67 385.57L144.57 384.75L144.19 381.87L144.07 381.12L143.7 379.05L143.57 378.46L143.22 377.21L143.07 376.86L142.73 376.42L142.57 376.37L142.25 376.45L142.07 376.59L141.76 377.02L141.57 377.39L141.27 378.12L141.07 378.74L140.79 379.72L140.57 380.6L140.3 381.78L140.07 382.93L139.82 384.25L139.57 385.66L139.33 387.07L139.07 388.75L138.85 390.19L138.57 392.11L138.36 393.54L138.07 395.67L137.88 397.06L137.57 399.37L137.39 400.68L137.07 403.14L136.91 404.33L136.56 406.9L136.42 407.97L136.06 410.6L135.94 411.54L135.56 414.19L135.45 414.98L135.06 417.62L134.96 418.27L134.56 420.85L134.48 421.37L134.06 423.86L133.99 424.25L133.56 426.62L133.51 426.9L133.06 429.13L133.02 429.31L132.56 431.37L132.54 431.47L132.06 433.36L132.05 433.39L131.57 435.07L131.56 435.09L131.08 436.52L131.06 436.58L130.6 437.75L130.56 437.84L130.11 438.79L130.06 438.89L129.62 439.64L129.56 439.75L129.14 440.33L129.06 440.43L128.65 440.87L128.56 440.96L128.17 441.28L128.06 441.36L127.68 441.58L127.55 441.64L127.2 441.78L127.05 441.82L126.71 441.89L126.55 441.92L126.23 441.94L126.05 441.94L125.74 441.93L125.55 441.91L125.26 441.87L125.05 441.83L124.77 441.76L124.55 441.71L124.29 441.63L124.05 441.56L123.8 441.47L123.55 441.38L123.31 441.29L123.05 441.18L122.55 440.97L122.05 440.75L121.55 440.51L121.05 440.27L120.55 440.03L120.05 439.78L119.55 439.53L119.05 439.27L118.55 439.02L118.04 438.76L117.54 438.5L117.04 438.25L116.54 437.99L116.04 437.73L115.54 437.47L115.04 437.21L114.54 436.95L114.04 436.69L113.54 436.44L113.04 436.18L112.54 435.92L112.04 435.66L111.54 435.4L111.04 435.14L110.54 434.88L110.04 434.62L109.54 434.36L109.04 434.1L108.53 433.84L108.03 433.59L107.53 433.33L107.03 433.07L106.53 432.81L106.03 432.55L105.53 432.29L105.03 432.03L104.53 431.77L104.03 431.51L103.53 431.25L103.03 430.99L102.53 430.74L102.03 430.48L101.53 430.22L101.03 429.96L100.53 429.7L100.03 429.44L99.53 429.18L99.02 428.92L98.52 428.66L98.02 428.4L97.52 428.14L97.02 427.89L96.52 427.63L96.02 427.37L95.52 427.11M183.69 466.07L183.2 465.82L182.71 465.57L182.23 465.32L181.74 465.07L181.25 464.81L180.76 464.56L180.28 464.31L179.79 464.06L179.3 463.81L178.82 463.55L178.33 463.3L177.84 463.05L177.35 462.8L176.87 462.54L176.38 462.29L175.89 462.04L175.41 461.79L174.92 461.54L174.43 461.28L173.94 461.03L173.46 460.78L172.97 460.53L172.48 460.27L172.13 460.09L171.99 460.02L171.7 459.87L171.51 459.77L171.27 459.64L171.02 459.51L170.84 459.41L170.53 459.25L170.41 459.18L170.05 458.99L169.97 458.95L169.56 458.72L169.54 458.72L169.11 458.47L169.07 458.45L168.68 458.21L168.58 458.16L168.25 457.94L168.1 457.84L167.82 457.65L167.61 457.5L167.39 457.33L167.12 457.11L166.96 456.96L166.64 456.65L166.53 456.54L166.15 456.1L166.1 456.04L165.66 455.44L165.66 455.43L165.23 454.71L165.17 454.6L164.8 453.83L164.69 453.56L164.37 452.74L164.2 452.25L163.94 451.42L163.71 450.61L163.51 449.81L163.23 448.57L163.08 447.86L162.74 446.07L162.65 445.54L162.25 443.04L162.22 442.8L161.78 439.6L161.76 439.43L161.35 435.92L161.28 435.21L160.92 431.75L160.79 430.36L160.49 427.1L160.3 424.92L160.06 422.01L159.82 418.94L159.63 416.53L159.33 412.53L159.2 410.77L158.84 405.84L158.77 404.81L158.35 399.05L158.34 398.81L157.91 392.92L157.87 392.41L157.47 387.31L157.38 386.13L157.04 382.15L156.89 380.48L156.61 377.61L156.4 375.7L156.18 373.85L155.92 371.99L155.75 371L155.43 369.53L155.32 369.15L154.94 368.42L154.89 368.38L154.46 368.48L154.46 368.48L154.03 369.22L153.97 369.36L153.59 370.57L153.48 371.02L153.16 372.5L152.99 373.4L152.73 374.96L152.51 376.44L152.3 377.89L152.02 380.03L151.87 381.23L151.53 384.07L151.44 384.89L151.05 388.46L151.01 388.81L150.58 392.9L150.56 393.08L150.15 397.08L150.07 397.81L149.72 401.29L149.58 402.57L149.28 405.45L149.1 407.23L148.85 409.51L148.61 411.74L148.42 413.41L148.12 416.01L147.99 417.11L147.64 419.98L147.56 420.57L147.15 423.63L147.13 423.77L146.7 426.69L146.66 426.93L146.27 429.32L146.17 429.85L145.84 431.67L145.69 432.42L145.4 433.73L145.2 434.62L144.97 435.53L144.71 436.49L144.54 437.07L144.23 438.05L144.11 438.36L143.74 439.31L143.68 439.45L143.25 440.33L143.25 440.33L142.82 441.04L142.76 441.11L142.39 441.59L142.28 441.71L141.96 442L141.79 442.13L141.53 442.3L141.3 442.42L141.09 442.5L140.81 442.59L140.66 442.62L140.33 442.67L140.23 442.67L139.84 442.67L139.8 442.66L139.37 442.61L139.35 442.61L138.94 442.52L138.87 442.5L138.51 442.39L138.38 442.35L138.08 442.25L137.89 442.18L137.65 442.08L137.4 441.98L136.92 441.77L136.43 441.55L135.94 441.32L135.46 441.08L134.97 440.84L134.48 440.59L133.99 440.34L133.51 440.09L133.02 439.84L132.53 439.59L132.05 439.34L131.56 439.09L131.07 438.84L130.58 438.59L130.1 438.33L129.61 438.08L129.12 437.83L128.63 437.58L128.15 437.33L127.66 437.07L127.17 436.82L126.69 436.57L126.2 436.32L125.71 436.07L125.22 435.81L124.74 435.56L124.25 435.31L123.76 435.06L123.28 434.8L122.79 434.55L122.3 434.3L121.81 434.05L121.33 433.8L120.84 433.54L120.35 433.29L119.87 433.04L119.38 432.79L118.89 432.53L118.4 432.28L117.92 432.03L117.43 431.78L116.94 431.53L116.46 431.27L115.97 431.02L115.48 430.77L114.99 430.52L114.51 430.27L114.02 430.01L113.53 429.76L113.04 429.51L112.56 429.26L112.07 429L111.58 428.75L111.1 428.5L110.61 428.25L110.12 428L109.63 427.74L109.15 427.49L108.66 427.24L108.17 426.99L107.69 426.73L107.2 426.48L106.71 426.23L106.22 425.98L105.74 425.73M191.77 463.59L191.3 463.34L190.83 463.1L190.36 462.86L189.89 462.61L189.42 462.37L188.94 462.13L188.47 461.88L188 461.64L187.53 461.39L187.06 461.15L186.59 460.91L186.12 460.66L185.65 460.42L185.18 460.18L184.71 459.93L184.24 459.69L183.77 459.45L183.3 459.2L182.82 458.96L182.35 458.71L181.88 458.47L181.41 458.22L181.32 458.17L180.94 457.98L180.92 457.96L180.52 457.75L180.47 457.73L180.12 457.54L180 457.48L179.72 457.32L179.53 457.22L179.32 457.1L179.06 456.96L178.92 456.87L178.59 456.68L178.51 456.63L178.12 456.38L178.11 456.38L177.71 456.1L177.65 456.05L177.31 455.8L177.18 455.68L176.91 455.45L176.7 455.25L176.51 455.06L176.23 454.74L176.11 454.59L175.76 454.1L175.71 454.03L175.31 453.35L175.29 453.31L174.91 452.52L174.82 452.31L174.51 451.51L174.35 451.05L174.11 450.28L173.88 449.45L173.71 448.78L173.41 447.45L173.31 446.97L172.94 444.98L172.91 444.8L172.51 442.24L172.47 441.96L172.11 439.23L172 438.33L171.71 435.77L171.53 434.05L171.31 431.82L171.06 429.1L170.91 427.38L170.59 423.49L170.51 422.49L170.11 417.29L170.11 417.17L169.7 411.5L169.64 410.61L169.3 405.56L169.17 403.58L168.9 399.48L168.7 396.41L168.5 393.39L168.23 389.33L168.1 387.45L167.76 382.6L167.7 381.81L167.3 376.65L167.29 376.5L166.9 372.13L166.82 371.29L166.5 368.39L166.35 367.2L166.1 365.57L165.88 364.43L165.7 363.75L165.41 363.09L165.3 363L164.94 363.1L164.9 363.15L164.5 363.99L164.47 364.09L164.1 365.51L163.99 366.01L163.7 367.66L163.52 368.78L163.3 370.39L163.05 372.3L162.9 373.62L162.58 376.47L162.5 377.29L162.11 381.14L162.1 381.3L161.7 385.58L161.64 386.18L161.3 390.03L161.17 391.44L160.9 394.56L160.7 396.78L160.49 399.1L160.23 402.09L160.09 403.58L159.76 407.23L159.69 407.92L159.29 412.07L159.29 412.13L158.89 415.98L158.82 416.7L158.49 419.63L158.35 420.89L158.09 422.98L157.88 424.66L157.69 426.02L157.4 428L157.29 428.74L156.93 430.91L156.89 431.15L156.49 433.26L156.46 433.39L156.09 435.07L155.99 435.47L155.69 436.62L155.52 437.19L155.29 437.91L155.05 438.57L154.89 438.98L154.58 439.66L154.49 439.85L154.11 440.5L154.09 440.53L153.69 441.06L153.64 441.12L153.29 441.46L153.17 441.55L152.89 441.74L152.7 441.83L152.49 441.92L152.23 441.99L152.09 442.02L151.76 442.06L151.68 442.06L151.28 442.04L151.28 442.04L150.88 441.98L150.81 441.97L150.48 441.89L150.34 441.85L150.08 441.77L149.87 441.7L149.68 441.63L149.4 441.52L149.28 441.47L148.93 441.32L148.46 441.11L147.99 440.88L147.52 440.65L147.05 440.42L146.58 440.18L146.11 439.94L145.64 439.7L145.17 439.46L144.69 439.22L144.22 438.98L143.75 438.73L143.28 438.49L142.81 438.25L142.34 438L141.87 437.76L141.4 437.51L140.93 437.27L140.46 437.03L139.99 436.78L139.52 436.54L139.05 436.3L138.57 436.05L138.1 435.81L137.63 435.57L137.16 435.32L136.69 435.08L136.22 434.83L135.75 434.59L135.28 434.35L134.81 434.1L134.34 433.86L133.87 433.62L133.4 433.37L132.93 433.13L132.45 432.89L131.98 432.64L131.51 432.4L131.04 432.15L130.57 431.91L130.1 431.67L129.63 431.42L129.16 431.18L128.69 430.94L128.22 430.69L127.75 430.45L127.28 430.2L126.81 429.96L126.34 429.72L125.86 429.47L125.39 429.23L124.92 428.99L124.45 428.74L123.98 428.5L123.51 428.26L123.04 428.01L122.57 427.77L122.1 427.52L121.63 427.28L121.16 427.04L120.69 426.79L120.22 426.55L119.74 426.31L119.27 426.06L118.8 425.82L118.33 425.58L117.86 425.33L117.39 425.09L116.92 424.84L116.45 424.6M199.85 461.1L199.39 460.86L198.94 460.63L198.48 460.39L198.03 460.16L197.57 459.92L197.11 459.68L196.66 459.45L196.2 459.21L195.74 458.97L195.29 458.74L194.83 458.5L194.38 458.27L193.92 458.03L193.46 457.79L193.01 457.56L192.55 457.32L192.1 457.08L191.64 456.85L191.18 456.61L191.17 456.6L190.79 456.4L190.73 456.37L190.41 456.2L190.27 456.12L190.04 455.99L189.81 455.87L189.66 455.78L189.36 455.61L189.28 455.57L188.91 455.34L188.9 455.34L188.53 455.1L188.45 455.04L188.15 454.84L187.99 454.72L187.78 454.55L187.53 454.35L187.4 454.23L187.08 453.91L187.02 453.85L186.65 453.41L186.62 453.38L186.27 452.89L186.17 452.72L185.89 452.25L185.71 451.9L185.52 451.48L185.25 450.85L185.14 450.54L184.8 449.51L184.76 449.4L184.39 448.02L184.34 447.83L184.01 446.34L183.88 445.72L183.63 444.34L183.43 443.1L183.26 441.97L182.97 439.9L182.88 439.18L182.52 436.07L182.5 435.95L182.13 432.25L182.06 431.55L181.75 428.08L181.6 426.33L181.37 423.44L181.15 420.44L181 418.35L180.69 413.95L180.62 412.88L180.24 407.08L180.24 406.96L179.87 401.06L179.78 399.64L179.49 394.93L179.32 392.21L179.11 388.82L178.87 384.91L178.74 382.89L178.41 378.02L178.36 377.3L177.98 372.19L177.95 371.83L177.61 367.74L177.5 366.6L177.23 364.07L177.04 362.57L176.85 361.3L176.59 359.94L176.48 359.53L176.13 358.82L176.1 358.8L175.72 358.99L175.67 359.07L175.35 359.93L175.22 360.43L174.97 361.61L174.76 362.83L174.59 363.96L174.31 366.18L174.22 366.93L173.85 370.36L173.84 370.45L173.46 374.42L173.39 375.21L173.09 378.75L172.94 380.56L172.71 383.35L172.48 386.24L172.33 388.11L172.02 392.09L171.96 392.95L171.58 397.78L171.57 397.93L171.2 402.51L171.11 403.64L170.83 407.08L170.66 409.08L170.45 411.42L170.2 414.17L170.07 415.5L169.74 418.82L169.7 419.27L169.32 422.71L169.29 423L168.94 425.81L168.83 426.67L168.57 428.58L168.38 429.85L168.19 431L167.92 432.55L167.81 433.11L167.46 434.79L167.44 434.9L167.06 436.42L167.01 436.62L166.68 437.68L166.55 438.07L166.31 438.71L166.09 439.2L165.93 439.53L165.64 440.05L165.55 440.17L165.18 440.66L165.18 440.66L164.8 441.02L164.73 441.08L164.42 441.27L164.27 441.35L164.05 441.43L163.81 441.49L163.67 441.51L163.36 441.53L163.29 441.53L162.92 441.5L162.9 441.5L162.54 441.43L162.44 441.41L162.16 441.33L161.99 441.28L161.79 441.21L161.53 441.11L161.41 441.07L161.08 440.93L161.03 440.91L160.62 440.73L160.16 440.51L159.71 440.29L159.25 440.07L158.8 439.84L158.34 439.61L157.88 439.37L157.43 439.14L156.97 438.9L156.51 438.67L156.06 438.43L155.6 438.2L155.15 437.96L154.69 437.72L154.23 437.49L153.78 437.25L153.32 437.02L152.87 436.78L152.41 436.54L151.95 436.31L151.5 436.07L151.04 435.84L150.58 435.6L150.13 435.36L149.67 435.13L149.22 434.89L148.76 434.65L148.3 434.42L147.85 434.18L147.39 433.95L146.94 433.71L146.48 433.47L146.02 433.24L145.57 433L145.11 432.77L144.65 432.53L144.2 432.29L143.74 432.06L143.29 431.82L142.83 431.59L142.37 431.35L141.92 431.11L141.46 430.88L141.01 430.64L140.55 430.4L140.09 430.17L139.64 429.93L139.18 429.7L138.72 429.46L138.27 429.22L137.81 428.99L137.36 428.75L136.9 428.52L136.44 428.28L135.99 428.04L135.53 427.81L135.08 427.57L134.62 427.34L134.16 427.1L133.71 426.86L133.25 426.63L132.79 426.39L132.34 426.15L131.88 425.92L131.43 425.68L130.97 425.45L130.51 425.21L130.06 424.97L129.6 424.74L129.15 424.5L128.69 424.27L128.23 424.03L127.78 423.79L127.32 423.56L126.86 423.32M207.93 458.61L207.49 458.38L207.05 458.16L206.61 457.93L206.17 457.7L205.73 457.47L205.29 457.25L204.85 457.02L204.41 456.79L203.97 456.56L203.53 456.33L203.09 456.11L202.65 455.88L202.21 455.65L201.77 455.42L201.33 455.19L201.09 455.06L200.89 454.96L200.74 454.88L200.45 454.72L200.39 454.69L200.03 454.49L200.01 454.48L199.68 454.29L199.57 454.23L199.33 454.09L199.13 453.97L198.98 453.87L198.69 453.68L198.62 453.64L198.27 453.38L198.25 453.36L197.92 453.1L197.81 453L197.57 452.77L197.37 452.57L197.21 452.39L196.93 452.04L196.86 451.94L196.51 451.4L196.49 451.37L196.16 450.75L196.05 450.53L195.81 449.96L195.61 449.44L195.45 448.99L195.17 448.06L195.1 447.81L194.75 446.37L194.73 446.29L194.4 444.65L194.29 444.06L194.04 442.59L193.85 441.29L193.69 440.15L193.41 437.89L193.34 437.29L192.99 433.99L192.97 433.81L192.64 430.22L192.53 429L192.28 425.98L192.09 423.45L191.93 421.27L191.65 417.21L191.58 416.13L191.23 410.61L191.21 410.34L190.87 404.77L190.77 403L190.52 398.73L190.33 395.38L190.17 392.58L189.89 387.71L189.82 386.47L189.47 380.55L189.45 380.29L189.11 374.97L189.01 373.42L188.76 369.89L188.57 367.39L188.41 365.46L188.13 362.5L188.06 361.81L187.7 359.07L187.69 358.98L187.35 357.31L187.25 357L187 356.6L186.81 356.62L186.65 356.81L186.37 357.53L186.3 357.8L185.94 359.54L185.93 359.62L185.59 361.98L185.49 362.8L185.24 365.05L185.05 366.93L184.89 368.67L184.61 371.85L184.53 372.76L184.18 377.22L184.17 377.38L183.83 381.95L183.73 383.32L183.48 386.84L183.29 389.48L183.13 391.8L182.85 395.66L182.77 396.73L182.42 401.57L182.41 401.71L182.07 406.22L181.97 407.49L181.72 410.65L181.53 412.88L181.36 414.79L181.09 417.79L181.01 418.61L180.66 422.1L180.65 422.19L180.31 425.23L180.21 426.04L179.96 428.02L179.77 429.34L179.6 430.46L179.33 432.12L179.25 432.57L178.9 434.37L178.89 434.41L178.55 435.89L178.45 436.25L178.19 437.14L178.01 437.7L177.84 438.16L177.57 438.81L177.49 438.98L177.14 439.62L177.13 439.63L176.79 440.11L176.69 440.21L176.43 440.46L176.25 440.6L176.08 440.71L175.81 440.84L175.73 440.86L175.38 440.95L175.37 440.95L175.02 440.97L174.93 440.97L174.67 440.94L174.49 440.92L174.32 440.88L174.05 440.81L173.97 440.79L173.61 440.67L173.61 440.67L173.26 440.54L173.17 440.5L172.91 440.4L172.73 440.32L172.29 440.12L171.85 439.91L171.41 439.69L170.97 439.47L170.53 439.25L170.09 439.02L169.65 438.79L169.21 438.57L168.77 438.34L168.33 438.11L167.89 437.89L167.45 437.66L167.01 437.43L166.57 437.2L166.13 436.97L165.69 436.75L165.25 436.52L164.81 436.29L164.37 436.06L163.93 435.84L163.49 435.61L163.05 435.38L162.61 435.15L162.17 434.92L161.73 434.7L161.29 434.47L160.85 434.24L160.41 434.01L159.97 433.79L159.53 433.56L159.09 433.33L158.65 433.1L158.21 432.87L157.77 432.65L157.33 432.42L156.89 432.19L156.45 431.96L156.01 431.74L155.57 431.51L155.13 431.28L154.69 431.05L154.25 430.83L153.81 430.6L153.37 430.37L152.93 430.14L152.49 429.91L152.05 429.69L151.61 429.46L151.17 429.23L150.73 429L150.29 428.78L149.85 428.55L149.41 428.32L148.97 428.09L148.53 427.86L148.09 427.64L147.65 427.41L147.21 427.18L146.77 426.95L146.33 426.73L145.89 426.5L145.45 426.27L145.01 426.04L144.57 425.81L144.13 425.59L143.69 425.36L143.25 425.13L142.81 424.9L142.37 424.68L141.93 424.45L141.49 424.22L141.05 423.99L140.61 423.76L140.17 423.54L139.73 423.31L139.29 423.08L138.85 422.85L138.41 422.63L137.97 422.4L137.53 422.17M216.01 456.12L215.59 455.9L215.16 455.68L214.74 455.46L214.31 455.24L213.89 455.02L213.46 454.8L213.04 454.58L212.61 454.36L212.19 454.14L211.76 453.92L211.34 453.7L211.29 453.67L210.95 453.49L210.91 453.47L210.62 453.31L210.49 453.24L210.29 453.13L210.06 453L209.95 452.93L209.64 452.75L209.62 452.73L209.28 452.52L209.21 452.47L208.95 452.29L208.79 452.17L208.61 452.04L208.36 451.83L208.28 451.76L207.94 451.43L207.94 451.42L207.61 451.05L207.51 450.93L207.27 450.6L207.08 450.3L206.94 450.05L206.66 449.51L206.6 449.39L206.27 448.58L206.23 448.49L205.93 447.59L205.81 447.18L205.6 446.4L205.38 445.5L205.26 444.95L204.96 443.37L204.93 443.21L204.59 441.13L204.53 440.71L204.26 438.68L204.11 437.44L203.93 435.82L203.68 433.49L203.59 432.53L203.26 428.82L203.26 428.78L202.92 424.58L202.83 423.4L202.59 419.93L202.41 417.28L202.25 414.86L201.98 410.53L201.92 409.42L201.58 403.7L201.56 403.28L201.25 397.77L201.13 395.73L200.91 391.77L200.71 388.11L200.58 385.81L200.28 380.71L200.24 380.04L199.91 374.61L199.86 373.83L199.57 369.67L199.43 367.78L199.24 365.38L199.01 362.84L198.9 361.84L198.58 359.27L198.57 359.19L198.23 357.49L198.16 357.24L197.9 356.8L197.73 356.81L197.57 357.02L197.31 357.73L197.23 358.02L196.9 359.77L196.88 359.86L196.56 362.22L196.46 363.12L196.23 365.3L196.03 367.36L195.89 368.94L195.61 372.4L195.56 373.03L195.22 377.49L195.18 378.05L194.89 382.21L194.76 384.11L194.55 387.09L194.33 390.36L194.22 392.03L193.91 396.61L193.88 396.94L193.55 401.74L193.48 402.69L193.21 406.35L193.06 408.45L192.88 410.73L192.63 413.79L192.54 414.82L192.21 418.58L192.21 418.63L191.87 422.01L191.78 422.92L191.54 425.09L191.36 426.63L191.21 427.81L190.93 429.79L190.87 430.19L190.54 432.24L190.5 432.42L190.2 433.99L190.08 434.55L189.87 435.46L189.65 436.25L189.53 436.67L189.23 437.56L189.2 437.65L188.86 438.43L188.8 438.55L188.53 439.04L188.38 439.26L188.19 439.5L187.95 439.75L187.86 439.84L187.53 440.06L187.52 440.07L187.19 440.21L187.1 440.24L186.85 440.29L186.68 440.3L186.52 440.3L186.25 440.28L186.18 440.27L185.85 440.21L185.83 440.21L185.51 440.12L185.4 440.09L185.18 440.01L184.98 439.93L184.85 439.88L184.55 439.76L184.51 439.74L184.13 439.57L183.7 439.37L183.28 439.16L182.85 438.95L182.43 438.73L182 438.52L181.58 438.3L181.15 438.08L180.73 437.86L180.3 437.64L179.88 437.42L179.45 437.2L179.03 436.98L178.6 436.76L178.18 436.54L177.75 436.32L177.33 436.1L176.9 435.88L176.48 435.66L176.05 435.44L175.63 435.22L175.2 435L174.78 434.78L174.35 434.56L173.92 434.34L173.5 434.12L173.07 433.9L172.65 433.68L172.22 433.46L171.8 433.24L171.37 433.02L170.95 432.8L170.52 432.58L170.1 432.36L169.67 432.14L169.25 431.92L168.82 431.7L168.4 431.48L167.97 431.26L167.55 431.04L167.12 430.82L166.7 430.6L166.27 430.38L165.85 430.16L165.42 429.94L165 429.72L164.57 429.5L164.15 429.28L163.72 429.06L163.3 428.84L162.87 428.62L162.45 428.4L162.02 428.18L161.6 427.96L161.17 427.74L160.75 427.52L160.32 427.3L159.9 427.08L159.47 426.86L159.05 426.64L158.62 426.42L158.2 426.2L157.77 425.98L157.34 425.76L156.92 425.54L156.49 425.32L156.07 425.1L155.64 424.88L155.22 424.66L154.79 424.44L154.37 424.22L153.94 424L153.52 423.78L153.09 423.56L152.67 423.34L152.24 423.12L151.82 422.9L151.39 422.68L150.97 422.46L150.54 422.24L150.12 422.02L149.69 421.8L149.27 421.58L148.84 421.36L148.42 421.14L147.99 420.92M224.09 453.64L223.69 453.43L223.29 453.22L222.88 453.01L222.48 452.8L222.08 452.59L221.71 452.39L221.67 452.37L221.39 452.22L221.27 452.16L221.07 452.05L220.87 451.93L220.75 451.87L220.46 451.7L220.43 451.68L220.12 451.49L220.06 451.45L219.8 451.28L219.66 451.18L219.48 451.06L219.25 450.88L219.16 450.81L218.85 450.53L218.85 450.53L218.53 450.2L218.45 450.1L218.21 449.81L218.04 449.58L217.89 449.35L217.64 448.92L217.58 448.8L217.26 448.13L217.24 448.07L216.94 447.31L216.83 446.99L216.62 446.31L216.43 445.59L216.31 445.09L216.03 443.81L215.99 443.62L215.67 441.87L215.62 441.57L215.35 439.78L215.22 438.79L215.04 437.32L214.82 435.39L214.72 434.46L214.41 431.31L214.4 431.17L214.08 427.45L214.01 426.52L213.76 423.27L213.61 421.02L213.45 418.67L213.2 414.85L213.13 413.67L212.81 408.32L212.8 408.09L212.49 402.7L212.39 400.9L212.18 396.89L211.99 393.47L211.86 391.02L211.59 386.05L211.54 385.2L211.22 379.57L211.18 378.91L210.91 374.29L210.78 372.34L210.59 369.49L210.38 366.65L210.27 365.31L209.97 362.09L209.95 361.88L209.64 359.31L209.57 358.9L209.32 357.66L209.17 357.23L209 357L208.76 357.1L208.68 357.23L208.36 358.24L208.36 358.26L208.05 360.01L207.96 360.64L207.73 362.47L207.55 364.11L207.41 365.57L207.15 368.53L207.09 369.21L206.78 373.32L206.75 373.72L206.46 377.78L206.34 379.46L206.14 382.5L205.94 385.57L205.82 387.37L205.54 391.81L205.51 392.29L205.19 397.18L205.13 398.01L204.87 401.95L204.73 404L204.55 406.53L204.33 409.64L204.24 410.86L203.92 414.83L203.92 414.9L203.6 418.62L203.52 419.5L203.28 421.99L203.12 423.61L202.96 425L202.71 427.15L202.65 427.67L202.33 430L202.31 430.13L202.01 431.99L201.91 432.59L201.69 433.69L201.5 434.58L201.38 435.11L201.1 436.14L201.06 436.28L200.74 437.22L200.7 437.34L200.42 437.97L200.29 438.23L200.11 438.55L199.89 438.86L199.79 438.99L199.49 439.29L199.47 439.3L199.15 439.52L199.08 439.55L198.84 439.65L198.68 439.69L198.52 439.72L198.28 439.73L198.2 439.73L197.88 439.7L197.87 439.7L197.57 439.63L197.47 439.61L197.25 439.55L197.07 439.49L196.93 439.44L196.66 439.33L196.61 439.31L196.29 439.18L196.26 439.16L195.86 438.98L195.45 438.79L195.05 438.59L194.65 438.38L194.24 438.18L193.84 437.97L193.43 437.77L193.03 437.56L192.63 437.35L192.22 437.14L191.82 436.93L191.42 436.72L191.01 436.51L190.61 436.31L190.21 436.1L189.8 435.89L189.4 435.68L189 435.47L188.59 435.26L188.19 435.05L187.79 434.84L187.38 434.64L186.98 434.43L186.58 434.22L186.17 434.01L185.77 433.8L185.37 433.59L184.96 433.38L184.56 433.17L184.16 432.97L183.75 432.76L183.35 432.55L182.95 432.34L182.54 432.13L182.14 431.92L181.74 431.71L181.33 431.5L180.93 431.29L180.53 431.09L180.12 430.88L179.72 430.67L179.32 430.46L178.91 430.25L178.51 430.04L178.11 429.83L177.7 429.62L177.3 429.42L176.9 429.21L176.49 429L176.09 428.79L175.69 428.58L175.28 428.37L174.88 428.16L174.47 427.95L174.07 427.74L173.67 427.54L173.26 427.33L172.86 427.12L172.46 426.91L172.05 426.7L171.65 426.49L171.25 426.28L170.84 426.07L170.44 425.87L170.04 425.66L169.63 425.45L169.23 425.24L168.83 425.03L168.42 424.82L168.02 424.61L167.62 424.4L167.21 424.19L166.81 423.99L166.41 423.78L166 423.57L165.6 423.36L165.2 423.15L164.79 422.94L164.39 422.73L163.99 422.52L163.58 422.32L163.18 422.11L162.78 421.9L162.37 421.69L161.97 421.48L161.57 421.27L161.16 421.06L160.76 420.85L160.36 420.65L159.95 420.44L159.55 420.23M232.18 451.14L232.06 451.08L231.79 450.93L231.76 450.91L231.45 450.75L231.41 450.72L231.15 450.58L231.03 450.5L230.85 450.4L230.65 450.27L230.55 450.21L230.27 450.02L230.25 450.01L229.95 449.79L229.88 449.74L229.65 449.54L229.5 449.41L229.34 449.26L229.12 449.02L229.04 448.93L228.74 448.54L228.74 448.54L228.44 448.08L228.36 447.94L228.14 447.52L227.98 447.17L227.84 446.83L227.59 446.18L227.54 446L227.23 444.99L227.21 444.91L226.93 443.76L226.83 443.3L226.63 442.29L226.45 441.26L226.33 440.52L226.07 438.72L226.03 438.43L225.73 435.97L225.69 435.61L225.43 433.12L225.3 431.86L225.12 429.86L224.92 427.45L224.82 426.17L224.54 422.34L224.52 422.05L224.22 417.52L224.16 416.57L223.92 412.61L223.78 410.2L223.62 407.37L223.4 403.36L223.32 401.87L223.01 396.21L223.01 396.21L222.71 390.49L222.63 388.97L222.41 384.83L222.25 381.89L222.11 379.37L221.87 375.25L221.81 374.25L221.51 369.6L221.49 369.32L221.21 365.56L221.11 364.38L220.9 362.25L220.72 360.66L220.6 359.76L220.34 358.34L220.3 358.18L220 357.54L219.96 357.53L219.7 357.78L219.58 358.09L219.4 358.8L219.2 359.89L219.1 360.57L218.82 362.83L218.79 363.03L218.49 366.13L218.43 366.79L218.19 369.77L218.05 371.6L217.89 373.86L217.67 377.06L217.59 378.3L217.29 382.96L217.29 383L216.99 387.84L216.91 389.1L216.68 392.72L216.53 395.28L216.38 397.56L216.14 401.31L216.08 402.28L215.78 406.8L215.76 407.05L215.48 411.07L215.38 412.39L215.18 415.04L215 417.23L214.88 418.68L214.62 421.53L214.57 421.98L214.27 424.93L214.24 425.26L213.97 427.52L213.85 428.44L213.67 429.78L213.47 431.08L213.37 431.71L213.09 433.23L213.07 433.35L212.77 434.71L212.71 434.94L212.46 435.83L212.33 436.27L212.16 436.73L211.95 437.26L211.86 437.44L211.56 437.99L211.56 437.99L211.26 438.4L211.18 438.49L210.96 438.7L210.8 438.81L210.66 438.9L210.42 439L210.35 439.02L210.05 439.08L210.04 439.08L209.75 439.08L209.66 439.08L209.45 439.05L209.27 439.02L209.15 438.99L208.89 438.91L208.85 438.9L208.55 438.79L208.51 438.78L208.24 438.68L208.13 438.63L207.94 438.55L207.75 438.46L207.37 438.28L206.98 438.09L206.6 437.9L206.22 437.71L205.84 437.51L205.46 437.32L205.08 437.12L204.69 436.92L204.31 436.73L203.93 436.53L203.55 436.33L203.17 436.13L202.79 435.94L202.4 435.74L202.02 435.54L201.64 435.34L201.26 435.15L200.88 434.95L200.5 434.75L200.11 434.55L199.73 434.36L199.35 434.16L198.97 433.96L198.59 433.76L198.21 433.57L197.82 433.37L197.44 433.17L197.06 432.97L196.68 432.78L196.3 432.58L195.91 432.38L195.53 432.18L195.15 431.99L194.77 431.79L194.39 431.59L194.01 431.39L193.62 431.2L193.24 431L192.86 430.8L192.48 430.6L192.1 430.41L191.72 430.21L191.33 430.01L190.95 429.81L190.57 429.62L190.19 429.42L189.81 429.22L189.43 429.02L189.04 428.82L188.66 428.63L188.28 428.43L187.9 428.23L187.52 428.03L187.14 427.84L186.75 427.64L186.37 427.44L185.99 427.24L185.61 427.05L185.23 426.85L184.85 426.65L184.46 426.45L184.08 426.26L183.7 426.06L183.32 425.86L182.94 425.66L182.56 425.47L182.17 425.27L181.79 425.07L181.41 424.87L181.03 424.68L180.65 424.48L180.27 424.28L179.88 424.08L179.5 423.89L179.12 423.69L178.74 423.49L178.36 423.29L177.98 423.1L177.59 422.9L177.21 422.7L176.83 422.5L176.45 422.3L176.07 422.11L175.69 421.91L175.3 421.71L174.92 421.51L174.54 421.32L174.16 421.12L173.78 420.92L173.4 420.72L173.01 420.53L172.63 420.33L172.25 420.13L171.87 419.93L171.49 419.74L171.11 419.54M240.26 448.25L240.16 448.15L239.89 447.86L239.85 447.81L239.55 447.41L239.52 447.38L239.24 446.94L239.16 446.78L238.94 446.36L238.79 446.04L238.63 445.66L238.43 445.1L238.33 444.81L238.06 443.91L238.02 443.78L237.72 442.54L237.69 442.42L237.41 441.04L237.33 440.57L237.11 439.27L236.96 438.29L236.8 437.17L236.59 435.53L236.5 434.72L236.23 432.23L236.19 431.88L235.89 428.65L235.86 428.36L235.58 425L235.5 423.89L235.28 420.94L235.13 418.83L234.97 416.48L234.76 413.23L234.67 411.66L234.4 407.15L234.36 406.54L234.06 401.17L234.03 400.72L233.75 395.66L233.67 394.09L233.45 390.1L233.3 387.43L233.14 384.6L232.93 380.96L232.84 379.31L232.57 374.92L232.53 374.36L232.23 369.86L232.2 369.52L231.92 365.96L231.83 364.98L231.62 362.76L231.47 361.5L231.31 360.36L231.1 359.21L231.01 358.82L230.74 358.22L230.7 358.2L230.39 358.44L230.37 358.49L230.09 359.45L230 359.87L229.78 361.2L229.64 362.3L229.48 363.65L229.27 365.68L229.17 366.72L228.91 369.88L228.87 370.33L228.56 374.39L228.54 374.74L228.26 378.79L228.17 380.08L227.95 383.44L227.81 385.73L227.65 388.22L227.44 391.5L227.34 393.03L227.07 397.25L227.04 397.8L226.73 402.44L226.71 402.81L226.43 406.87L226.34 408.08L226.12 411.05L225.98 412.96L225.82 414.93L225.61 417.39L225.51 418.48L225.24 421.32L225.21 421.68L224.9 424.53L224.88 424.75L224.6 427.04L224.51 427.69L224.29 429.21L224.14 430.14L223.99 431.06L223.78 432.16L223.68 432.63L223.41 433.78L223.38 433.92L223.07 434.98L223.05 435.06L222.77 435.82L222.68 436.03L222.46 436.49L222.31 436.75L222.16 436.99L221.95 437.26L221.85 437.37L221.58 437.6L221.55 437.63L221.24 437.8L221.22 437.81L220.94 437.9L220.85 437.92L220.63 437.94L220.48 437.94L220.33 437.93L220.12 437.9L220.02 437.89L219.75 437.82L219.71 437.81L219.41 437.72L219.38 437.71L219.1 437.6L219.02 437.57L218.8 437.48L218.65 437.42L218.49 437.34L218.29 437.25L217.92 437.07L217.55 436.89L217.19 436.71L216.82 436.53L216.46 436.34L216.09 436.15L215.72 435.96L215.36 435.77L214.99 435.58L214.62 435.39L214.26 435.21L213.89 435.02L213.53 434.83L213.16 434.64L212.79 434.45L212.43 434.26L212.06 434.07L211.7 433.88L211.33 433.69L210.96 433.5L210.6 433.31L210.23 433.12L209.86 432.93L209.5 432.74L209.13 432.55L208.77 432.36L208.4 432.17L208.03 431.98L207.67 431.79L207.3 431.6L206.93 431.41L206.57 431.23L206.2 431.04L205.84 430.85L205.47 430.66L205.1 430.47L204.74 430.28L204.37 430.09L204.01 429.9L203.64 429.71L203.27 429.52L202.91 429.33L202.54 429.14L202.17 428.95L201.81 428.76L201.44 428.57L201.08 428.38L200.71 428.19L200.34 428L199.98 427.81L199.61 427.62L199.25 427.43L198.88 427.24L198.51 427.06L198.15 426.87L197.78 426.68L197.41 426.49L197.05 426.3L196.68 426.11L196.32 425.92L195.95 425.73L195.58 425.54L195.22 425.35L194.85 425.16L194.49 424.97L194.12 424.78L193.75 424.59L193.39 424.4L193.02 424.21L192.65 424.02L192.29 423.83L191.92 423.64L191.56 423.45L191.19 423.26L190.82 423.07L190.46 422.89L190.09 422.7L189.72 422.51L189.36 422.32L188.99 422.13L188.63 421.94L188.26 421.75L187.89 421.56L187.53 421.37L187.16 421.18L186.8 420.99L186.43 420.8L186.06 420.61L185.7 420.42L185.33 420.23L184.96 420.04L184.6 419.85L184.23 419.66L183.87 419.47L183.5 419.28L183.13 419.09L182.77 418.91L182.4 418.72L182.04 418.53L181.67 418.34M248.34 438.81L248.24 438.2L247.99 436.52L247.93 436.1L247.64 433.79L247.62 433.65L247.31 430.83L247.29 430.58L247 427.63L246.93 426.88L246.69 424.02L246.58 422.65L246.38 420.02L246.23 417.93L246.08 415.64L245.88 412.74L245.77 410.92L245.53 407.15L245.46 405.91L245.18 401.25L245.15 400.68L244.84 395.31L244.83 395.16L244.53 389.9L244.48 389.03L244.22 384.58L244.13 383.02L243.91 379.45L243.78 377.33L243.6 374.65L243.43 372.12L243.29 370.31L243.08 367.59L242.99 366.53L242.73 363.9L242.68 363.44L242.38 361.17L242.37 361.12L242.06 359.63L242.03 359.53L241.75 359.03L241.68 359.01L241.44 359.26L241.32 359.55L241.13 360.26L240.97 361.07L240.82 362.01L240.62 363.5L240.51 364.44L240.27 366.77L240.2 367.49L239.92 370.75L239.9 371.07L239.59 375.09L239.57 375.3L239.28 379.45L239.22 380.29L238.97 384.04L238.87 385.54L238.66 388.76L238.52 390.92L238.35 393.51L238.17 396.29L238.04 398.2L237.82 401.52L237.73 402.75L237.47 406.51L237.42 407.1L237.12 411.17L237.12 411.19L236.81 414.97L236.77 415.45L236.5 418.43L236.42 419.29L236.19 421.54L236.06 422.69L235.88 424.3L235.71 425.64L235.57 426.72L235.36 428.15L235.26 428.8L235.01 430.26L234.95 430.58L234.66 431.98L234.64 432.07L234.33 433.29L234.31 433.38L234.03 434.29L233.96 434.47L233.72 435.08L233.61 435.31L233.41 435.7L233.26 435.94L233.1 436.16L232.91 436.38L232.79 436.5L232.56 436.68L232.48 436.73L232.21 436.87L232.17 436.88L231.86 436.96L231.86 436.96L231.55 436.98L231.51 436.98L231.24 436.96L231.16 436.94L230.94 436.9L230.8 436.87L230.63 436.81L230.45 436.76L230.32 436.71L230.1 436.63L230.01 436.59L229.75 436.48L229.7 436.46L229.4 436.33L229.39 436.32L229.05 436.16L228.7 435.99L228.35 435.82L228 435.64L227.65 435.46L227.3 435.28L226.95 435.1L226.6 434.92L226.25 434.74L225.9 434.56L225.55 434.38L225.19 434.2L224.84 434.01L224.49 433.83L224.14 433.65L223.79 433.47L223.44 433.29L223.09 433.11L222.74 432.93L222.39 432.74L222.04 432.56L221.69 432.38L221.34 432.2L220.99 432.02L220.64 431.84L220.29 431.65L219.93 431.47L219.58 431.29L219.23 431.11L218.88 430.93L218.53 430.75L218.18 430.57L217.83 430.38L217.48 430.2L217.13 430.02L216.78 429.84L216.43 429.66L216.08 429.48L215.73 429.29L215.38 429.11L215.03 428.93L214.67 428.75L214.32 428.57L213.97 428.39L213.62 428.21L213.27 428.02L212.92 427.84L212.57 427.66L212.22 427.48L211.87 427.3L211.52 427.12L211.17 426.94L210.82 426.75L210.47 426.57L210.12 426.39L209.77 426.21L209.42 426.03L209.06 425.85L208.71 425.66L208.36 425.48L208.01 425.3L207.66 425.12L207.31 424.94L206.96 424.76L206.61 424.58L206.26 424.39L205.91 424.21L205.56 424.03L205.21 423.85L204.86 423.67L204.51 423.49L204.16 423.31L203.8 423.12L203.45 422.94L203.1 422.76L202.75 422.58L202.4 422.4L202.05 422.22L201.7 422.03L201.35 421.85L201 421.67L200.65 421.49L200.3 421.31L199.95 421.13L199.6 420.95L199.25 420.76L198.9 420.58L198.54 420.4L198.19 420.22L197.84 420.04L197.49 419.86L197.14 419.68L196.79 419.49L196.44 419.31L196.09 419.13L195.74 418.95L195.39 418.77L195.04 418.59L194.69 418.4L194.34 418.22L193.99 418.04L193.64 417.86L193.28 417.68L192.93 417.5L192.58 417.32L192.23 417.13" stroke="#7E2F8E" stroke-width="1.15" fill="none" stroke-linejoin="round"/>
<path d="M100.3 456.26L110 454.61L119.5 452.86L131.2 452.25L143.5 451.94L155.1 451.28L166.2 450.35L176.1 448.81L187 447.78L197.9 446.75L209 445.82L220 444.85L230.7 443.72L241.7 442.74" stroke="#0000ff" stroke-width="1" fill="none"/>
<path d="M97.9 453.86h4.8v4.8h-4.8zM107.6 452.21h4.8v4.8h-4.8zM117.1 450.46h4.8v4.8h-4.8zM128.8 449.85h4.8v4.8h-4.8zM141.1 449.54h4.8v4.8h-4.8zM152.7 448.88h4.8v4.8h-4.8zM163.8 447.95h4.8v4.8h-4.8zM173.7 446.41h4.8v4.8h-4.8zM184.6 445.38h4.8v4.8h-4.8zM195.5 444.35h4.8v4.8h-4.8zM206.6 443.42h4.8v4.8h-4.8zM217.6 442.45h4.8v4.8h-4.8zM228.3 441.32h4.8v4.8h-4.8zM239.3 440.34h4.8v4.8h-4.8z" stroke="#0000ff" stroke-width="1.1" fill="none"/>
<path d="M105.8 459.11L116.36 457.91L126.92 456.7L137.49 455.5L148.05 454.3L158.61 453.1L169.18 451.89L179.74 450.69L190.31 449.49L200.87 448.29L211.43 447.08L222 445.88L232.56 444.68L243.12 443.48" stroke="#ff0000" stroke-width="1" fill="none" stroke-dasharray="2.6 1 1 1"/>
<circle cx="105.8" cy="459.11" r="2.7" stroke="#ff0000" stroke-width="1.1" fill="none"/><circle cx="116.36" cy="457.91" r="2.7" stroke="#ff0000" stroke-width="1.1" fill="none"/><circle cx="126.92" cy="456.7" r="2.7" stroke="#ff0000" stroke-width="1.1" fill="none"/><circle cx="137.49" cy="455.5" r="2.7" stroke="#ff0000" stroke-width="1.1" fill="none"/><circle cx="148.05" cy="454.3" r="2.7" stroke="#ff0000" stroke-width="1.1" fill="none"/><circle cx="158.61" cy="453.1" r="2.7" stroke="#ff0000" stroke-width="1.1" fill="none"/><circle cx="169.18" cy="451.89" r="2.7" stroke="#ff0000" stroke-width="1.1" fill="none"/><circle cx="179.74" cy="450.69" r="2.7" stroke="#ff0000" stroke-width="1.1" fill="none"/><circle cx="190.31" cy="449.49" r="2.7" stroke="#ff0000" stroke-width="1.1" fill="none"/><circle cx="200.87" cy="448.29" r="2.7" stroke="#ff0000" stroke-width="1.1" fill="none"/><circle cx="211.43" cy="447.08" r="2.7" stroke="#ff0000" stroke-width="1.1" fill="none"/><circle cx="222" cy="445.88" r="2.7" stroke="#ff0000" stroke-width="1.1" fill="none"/><circle cx="232.56" cy="444.68" r="2.7" stroke="#ff0000" stroke-width="1.1" fill="none"/><circle cx="243.12" cy="443.48" r="2.7" stroke="#ff0000" stroke-width="1.1" fill="none"/>
<text transform="translate(32.5 432.1) scale(1 1.0)" text-anchor="end" class="tk">0</text><text transform="translate(32.5 409.58) scale(1 1.0)" text-anchor="end" class="tk">0.01</text><text transform="translate(32.5 387.06) scale(1 1.0)" text-anchor="end" class="tk">0.02</text><text transform="translate(32.5 364.54) scale(1 1.0)" text-anchor="end" class="tk">0.03</text><text transform="translate(32.5 342.02) scale(1 1.0)" text-anchor="end" class="tk">0.04</text><text transform="translate(32.5 319.5) scale(1 1.0)" text-anchor="end" class="tk">0.05</text><text transform="translate(132.2 492.8) scale(1 1.0)" text-anchor="end" class="tk">0</text><text transform="translate(82.55 467.1) scale(1 1.0)" text-anchor="end" class="tk">100</text><text transform="translate(32.9 441.4) scale(1 1.0)" text-anchor="end" class="tk">200</text><text transform="translate(138.8 492.7) scale(1 1.0)" class="tk">20</text><text transform="translate(171.12 482.75) scale(1 1.0)" class="tk">40</text><text transform="translate(203.45 472.8) scale(1 1.0)" class="tk">60</text><text transform="translate(235.78 462.85) scale(1 1.0)" class="tk">80</text><text transform="translate(268.1 452.9) scale(1 1.0)" class="tk">100</text>
<text transform="translate(8.1 373.3) rotate(-90)" text-anchor="middle" class="al">PDF of RUL</text>
<text transform="translate(60.55 481.8) rotate(24.5)" text-anchor="middle" class="al">RUL/(cycle)</text>
<text transform="translate(220.45 485.6) rotate(-12.5)" text-anchor="middle" class="al2">Current time/(cycle)</text>
<rect x="108.2" y="301.2" width="93.1" height="35.7" fill="#fff" stroke="#262626" stroke-width="0.9"/>
<path d="M111 308.2H138.2" stroke="#ff0000" stroke-width="1" stroke-dasharray="2.6 1 1 1"/>
<circle cx="124.6" cy="308.2" r="2.9" stroke="#ff0000" stroke-width="1.1" fill="none"/>
<path d="M111 319.4H138.2" stroke="#0000ff" stroke-width="1"/>
<rect x="122.4" y="317.2" width="4.4" height="4.4" stroke="#0000ff" stroke-width="1" fill="none"/>
<path d="M111 330.6H138.2" stroke="#7E2F8E" stroke-width="1"/>
<text transform="translate(140.6 311.3) scale(1 1.08)" class="lg">Actual RUL</text>
<text transform="translate(140.6 322.5) scale(1 1.08)" class="lg">Predicted RUL</text>
<text transform="translate(140.6 333.7) scale(1 1.08)" class="lg">PDF of RUL</text>
<text x="134.6" y="528.4" text-anchor="end" class="cap">(</text>
<text x="141.7" y="528.4" text-anchor="start" class="cap">)</text>
<text transform="translate(138.8 528.4) scale(0.92 1)" text-anchor="middle" class="cap2">c</text>
<path d="M537.5 481L439 429.6M439 429.6L439 317M569.75 471.05L471.25 419.65M471.25 419.65L471.25 307.05M602 461.1L503.5 409.7M503.5 409.7L503.5 297.1M634.25 451.15L535.75 399.75M535.75 399.75L535.75 287.15M666.5 441.2L568 389.8M568 389.8L568 277.2M537.5 481L666.5 441.2M666.5 441.2L666.5 328.6M488.25 455.3L617.25 415.5M617.25 415.5L617.25 302.9M439 429.6L568 389.8M568 389.8L568 277.2M439 429.6L568 389.8M568 389.8L666.5 441.2M439 407.08L568 367.28M568 367.28L666.5 418.68M439 384.56L568 344.76M568 344.76L666.5 396.16M439 362.04L568 322.24M568 322.24L666.5 373.64M439 339.52L568 299.72M568 299.72L666.5 351.12M439 317L568 277.2M568 277.2L666.5 328.6" stroke="#d3d3d3" stroke-width="0.8" fill="none"/>
<path d="M439 429.6L439 317M537.5 481L439 429.6M537.5 481L666.5 441.2M439 429.6L568 389.8M568 389.8L666.5 441.2M666.5 441.2L666.5 328.6M439 317L568 277.2M568 277.2L666.5 328.6" stroke="#262626" stroke-width="1.0" fill="none" stroke-linecap="square"/>
<path d="M439 429.6l1.72 -0.53M439 407.08l1.72 -0.53M439 384.56l1.72 -0.53M439 362.04l1.72 -0.53M439 339.52l1.72 -0.53M439 317l1.72 -0.53M537.5 481l1.72 -0.53M488.25 455.3l1.72 -0.53M439 429.6l1.72 -0.53M537.5 481l-1.6 -0.83M569.75 471.05l-1.6 -0.83M602 461.1l-1.6 -0.83M634.25 451.15l-1.6 -0.83M666.5 441.2l-1.6 -0.83" stroke="#262626" stroke-width="1"/>
<path d="M568 389.8L568 277.2" stroke="#8c8c8c" stroke-width="0.9"/>
<path d="M545.56 478.51L544.96 478.2L544.7 478.06L544.36 477.89L543.76 477.57L543.54 477.46L543.16 477.26L542.56 476.95L542.38 476.85L541.96 476.63L541.36 476.32L541.21 476.24L540.76 476.01L540.16 475.69L540.05 475.64L539.56 475.38L538.96 475.07L538.89 475.03L538.36 474.75L537.76 474.44L537.73 474.42L537.16 474.12L536.57 473.81L536.56 473.81L535.96 473.49L535.4 473.2L535.36 473.18L534.76 472.86L534.24 472.59L534.16 472.54L533.56 472.22L533.08 471.97L532.96 471.9L532.36 471.58L531.92 471.34L531.76 471.25L531.16 470.92L530.76 470.7L530.56 470.58L529.96 470.24L529.6 470.03L529.36 469.89L528.76 469.53L528.43 469.34L528.16 469.16L527.56 468.78L527.27 468.59L526.96 468.38L526.36 467.96L526.11 467.78L525.75 467.52L525.15 467.05L524.95 466.88L524.55 466.55L523.95 466.01L523.79 465.85L523.35 465.44L522.75 464.81L522.62 464.67L522.15 464.14L521.55 463.41L521.46 463.3L520.95 462.62L520.35 461.76L520.3 461.68L519.75 460.83L519.15 459.82L519.14 459.8L518.55 458.73L517.98 457.61L517.95 457.56L517.35 456.3L516.81 455.1L516.75 454.95L516.15 453.53L515.65 452.28L515.55 452.02L514.95 450.43L514.49 449.17L514.35 448.77L513.75 447.06L513.33 445.82L513.15 445.29L512.55 443.49L512.17 442.33L511.95 441.67L511.35 439.84L511.01 438.8L510.75 438.03L510.15 436.25L509.84 435.37L509.55 434.53L508.95 432.88L508.68 432.18L508.35 431.33L507.75 429.89L507.52 429.38L507.15 428.58L506.55 427.43L506.36 427.09L505.95 426.43L505.35 425.61L505.2 425.44L504.75 424.98L504.15 424.53L504.03 424.47L503.55 424.32L502.95 424.23L502.87 424.23L502.35 424.22L501.75 424.26L501.71 424.27L501.15 424.35L500.55 424.48L500.54 424.48L499.94 424.64L499.39 424.82L499.34 424.83L498.74 425.04L498.22 425.25L498.14 425.28L497.54 425.53L497.06 425.74L496.94 425.79L496.34 426.07L495.9 426.28L495.74 426.36L495.14 426.66L494.74 426.86L494.54 426.96L493.94 427.27L493.58 427.45L493.34 427.57L492.74 427.88L492.42 428.05L492.14 428.19L491.54 428.5L491.25 428.65L490.94 428.81L490.34 429.11L490.09 429.23L489.74 429.41L489.14 429.7L488.93 429.8L488.54 429.98L487.94 430.26L487.77 430.34L487.34 430.53L486.74 430.79L486.61 430.85L486.14 431.04L485.54 431.28L485.44 431.32L484.94 431.51L484.34 431.74L484.28 431.76L483.74 431.95L483.14 432.15L483.12 432.15L482.54 432.33L481.96 432.5L481.94 432.51L481.34 432.67L480.8 432.81L480.74 432.83L480.14 432.97L479.63 433.08L479.54 433.1L478.94 433.21L478.47 433.3L478.34 433.32L477.74 433.41L477.31 433.47L477.14 433.49L476.54 433.56L476.15 433.6L475.94 433.62L475.34 433.67L474.99 433.69L474.73 433.7L474.13 433.72L473.83 433.73L473.53 433.74L472.93 433.74L472.66 433.73L472.33 433.73L471.73 433.7L471.5 433.69L471.13 433.67L470.53 433.63L470.34 433.62L469.93 433.58L469.33 433.52L469.18 433.5L468.73 433.45L468.13 433.37L468.02 433.35L467.53 433.28L466.93 433.18L466.85 433.17L466.33 433.07L465.73 432.96L465.69 432.95L465.13 432.83L464.53 432.7L464.53 432.7L463.93 432.56L463.37 432.43L463.33 432.42L462.73 432.27L462.21 432.13L462.13 432.1L461.53 431.94L461.04 431.8L460.93 431.76L460.33 431.58L459.88 431.45L459.73 431.4L459.13 431.21L458.72 431.07L458.53 431.01L457.93 430.81L457.56 430.68L457.33 430.6L456.73 430.39L456.13 430.17L455.53 429.95L454.93 429.72L454.33 429.49L453.73 429.25L453.13 429.01L452.53 428.77L451.93 428.53L451.33 428.28L450.73 428.02L450.13 427.77L449.52 427.51M553.62 476.02L553.08 475.74L552.53 475.46L551.99 475.17L551.44 474.89L550.9 474.6L550.35 474.32L549.8 474.03L549.26 473.75L548.71 473.46L548.17 473.18L548.15 473.17L547.62 472.89L547.35 472.75L547.08 472.61L546.56 472.34L546.53 472.32L545.98 472.04L545.77 471.93L545.44 471.75L544.98 471.51L544.89 471.47L544.35 471.18L544.18 471.1L543.8 470.9L543.39 470.68L543.26 470.61L542.71 470.33L542.6 470.27L542.16 470.04L541.81 469.86L541.62 469.76L541.07 469.47L541.01 469.44L540.53 469.19L540.22 469.03L539.98 468.9L539.44 468.61L539.43 468.61L538.89 468.32L538.64 468.19L538.34 468.03L537.84 467.76L537.8 467.74L537.25 467.44L537.05 467.33L536.71 467.13L536.26 466.88L536.16 466.82L535.62 466.5L535.47 466.41L535.07 466.17L534.67 465.91L534.52 465.81L533.98 465.44L533.88 465.37L533.43 465.04L533.09 464.77L532.89 464.6L532.34 464.12L532.3 464.08L531.79 463.58L531.5 463.27L531.25 462.97L530.71 462.3L530.7 462.29L530.16 461.51L529.92 461.13L529.61 460.62L529.13 459.72L529.07 459.6L528.52 458.45L528.33 458.01L527.97 457.13L527.54 455.96L527.43 455.64L526.88 453.96L526.75 453.52L526.34 452.09L525.96 450.66L525.79 450.01L525.25 447.74L525.16 447.38L524.7 445.28L524.37 443.71L524.15 442.64L523.61 439.84L523.58 439.68L523.06 436.91L522.79 435.39L522.52 433.89L521.99 430.95L521.97 430.83L521.43 427.77L521.2 426.52L520.88 424.77L520.41 422.27L520.33 421.89L519.79 419.19L519.62 418.39L519.24 416.73L518.82 415.05L518.7 414.57L518.15 412.76L518.03 412.41L517.61 411.33L517.24 410.61L517.06 410.33L516.51 409.76L516.45 409.72L515.97 409.66L515.65 409.72L515.42 409.81L514.88 410.13L514.86 410.14L514.33 410.57L514.07 410.83L513.79 411.13L513.28 411.73L513.24 411.78L512.69 412.5L512.48 412.8L512.15 413.29L511.69 414L511.6 414.14L511.06 415.03L510.9 415.29L510.51 415.95L510.11 416.66L509.96 416.91L509.42 417.88L509.31 418.07L508.87 418.87L508.52 419.51L508.33 419.86L507.78 420.86L507.73 420.95L507.24 421.85L506.94 422.39L506.69 422.83L506.14 423.8L506.14 423.8L505.6 424.75L505.35 425.18L505.05 425.68L504.56 426.51L504.51 426.59L503.96 427.48L503.77 427.78L503.42 428.33L502.97 429L502.87 429.15L502.32 429.94L502.18 430.15L501.78 430.7L501.39 431.22L501.23 431.42L500.69 432.11L500.6 432.22L500.14 432.76L499.8 433.15L499.6 433.38L499.05 433.96L499.01 434L498.5 434.5L498.22 434.77L497.96 435L497.43 435.46L497.41 435.47L496.87 435.91L496.63 436.08L496.32 436.31L495.84 436.63L495.78 436.67L495.23 437L495.05 437.1L494.68 437.3L494.26 437.51L494.14 437.57L493.59 437.8L493.46 437.85L493.05 438.01L492.67 438.13L492.5 438.18L491.96 438.33L491.88 438.35L491.41 438.46L491.09 438.52L490.86 438.55L490.32 438.63L490.29 438.63L489.77 438.68L489.5 438.69L489.23 438.7L488.71 438.71L488.68 438.71L488.13 438.7L487.92 438.69L487.59 438.67L487.12 438.63L487.04 438.62L486.5 438.55L486.33 438.53L485.95 438.47L485.54 438.4L485.41 438.37L484.86 438.26L484.75 438.24L484.31 438.14L483.77 438L483.22 437.85L482.68 437.7L482.13 437.53L481.59 437.35L481.04 437.16L480.49 436.97L479.95 436.76L479.4 436.56L478.86 436.34L478.31 436.12L477.77 435.89L477.22 435.66L476.67 435.42L476.13 435.18L475.58 434.94L475.04 434.69L474.49 434.44L473.95 434.18L473.4 433.92L472.85 433.66L472.31 433.4L471.76 433.13L471.22 432.87L470.67 432.6L470.13 432.33L469.58 432.06L469.03 431.78L468.49 431.51L467.94 431.23L467.4 430.96L466.85 430.68L466.3 430.4M561.69 473.54L561.14 473.25L560.59 472.96L560.04 472.68L559.48 472.39L558.93 472.1L558.38 471.81L557.83 471.53L557.28 471.24L556.73 470.95L556.18 470.66L555.63 470.38L555.08 470.09L554.53 469.8L553.98 469.51L553.43 469.23L552.88 468.94L552.33 468.65L551.78 468.37L551.22 468.08L551.12 468.02L550.67 467.79L550.46 467.68L550.12 467.5L549.8 467.33L549.57 467.22L549.13 466.99L549.02 466.93L548.47 466.64L548.47 466.64L547.92 466.35L547.8 466.29L547.37 466.06L547.14 465.94L546.82 465.78L546.48 465.6L546.27 465.49L545.81 465.25L545.72 465.2L545.17 464.91L545.15 464.9L544.62 464.61L544.48 464.54L544.07 464.31L543.82 464.18L543.52 464.01L543.16 463.81L542.96 463.7L542.49 463.43L542.41 463.39L541.86 463.05L541.83 463.03L541.31 462.7L541.16 462.6L540.76 462.33L540.5 462.14L540.21 461.92L539.84 461.61L539.66 461.46L539.17 461.01L539.11 460.95L538.56 460.36L538.51 460.31L538.01 459.69L537.85 459.46L537.46 458.89L537.18 458.45L536.91 457.96L536.52 457.21L536.36 456.87L535.85 455.71L535.81 455.59L535.26 454.08L535.19 453.89L534.7 452.33L534.53 451.71L534.15 450.32L533.86 449.13L533.6 448.01L533.2 446.12L533.05 445.4L532.53 442.67L532.5 442.5L531.95 439.3L531.87 438.8L531.4 435.83L531.21 434.55L530.85 432.13L530.54 429.99L530.3 428.26L529.88 425.22L529.75 424.27L529.21 420.38L529.2 420.26L528.65 416.31L528.55 415.63L528.1 412.52L527.89 411.14L527.55 409L527.22 407.09L526.99 405.84L526.56 403.65L526.44 403.14L525.89 400.98L525.89 400.98L525.34 399.43L525.23 399.19L524.79 398.53L524.57 398.35L524.24 398.28L523.9 398.35L523.69 398.46L523.24 398.83L523.14 398.93L522.59 399.64L522.57 399.66L522.04 400.56L521.91 400.8L521.49 401.66L521.25 402.19L520.94 402.91L520.58 403.79L520.39 404.3L519.92 405.56L519.84 405.79L519.29 407.37L519.26 407.46L518.73 409.02L518.59 409.46L518.18 410.71L517.93 411.52L517.63 412.44L517.26 413.61L517.08 414.18L516.6 415.7L516.53 415.91L515.98 417.63L515.94 417.77L515.43 419.33L515.27 419.81L514.88 420.98L514.61 421.78L514.33 422.58L513.94 423.67L513.78 424.13L513.28 425.48L513.23 425.61L512.68 427.03L512.62 427.18L512.13 428.36L511.95 428.77L511.58 429.63L511.29 430.25L511.03 430.81L510.62 431.62L510.47 431.91L509.96 432.86L509.92 432.92L509.37 433.86L509.3 433.98L508.82 434.71L508.63 434.99L508.27 435.49L507.97 435.88L507.72 436.19L507.3 436.67L507.17 436.81L506.64 437.35L506.62 437.37L506.07 437.85L505.98 437.92L505.52 438.27L505.31 438.41L504.97 438.62L504.65 438.8L504.42 438.92L503.99 439.12L503.87 439.17L503.32 439.36L503.32 439.36L502.77 439.51L502.66 439.53L502.21 439.61L501.99 439.64L501.66 439.67L501.33 439.69L501.11 439.7L500.67 439.69L500.56 439.69L500.01 439.65L500 439.65L499.46 439.58L499.34 439.56L498.91 439.49L498.67 439.44L498.36 439.37L498.01 439.29L497.81 439.24L497.26 439.08L496.71 438.91L496.16 438.72L495.61 438.52L495.06 438.31L494.5 438.09L493.95 437.86L493.4 437.62L492.85 437.38L492.3 437.13L491.75 436.87L491.2 436.61L490.65 436.35L490.1 436.08L489.55 435.81L489 435.54L488.45 435.26L487.9 434.98L487.35 434.7L486.8 434.42L486.24 434.14L485.69 433.86L485.14 433.58L484.59 433.29L484.04 433.01L483.49 432.72L482.94 432.44L482.39 432.15L481.84 431.86L481.29 431.58L480.74 431.29L480.19 431.01L479.64 430.72L479.09 430.43L478.54 430.14L477.98 429.86L477.43 429.57L476.88 429.28L476.33 429L475.78 428.71L475.23 428.42L474.68 428.13L474.13 427.85L473.58 427.56M569.75 471.05L569.23 470.78L568.71 470.51L568.19 470.24L567.67 469.97L567.16 469.7L566.64 469.43L566.12 469.15L565.6 468.88L565.08 468.61L564.56 468.34L564.04 468.07L563.52 467.8L563 467.53L562.48 467.26L561.97 466.99L561.45 466.72L560.93 466.45L560.41 466.18L559.89 465.9L559.37 465.63L558.85 465.36L558.33 465.09L557.81 464.82L557.72 464.77L557.29 464.55L557.16 464.48L556.78 464.28L556.61 464.19L556.26 464.01L556.05 463.9L555.74 463.74L555.49 463.61L555.22 463.46L554.93 463.31L554.7 463.19L554.38 463.02L554.18 462.92L553.82 462.72L553.66 462.64L553.26 462.42L553.14 462.36L552.7 462.12L552.62 462.07L552.15 461.8L552.1 461.78L551.59 461.48L551.59 461.48L551.07 461.16L551.03 461.13L550.55 460.81L550.47 460.76L550.03 460.44L549.92 460.35L549.51 460.03L549.36 459.9L548.99 459.55L548.8 459.37L548.47 459.01L548.24 458.74L547.95 458.37L547.69 458L547.43 457.61L547.13 457.1L546.92 456.7L546.57 456L546.4 455.6L546.01 454.66L545.88 454.29L545.46 453.03L545.36 452.71L544.9 451.07L544.84 450.84L544.34 448.73L544.32 448.64L543.8 446.07L543.78 445.97L543.28 443.11L543.23 442.77L542.76 439.76L542.67 439.1L542.24 436.01L542.11 434.99L541.73 431.9L541.55 430.47L541.21 427.46L541 425.59L540.69 422.77L540.44 420.45L540.17 417.9L539.88 415.17L539.65 412.97L539.32 409.9L539.13 408.1L538.77 404.79L538.61 403.43L538.21 400.03L538.09 399.1L537.65 395.78L537.57 395.24L537.09 392.22L537.05 392L536.54 389.48L536.54 389.48L536.02 387.76L535.98 387.67L535.5 386.92L535.42 386.87L534.98 386.86L534.86 386.92L534.46 387.3L534.31 387.51L533.94 388.15L533.75 388.57L533.42 389.37L533.19 390.02L532.9 390.91L532.63 391.83L532.38 392.73L532.08 393.93L531.87 394.79L531.52 396.28L531.35 397.05L530.96 398.82L530.83 399.46L530.4 401.52L530.31 401.99L529.85 404.31L529.79 404.6L529.29 407.15L529.27 407.25L528.75 409.91L528.73 410.01L528.23 412.54L528.17 412.84L527.71 415.13L527.62 415.61L527.19 417.65L527.06 418.29L526.68 420.07L526.5 420.86L526.16 422.38L525.94 423.3L525.64 424.57L525.39 425.58L525.12 426.62L524.83 427.7L524.6 428.53L524.27 429.66L524.08 430.29L523.71 431.44L523.56 431.9L523.16 433.05L523.04 433.36L522.6 434.49L522.52 434.67L522.04 435.76L522 435.84L521.49 436.87L521.48 436.88L520.97 437.78L520.93 437.84L520.45 438.55L520.37 438.66L519.93 439.22L519.81 439.35L519.41 439.77L519.25 439.92L518.89 440.23L518.7 440.38L518.37 440.6L518.14 440.73L517.85 440.88L517.58 441L517.33 441.09L517.02 441.19L516.81 441.24L516.47 441.3L516.3 441.32L515.91 441.35L515.78 441.36L515.35 441.35L515.26 441.35L514.79 441.3L514.74 441.3L514.24 441.21L514.22 441.21L513.7 441.09L513.68 441.09L513.18 440.95L513.12 440.94L512.66 440.79L512.14 440.61L511.63 440.41L511.11 440.2L510.59 439.98L510.07 439.75L509.55 439.51L509.03 439.27L508.51 439.02L507.99 438.76L507.47 438.5L506.95 438.24L506.44 437.98L505.92 437.72L505.4 437.45L504.88 437.19L504.36 436.92L503.84 436.65L503.32 436.38L502.8 436.11L502.28 435.84L501.76 435.57L501.25 435.3L500.73 435.03L500.21 434.76L499.69 434.49L499.17 434.22L498.65 433.95L498.13 433.68L497.61 433.41L497.09 433.14L496.57 432.87L496.06 432.59L495.54 432.32L495.02 432.05L494.5 431.78L493.98 431.51L493.46 431.24L492.94 430.97L492.42 430.7L491.9 430.43L491.39 430.16L490.87 429.89L490.35 429.62L489.83 429.34L489.31 429.07L488.79 428.8L488.27 428.53L487.75 428.26L487.23 427.99L486.71 427.72M577.81 468.56L577.3 468.3L576.79 468.03L576.28 467.76L575.77 467.5L575.26 467.23L574.75 466.97L574.24 466.7L573.73 466.43L573.22 466.17L572.71 465.9L572.2 465.63L571.69 465.37L571.18 465.1L570.67 464.84L570.16 464.57L569.65 464.3L569.14 464.04L568.63 463.77L568.12 463.51L567.61 463.24L567.1 462.97L566.59 462.71L566.08 462.44L565.57 462.17L565.06 461.91L564.89 461.82L564.55 461.64L564.42 461.57L564.04 461.37L563.95 461.33L563.53 461.11L563.48 461.08L563.02 460.84L563.01 460.83L562.54 460.58L562.51 460.57L562.07 460.33L562 460.29L561.6 460.07L561.49 460.01L561.13 459.81L560.98 459.72L560.66 459.53L560.47 459.42L560.19 459.25L559.96 459.1L559.72 458.94L559.45 458.75L559.25 458.6L558.94 458.35L558.78 458.22L558.43 457.9L558.31 457.78L557.92 457.36L557.84 457.27L557.41 456.71L557.37 456.66L556.9 455.92L556.9 455.91L556.43 455.01L556.39 454.92L555.96 453.9L555.88 453.68L555.49 452.54L555.37 452.14L555.02 450.89L554.86 450.23L554.55 448.88L554.35 447.89L554.08 446.49L553.84 445.07L553.61 443.65L553.33 441.71L553.15 440.35L552.82 437.78L552.68 436.56L552.31 433.27L552.21 432.28L551.8 428.21L551.74 427.53L551.29 422.64L551.27 422.37L550.8 416.87L550.78 416.67L550.33 411.14L550.27 410.43L549.86 405.31L549.76 404.1L549.39 399.53L549.25 397.88L548.92 393.99L548.74 391.99L548.45 388.87L548.23 386.67L547.98 384.33L547.72 382.14L547.51 380.55L547.21 378.6L547.04 377.67L546.7 376.21L546.57 375.8L546.19 375.07L546.1 375L545.68 375.01L545.63 375.04L545.17 375.62L545.16 375.64L544.69 376.78L544.66 376.87L544.22 378.43L544.15 378.72L543.75 380.55L543.64 381.12L543.28 383.1L543.13 384L542.81 386L542.62 387.29L542.34 389.22L542.11 390.9L541.87 392.66L541.6 394.76L541.4 396.28L541.09 398.76L540.93 400L540.58 402.84L540.46 403.76L540.07 406.91L539.99 407.51L539.56 410.91L539.52 411.17L539.05 414.72L539.05 414.76L538.59 418.1L538.54 418.42L538.12 421.29L538.03 421.85L537.65 424.26L537.52 425.02L537.18 426.99L537.01 427.9L536.71 429.47L536.5 430.48L536.24 431.7L535.99 432.77L535.77 433.67L535.48 434.77L535.3 435.41L534.97 436.48L534.83 436.91L534.46 437.93L534.36 438.18L533.95 439.13L533.89 439.26L533.44 440.11L533.42 440.15L532.95 440.86L532.93 440.89L532.48 441.43L532.42 441.49L532.01 441.86L531.91 441.94L531.54 442.18L531.4 442.26L531.07 442.4L530.89 442.46L530.6 442.53L530.38 442.57L530.13 442.59L529.87 442.6L529.66 442.59L529.36 442.56L529.19 442.54L528.85 442.48L528.72 442.45L528.34 442.35L528.25 442.32L527.83 442.19L527.78 442.17L527.32 442L527.31 442L526.81 441.79L526.3 441.57L525.79 441.34L525.28 441.09L524.77 440.84L524.26 440.59L523.75 440.33L523.24 440.07L522.73 439.81L522.22 439.55L521.71 439.28L521.2 439.02L520.69 438.75L520.18 438.49L519.67 438.22L519.16 437.95L518.65 437.69L518.14 437.42L517.63 437.16L517.12 436.89L516.61 436.62L516.1 436.36L515.59 436.09L515.08 435.83L514.57 435.56L514.06 435.29L513.55 435.03L513.04 434.76L512.53 434.49L512.02 434.23L511.51 433.96L511 433.7L510.49 433.43L509.98 433.16L509.47 432.9L508.96 432.63L508.45 432.37L507.94 432.1L507.43 431.83L506.92 431.57L506.41 431.3L505.9 431.03L505.39 430.77L504.88 430.5L504.37 430.24L503.86 429.97L503.35 429.7L502.84 429.44L502.33 429.17L501.82 428.91L501.31 428.64L500.8 428.37L500.29 428.11L499.78 427.84L499.27 427.57L498.76 427.31L498.25 427.04L497.74 426.78L497.23 426.51L496.72 426.24L496.21 425.98M585.88 466.07L585.38 465.82L584.89 465.56L584.4 465.3L583.91 465.05L583.42 464.79L582.92 464.53L582.43 464.28L581.94 464.02L581.45 463.76L580.96 463.51L580.46 463.25L579.97 462.99L579.48 462.74L578.99 462.48L578.5 462.22L578 461.97L577.51 461.71L577.02 461.45L576.53 461.2L576.04 460.94L575.55 460.68L575.05 460.43L574.56 460.17L574.07 459.91L574.01 459.88L573.59 459.66L573.58 459.65L573.17 459.44L573.09 459.39L572.75 459.22L572.59 459.13L572.33 458.99L572.1 458.87L571.91 458.76L571.61 458.6L571.49 458.53L571.12 458.32L571.07 458.29L570.65 458.04L570.63 458.02L570.23 457.77L570.13 457.7L569.81 457.48L569.64 457.35L569.39 457.16L569.15 456.95L568.97 456.79L568.66 456.48L568.55 456.37L568.17 455.92L568.13 455.87L567.71 455.26L567.68 455.21L567.29 454.53L567.18 454.33L566.87 453.64L566.69 453.21L566.45 452.55L566.2 451.79L566.03 451.21L565.71 450L565.61 449.58L565.22 447.76L565.19 447.61L564.77 445.25L564.72 444.99L564.35 442.47L564.23 441.64L563.93 439.22L563.74 437.63L563.51 435.48L563.25 432.95L563.08 431.25L562.76 427.6L562.66 426.53L562.26 421.62L562.24 421.36L561.82 415.8L561.77 415.1L561.4 409.94L561.28 408.19L560.98 403.89L560.79 401.07L560.56 397.8L560.3 393.99L560.14 391.81L559.81 387.21L559.72 386.11L559.31 381.01L559.3 380.87L558.88 376.26L558.82 375.66L558.46 372.44L558.33 371.43L558.04 369.54L557.84 368.51L557.62 367.68L557.35 367.04L557.2 366.9L556.85 366.94L556.78 367.01L556.36 367.76L556.36 367.77L555.94 369.15L555.87 369.43L555.52 371.12L555.38 371.9L555.1 373.63L554.89 375.08L554.68 376.62L554.39 378.87L554.26 380.02L553.9 383.16L553.84 383.75L553.42 387.75L553.41 387.81L553 391.91L552.92 392.7L552.58 396.18L552.43 397.7L552.16 400.47L551.93 402.71L551.74 404.71L551.44 407.6L551.32 408.85L550.95 412.3L550.89 412.82L550.47 416.59L550.46 416.72L550.05 420.12L549.97 420.81L549.63 423.38L549.48 424.53L549.21 426.36L548.98 427.86L548.79 429.04L548.49 430.79L548.37 431.44L548 433.32L547.95 433.55L547.53 435.38L547.51 435.48L547.11 436.95L547.02 437.27L546.69 438.28L546.52 438.74L546.27 439.39L546.03 439.92L545.85 440.29L545.54 440.84L545.43 441.02L545.05 441.54L545.01 441.59L544.59 442.02L544.56 442.05L544.17 442.33L544.06 442.39L543.75 442.54L543.57 442.61L543.33 442.67L543.08 442.71L542.91 442.73L542.59 442.73L542.49 442.73L542.1 442.68L542.07 442.68L541.65 442.59L541.61 442.58L541.23 442.48L541.11 442.44L540.81 442.33L540.62 442.27L540.39 442.17L540.13 442.07L539.64 441.85L539.15 441.63L538.65 441.39L538.16 441.15L537.67 440.9L537.18 440.65L536.69 440.4L536.19 440.15L535.7 439.89L535.21 439.64L534.72 439.38L534.23 439.12L533.74 438.87L533.24 438.61L532.75 438.35L532.26 438.1L531.77 437.84L531.28 437.58L530.78 437.33L530.29 437.07L529.8 436.81L529.31 436.56L528.82 436.3L528.32 436.04L527.83 435.79L527.34 435.53L526.85 435.27L526.36 435.02L525.87 434.76L525.37 434.5L524.88 434.25L524.39 433.99L523.9 433.73L523.41 433.48L522.91 433.22L522.42 432.96L521.93 432.71L521.44 432.45L520.95 432.19L520.45 431.94L519.96 431.68L519.47 431.42L518.98 431.17L518.49 430.91L517.99 430.65L517.5 430.4L517.01 430.14L516.52 429.88L516.03 429.63L515.54 429.37L515.04 429.11L514.55 428.86L514.06 428.6L513.57 428.34L513.08 428.09L512.58 427.83L512.09 427.57L511.6 427.32L511.11 427.06L510.62 426.8L510.12 426.55L509.63 426.29L509.14 426.03L508.65 425.78L508.16 425.52L507.67 425.26L507.17 425.01M593.94 463.59L593.47 463.34L593 463.1L592.53 462.86L592.07 462.61L591.6 462.37L591.13 462.12L590.66 461.88L590.19 461.63L589.73 461.39L589.26 461.15L588.79 460.9L588.32 460.66L587.86 460.41L587.39 460.17L586.92 459.93L586.45 459.68L585.98 459.44L585.52 459.19L585.05 458.95L584.58 458.7L584.28 458.54L584.11 458.46L583.88 458.34L583.64 458.21L583.49 458.13L583.18 457.96L583.09 457.91L582.71 457.7L582.7 457.7L582.31 457.48L582.24 457.44L581.91 457.25L581.77 457.17L581.52 457.01L581.3 456.88L581.12 456.76L580.84 456.56L580.73 456.48L580.37 456.21L580.33 456.18L579.94 455.83L579.9 455.8L579.54 455.44L579.43 455.31L579.15 454.97L578.97 454.72L578.75 454.41L578.5 453.98L578.36 453.72L578.03 453.05L577.96 452.89L577.57 451.88L577.56 451.86L577.17 450.64L577.09 450.36L576.78 449.14L576.63 448.47L576.39 447.32L576.16 446.11L575.99 445.14L575.69 443.22L575.6 442.56L575.22 439.72L575.2 439.54L574.81 436.06L574.75 435.56L574.41 432.08L574.29 430.72L574.02 427.62L573.82 425.21L573.62 422.7L573.35 419.06L573.23 417.35L572.88 412.39L572.83 411.64L572.44 405.67L572.42 405.32L572.04 399.56L571.95 398.06L571.65 393.43L571.48 390.84L571.25 387.45L571.01 383.92L570.86 381.78L570.54 377.58L570.46 376.59L570.08 372.1L570.07 372.04L569.68 368.28L569.61 367.73L569.28 365.45L569.14 364.67L568.89 363.62L568.67 363.08L568.49 362.87L568.2 362.9L568.1 363.02L567.74 363.77L567.7 363.87L567.31 365.4L567.27 365.58L566.91 367.57L566.8 368.29L566.52 370.31L566.33 371.78L566.12 373.57L565.87 375.94L565.73 377.26L565.4 380.64L565.33 381.31L564.94 385.61L564.93 385.72L564.54 390.09L564.46 391.05L564.15 394.66L563.99 396.47L563.75 399.23L563.53 401.86L563.36 403.74L563.06 407.1L562.97 408.11L562.59 412.09L562.57 412.29L562.18 416.23L562.12 416.75L561.78 419.9L561.65 421.02L561.39 423.28L561.19 424.87L560.99 426.34L560.72 428.27L560.6 429.08L560.25 431.23L560.2 431.51L559.81 433.63L559.78 433.76L559.41 435.46L559.31 435.88L559.02 437.02L558.85 437.62L558.62 438.33L558.38 439.02L558.23 439.4L557.91 440.12L557.83 440.28L557.44 440.96L557.44 440.97L557.05 441.5L556.98 441.58L556.65 441.9L556.51 442.02L556.26 442.19L556.04 442.3L555.86 442.38L555.57 442.46L555.47 442.48L555.1 442.52L555.07 442.52L554.68 442.51L554.64 442.5L554.28 442.45L554.17 442.43L553.89 442.36L553.7 442.31L553.49 442.24L553.23 442.15L553.1 442.1L552.76 441.97L552.7 441.94L552.3 441.77L551.83 441.55L551.36 441.33L550.89 441.1L550.43 440.86L549.96 440.63L549.49 440.39L549.02 440.14L548.55 439.9L548.09 439.66L547.62 439.42L547.15 439.17L546.68 438.93L546.21 438.68L545.75 438.44L545.28 438.2L544.81 437.95L544.34 437.71L543.87 437.46L543.41 437.22L542.94 436.98L542.47 436.73L542 436.49L541.54 436.24L541.07 436L540.6 435.75L540.13 435.51L539.66 435.27L539.2 435.02L538.73 434.78L538.26 434.53L537.79 434.29L537.32 434.05L536.86 433.8L536.39 433.56L535.92 433.31L535.45 433.07L534.99 432.82L534.52 432.58L534.05 432.34L533.58 432.09L533.11 431.85L532.65 431.6L532.18 431.36L531.71 431.12L531.24 430.87L530.77 430.63L530.31 430.38L529.84 430.14L529.37 429.89L528.9 429.65L528.43 429.41L527.97 429.16L527.5 428.92L527.03 428.67L526.56 428.43L526.1 428.19L525.63 427.94L525.16 427.7L524.69 427.45L524.22 427.21L523.76 426.96L523.29 426.72L522.82 426.48L522.35 426.23L521.88 425.99L521.42 425.74L520.95 425.5L520.48 425.26L520.01 425.01L519.55 424.77L519.08 424.52M602 461.1L601.54 460.86L601.09 460.62L600.63 460.39L600.18 460.15L599.72 459.91L599.27 459.67L598.81 459.44L598.36 459.2L597.9 458.96L597.44 458.72L596.99 458.48L596.53 458.25L596.08 458.01L595.62 457.77L595.17 457.53L594.71 457.29L594.26 457.05L594.05 456.94L593.8 456.81L593.67 456.74L593.34 456.57L593.29 456.54L592.92 456.33L592.89 456.32L592.54 456.12L592.43 456.06L592.17 455.91L591.98 455.79L591.79 455.68L591.52 455.51L591.41 455.44L591.07 455.2L591.04 455.18L590.66 454.89L590.61 454.85L590.28 454.56L590.16 454.44L589.91 454.19L589.7 453.95L589.53 453.74L589.24 453.35L589.16 453.22L588.79 452.6L588.78 452.59L588.4 451.82L588.33 451.66L588.03 450.89L587.88 450.46L587.65 449.75L587.42 448.94L587.28 448.37L586.97 447.03L586.9 446.71L586.52 444.72L586.51 444.64L586.15 442.35L586.06 441.72L585.77 439.58L585.6 438.18L585.39 436.37L585.14 433.98L585.02 432.7L584.69 429.09L584.64 428.55L584.27 423.94L584.23 423.51L583.89 418.89L583.78 417.3L583.51 413.45L583.32 410.54L583.14 407.69L582.87 403.38L582.76 401.7L582.41 396.02L582.39 395.61L582.01 389.54L581.96 388.68L581.63 383.65L581.5 381.63L581.26 378.09L581.04 375.15L580.88 373.02L580.59 369.51L580.5 368.59L580.13 364.98L580.13 364.94L579.75 362.19L579.68 361.76L579.38 360.43L579.22 360L579 359.7L578.77 359.73L578.62 359.88L578.31 360.61L578.25 360.82L577.87 362.48L577.86 362.57L577.5 364.81L577.4 365.51L577.12 367.76L576.94 369.33L576.74 371.25L576.49 373.87L576.37 375.19L576.03 379L575.99 379.49L575.61 384.06L575.58 384.52L575.24 388.79L575.12 390.27L574.86 393.59L574.67 396.1L574.49 398.38L574.21 401.84L574.11 403.08L573.76 407.36L573.73 407.61L573.36 411.93L573.3 412.57L572.98 415.97L572.84 417.38L572.61 419.71L572.39 421.72L572.23 423.13L571.93 425.59L571.85 426.21L571.48 428.95L571.48 428.95L571.1 431.36L571.02 431.82L570.72 433.44L570.57 434.23L570.35 435.23L570.11 436.21L569.97 436.73L569.66 437.8L569.6 437.98L569.22 439L569.2 439.05L568.84 439.81L568.74 440L568.47 440.45L568.29 440.7L568.09 440.93L567.83 441.19L567.72 441.29L567.38 441.51L567.34 441.53L566.96 441.69L566.92 441.7L566.59 441.76L566.47 441.77L566.21 441.78L566.01 441.77L565.83 441.75L565.55 441.7L565.46 441.68L565.1 441.58L565.08 441.58L564.71 441.45L564.64 441.43L564.33 441.31L564.19 441.25L563.95 441.15L563.73 441.05L563.28 440.84L562.82 440.62L562.37 440.4L561.91 440.17L561.45 439.93L561 439.7L560.54 439.46L560.09 439.23L559.63 438.99L559.18 438.75L558.72 438.52L558.27 438.28L557.81 438.04L557.35 437.8L556.9 437.57L556.44 437.33L555.99 437.09L555.53 436.85L555.08 436.61L554.62 436.38L554.17 436.14L553.71 435.9L553.25 435.66L552.8 435.43L552.34 435.19L551.89 434.95L551.43 434.71L550.98 434.47L550.52 434.24L550.07 434L549.61 433.76L549.15 433.52L548.7 433.29L548.24 433.05L547.79 432.81L547.33 432.57L546.88 432.34L546.42 432.1L545.97 431.86L545.51 431.62L545.05 431.38L544.6 431.15L544.14 430.91L543.69 430.67L543.23 430.43L542.78 430.2L542.32 429.96L541.87 429.72L541.41 429.48L540.95 429.24L540.5 429.01L540.04 428.77L539.59 428.53L539.13 428.29L538.68 428.06L538.22 427.82L537.77 427.58L537.31 427.34L536.85 427.11L536.4 426.87L535.94 426.63L535.49 426.39L535.03 426.15L534.58 425.92L534.12 425.68L533.67 425.44L533.21 425.2L532.75 424.97L532.3 424.73L531.84 424.49L531.39 424.25L530.93 424.01L530.48 423.78L530.02 423.54L529.57 423.3L529.11 423.06M610.06 458.61L609.62 458.38L609.18 458.15L608.74 457.92L608.3 457.69L607.86 457.46L607.42 457.23L606.98 457L606.54 456.77L606.1 456.55L605.66 456.32L605.22 456.09L604.78 455.85L604.34 455.62L603.9 455.39L603.63 455.25L603.46 455.16L603.28 455.06L603.02 454.92L602.94 454.88L602.6 454.69L602.58 454.68L602.25 454.49L602.14 454.42L601.91 454.29L601.7 454.15L601.57 454.07L601.26 453.86L601.22 453.84L600.88 453.59L600.82 453.54L600.54 453.3L600.38 453.16L600.19 452.98L599.94 452.7L599.85 452.6L599.51 452.15L599.5 452.13L599.17 451.61L599.06 451.41L598.82 450.95L598.62 450.49L598.48 450.15L598.18 449.3L598.14 449.17L597.79 447.97L597.74 447.76L597.45 446.52L597.3 445.78L597.11 444.77L596.86 443.28L596.76 442.67L596.42 440.19L596.42 440.17L596.08 437.29L595.98 436.36L595.73 433.94L595.54 431.8L595.39 430.11L595.1 426.44L595.05 425.8L594.7 421.01L594.66 420.31L594.36 415.78L594.22 413.46L594.02 410.17L593.78 406.01L593.67 404.23L593.34 398.16L593.33 398.08L592.99 391.83L592.9 390.14L592.65 385.62L592.46 382.25L592.3 379.59L592.02 374.82L591.96 373.92L591.62 368.75L591.58 368.18L591.27 364.25L591.14 362.66L590.93 360.54L590.69 358.53L590.59 357.75L590.25 356.02L590.24 355.97L589.9 355.26L589.81 355.24L589.56 355.48L589.37 355.92L589.21 356.49L588.93 357.88L588.87 358.27L588.53 360.76L588.49 361.03L588.18 363.89L588.05 365.23L587.84 367.59L587.61 370.3L587.5 371.76L587.17 376.05L587.15 376.31L586.81 381.12L586.73 382.25L586.47 386.11L586.29 388.69L586.13 391.16L585.85 395.16L585.78 396.2L585.44 401.13L585.41 401.49L585.1 405.87L584.97 407.52L584.75 410.38L584.53 413.13L584.41 414.61L584.09 418.22L584.07 418.51L583.72 422.06L583.65 422.75L583.38 425.26L583.21 426.7L583.04 428.1L582.77 430.06L582.69 430.59L582.35 432.75L582.33 432.86L582.01 434.59L581.89 435.14L581.66 436.14L581.45 436.97L581.32 437.42L581.01 438.38L580.98 438.47L580.63 439.31L580.57 439.45L580.29 439.97L580.13 440.22L579.95 440.47L579.69 440.76L579.61 440.84L579.26 441.1L579.25 441.1L578.92 441.26L578.81 441.3L578.58 441.35L578.37 441.38L578.23 441.38L577.93 441.37L577.89 441.36L577.55 441.31L577.49 441.29L577.2 441.22L577.05 441.17L576.86 441.11L576.61 441.02L576.52 440.98L576.17 440.84L576.17 440.84L575.73 440.64L575.29 440.43L574.85 440.21L574.41 439.99L573.97 439.77L573.53 439.54L573.09 439.32L572.65 439.09L572.21 438.86L571.77 438.63L571.33 438.4L570.89 438.17L570.45 437.94L570.01 437.71L569.57 437.48L569.13 437.25L568.69 437.02L568.25 436.79L567.81 436.56L567.37 436.33L566.93 436.1L566.49 435.87L566.05 435.64L565.61 435.41L565.16 435.18L564.72 434.95L564.28 434.72L563.84 434.49L563.4 434.26L562.96 434.04L562.52 433.81L562.08 433.58L561.64 433.35L561.2 433.12L560.76 432.89L560.32 432.66L559.88 432.43L559.44 432.2L559 431.97L558.56 431.74L558.12 431.51L557.68 431.28L557.24 431.05L556.8 430.82L556.36 430.59L555.92 430.36L555.48 430.13L555.04 429.9L554.6 429.67L554.16 429.44L553.72 429.21L553.28 428.98L552.84 428.75L552.4 428.52L551.96 428.29L551.52 428.06L551.08 427.83L550.64 427.6L550.2 427.37L549.76 427.14L549.32 426.91L548.88 426.69L548.44 426.46L548 426.23L547.56 426L547.12 425.77L546.68 425.54L546.24 425.31L545.8 425.08L545.36 424.85L544.92 424.62L544.48 424.39L544.04 424.16L543.6 423.93L543.16 423.7L542.72 423.47L542.28 423.24L541.84 423.01L541.4 422.78L540.96 422.55L540.52 422.32L540.08 422.09L539.63 421.86M618.12 456.12L617.7 455.9L617.28 455.68L616.86 455.46L616.44 455.24L616.02 455.02L615.59 454.8L615.17 454.58L614.75 454.36L614.33 454.14L614.15 454.04L613.91 453.91L613.82 453.86L613.49 453.68L613.49 453.68L613.16 453.5L613.06 453.44L612.84 453.31L612.64 453.2L612.51 453.11L612.22 452.93L612.18 452.9L611.85 452.67L611.8 452.64L611.52 452.42L611.38 452.3L611.2 452.14L610.96 451.91L610.87 451.81L610.54 451.43L610.53 451.42L610.21 450.98L610.11 450.82L609.88 450.43L609.69 450.05L609.56 449.76L609.27 449.06L609.23 448.95L608.9 447.96L608.85 447.78L608.57 446.75L608.43 446.13L608.25 445.29L608 444.03L607.92 443.53L607.59 441.43L607.58 441.38L607.26 438.95L607.16 438.12L606.93 436.07L606.74 434.15L606.61 432.74L606.32 429.44L606.28 428.95L605.95 424.69L605.9 423.96L605.62 419.99L605.47 417.73L605.29 414.86L605.05 410.85L604.97 409.36L604.64 403.57L604.63 403.45L604.31 397.58L604.21 395.72L603.98 391.5L603.79 387.91L603.65 385.47L603.37 380.33L603.33 379.63L603 374.14L602.94 373.29L602.67 369.15L602.52 367.11L602.34 364.8L602.1 362.09L602.01 361.23L601.69 358.55L601.68 358.5L601.36 356.83L601.26 356.51L601.03 356.14L600.84 356.18L600.7 356.37L600.41 357.22L600.37 357.39L600.05 359.16L599.99 359.52L599.72 361.65L599.57 362.98L599.39 364.77L599.15 367.43L599.06 368.45L598.73 372.6L598.73 372.7L598.41 377.12L598.3 378.57L598.08 381.9L597.88 384.82L597.75 386.84L597.46 391.25L597.42 391.85L597.09 396.83L597.04 397.64L596.77 401.69L596.62 403.82L596.44 406.37L596.2 409.66L596.11 410.8L595.78 414.94L595.77 415.03L595.45 418.76L595.35 419.87L595.13 422.24L594.93 424.13L594.8 425.35L594.51 427.8L594.47 428.11L594.14 430.53L594.09 430.9L593.81 432.61L593.67 433.45L593.49 434.39L593.24 435.51L593.16 435.87L592.83 437.1L592.82 437.13L592.5 438.1L592.4 438.37L592.17 438.9L591.98 439.29L591.85 439.52L591.56 439.94L591.52 439.99L591.19 440.33L591.14 440.38L590.86 440.57L590.71 440.65L590.53 440.72L590.29 440.79L590.21 440.8L589.88 440.82L589.87 440.82L589.55 440.8L589.45 440.78L589.22 440.74L589.03 440.69L588.89 440.65L588.61 440.56L588.57 440.54L588.24 440.42L588.18 440.39L587.91 440.28L587.76 440.21L587.34 440.02L586.92 439.81L586.5 439.6L586.08 439.39L585.65 439.17L585.23 438.96L584.81 438.74L584.39 438.52L583.97 438.3L583.55 438.08L583.12 437.86L582.7 437.64L582.28 437.42L581.86 437.2L581.44 436.98L581.02 436.76L580.59 436.54L580.17 436.32L579.75 436.1L579.33 435.88L578.91 435.66L578.48 435.44L578.06 435.22L577.64 435L577.22 434.78L576.8 434.56L576.38 434.34L575.95 434.12L575.53 433.9L575.11 433.68L574.69 433.46L574.27 433.24L573.85 433.02L573.42 432.8L573 432.58L572.58 432.36L572.16 432.14L571.74 431.92L571.32 431.7L570.89 431.48L570.47 431.26L570.05 431.04L569.63 430.82L569.21 430.6L568.79 430.38L568.36 430.16L567.94 429.94L567.52 429.72L567.1 429.5L566.68 429.28L566.26 429.06L565.83 428.84L565.41 428.62L564.99 428.4L564.57 428.18L564.15 427.96L563.73 427.74L563.3 427.52L562.88 427.3L562.46 427.08L562.04 426.86L561.62 426.64L561.2 426.42L560.77 426.2L560.35 425.98L559.93 425.76L559.51 425.54L559.09 425.32L558.66 425.1L558.24 424.88L557.82 424.66L557.4 424.44L556.98 424.22L556.56 424L556.13 423.78L555.71 423.56L555.29 423.34L554.87 423.12L554.45 422.9L554.03 422.68L553.6 422.46L553.18 422.24L552.76 422.02L552.34 421.8L551.92 421.58L551.5 421.36L551.07 421.14L550.65 420.92M626.19 453.64L625.79 453.43L625.39 453.22L624.99 453.01L624.59 452.8L624.19 452.59L623.79 452.37L623.77 452.37L623.46 452.2L623.39 452.16L623.15 452.03L622.99 451.93L622.85 451.85L622.59 451.7L622.54 451.67L622.23 451.48L622.19 451.45L621.92 451.28L621.79 451.18L621.61 451.05L621.39 450.87L621.3 450.8L620.99 450.52L620.99 450.52L620.68 450.2L620.59 450.08L620.38 449.81L620.19 449.54L620.07 449.35L619.78 448.84L619.76 448.79L619.45 448.11L619.38 447.95L619.14 447.28L618.98 446.79L618.83 446.26L618.58 445.3L618.52 445.03L618.21 443.54L618.18 443.39L617.9 441.75L617.78 440.97L617.6 439.63L617.38 437.96L617.29 437.13L616.98 434.28L616.98 434.22L616.67 430.87L616.58 429.87L616.36 427.08L616.18 424.71L616.05 422.83L615.78 418.79L615.74 418.14L615.43 413.04L615.38 412.18L615.12 407.59L614.98 405L614.82 401.86L614.58 397.42L614.51 395.95L614.2 389.96L614.18 389.67L613.89 384.03L613.78 382.02L613.58 378.3L613.38 374.8L613.27 372.91L612.98 368.32L612.96 368.02L612.65 363.77L612.58 362.89L612.34 360.28L612.18 358.78L612.04 357.66L611.78 356.21L611.73 355.99L611.42 355.32L611.38 355.3L611.11 355.56L610.98 355.9L610.8 356.6L610.58 357.81L610.49 358.41L610.18 360.93L610.18 360.94L609.87 364.09L609.78 365.16L609.57 367.82L609.38 370.27L609.26 372.01L608.98 376.06L608.95 376.57L608.64 381.39L608.58 382.31L608.33 386.36L608.18 388.79L608.02 391.39L607.78 395.29L607.71 396.39L607.4 401.26L607.38 401.61L607.09 405.94L606.98 407.61L606.79 410.36L606.58 413.15L606.48 414.49L606.18 418.15L606.17 418.29L605.86 421.73L605.78 422.56L605.55 424.82L605.38 426.37L605.24 427.54L604.98 429.58L604.93 429.92L604.62 431.97L604.58 432.23L604.31 433.7L604.18 434.37L604.01 435.16L603.78 436.06L603.7 436.35L603.39 437.32L603.38 437.35L603.08 438.09L602.98 438.31L602.77 438.69L602.58 438.99L602.46 439.14L602.18 439.45L602.15 439.47L601.84 439.7L601.78 439.74L601.53 439.84L601.38 439.89L601.23 439.91L600.98 439.93L600.92 439.93L600.61 439.91L600.58 439.91L600.3 439.85L600.18 439.82L599.99 439.77L599.78 439.7L599.68 439.66L599.38 439.55L599.37 439.54L599.06 439.41L598.98 439.37L598.58 439.19L598.18 439L597.78 438.8L597.38 438.59L596.98 438.39L596.58 438.18L596.18 437.97L595.78 437.77L595.38 437.56L594.98 437.35L594.58 437.14L594.17 436.93L593.77 436.72L593.37 436.51L592.97 436.31L592.57 436.1L592.17 435.89L591.77 435.68L591.37 435.47L590.97 435.26L590.57 435.05L590.17 434.84L589.77 434.64L589.37 434.43L588.97 434.22L588.57 434.01L588.17 433.8L587.77 433.59L587.37 433.38L586.97 433.17L586.57 432.97L586.17 432.76L585.77 432.55L585.37 432.34L584.97 432.13L584.57 431.92L584.17 431.71L583.77 431.5L583.37 431.29L582.97 431.09L582.57 430.88L582.17 430.67L581.77 430.46L581.37 430.25L580.97 430.04L580.57 429.83L580.17 429.62L579.77 429.42L579.37 429.21L578.97 429L578.57 428.79L578.17 428.58L577.77 428.37L577.37 428.16L576.97 427.95L576.57 427.74L576.17 427.54L575.77 427.33L575.37 427.12L574.97 426.91L574.57 426.7L574.17 426.49L573.77 426.28L573.37 426.07L572.97 425.87L572.57 425.66L572.17 425.45L571.77 425.24L571.37 425.03L570.97 424.82L570.57 424.61L570.17 424.4L569.77 424.19L569.37 423.99L568.97 423.78L568.57 423.57L568.16 423.36L567.76 423.15L567.36 422.94L566.96 422.73L566.56 422.52L566.16 422.32L565.76 422.11L565.36 421.9L564.96 421.69L564.56 421.48L564.16 421.27L563.76 421.06L563.36 420.85L562.96 420.65L562.56 420.44L562.16 420.23M634.25 451.14L633.99 450.99L633.87 450.93L633.69 450.83L633.49 450.71L633.4 450.66L633.11 450.49L633.11 450.48L632.81 450.3L632.74 450.25L632.52 450.1L632.36 449.98L632.22 449.88L631.98 449.68L631.93 449.63L631.63 449.35L631.6 449.32L631.34 449.02L631.22 448.88L631.04 448.63L630.84 448.32L630.75 448.17L630.46 447.62L630.45 447.6L630.16 446.91L630.09 446.72L629.86 446.07L629.71 445.55L629.57 445.05L629.33 444.05L629.28 443.81L628.98 442.32L628.95 442.14L628.69 440.53L628.57 439.74L628.39 438.41L628.19 436.77L628.1 435.92L627.81 433.15L627.8 433.04L627.51 429.73L627.44 428.84L627.21 425.99L627.06 423.82L626.92 421.81L626.68 418.08L626.62 417.22L626.33 412.24L626.3 411.7L626.04 406.92L625.92 404.78L625.74 401.35L625.54 397.49L625.45 395.6L625.16 390.04L625.15 389.8L624.86 384.06L624.78 382.69L624.56 378.52L624.41 375.72L624.27 373.33L624.03 369.45L623.97 368.62L623.68 364.52L623.65 364.15L623.38 361.17L623.27 360.09L623.09 358.65L622.89 357.47L622.79 357.04L622.51 356.41L622.5 356.4L622.21 356.65L622.13 356.83L621.91 357.69L621.76 358.54L621.62 359.49L621.38 361.47L621.32 361.99L621.03 365.14L621 365.47L620.73 368.84L620.62 370.38L620.44 373L620.24 375.98L620.14 377.51L619.86 382.05L619.85 382.28L619.55 387.2L619.48 388.38L619.26 392.16L619.11 394.74L618.96 397.08L618.73 400.97L618.67 401.87L618.38 406.47L618.35 406.88L618.08 410.8L617.97 412.37L617.79 414.84L617.59 417.33L617.49 418.54L617.21 421.73L617.2 421.89L616.9 424.89L616.83 425.54L616.61 427.53L616.46 428.76L616.31 429.82L616.08 431.43L616.02 431.79L615.72 433.46L615.7 433.59L615.43 434.84L615.32 435.3L615.14 435.98L614.94 436.61L614.84 436.9L614.56 437.59L614.55 437.63L614.25 438.19L614.18 438.3L613.96 438.61L613.81 438.78L613.66 438.92L613.43 439.09L613.37 439.12L613.07 439.25L613.05 439.26L612.78 439.31L612.67 439.32L612.48 439.33L612.29 439.31L612.19 439.3L611.91 439.24L611.89 439.24L611.6 439.15L611.53 439.13L611.31 439.05L611.15 438.99L611.01 438.93L610.78 438.83L610.72 438.81L610.4 438.66L610.02 438.48L609.64 438.29L609.26 438.1L608.88 437.91L608.5 437.71L608.13 437.52L607.75 437.32L607.37 437.12L606.99 436.92L606.61 436.73L606.23 436.53L605.85 436.33L605.48 436.13L605.1 435.94L604.72 435.74L604.34 435.54L603.96 435.34L603.58 435.15L603.2 434.95L602.83 434.75L602.45 434.55L602.07 434.36L601.69 434.16L601.31 433.96L600.93 433.76L600.55 433.57L600.18 433.37L599.8 433.17L599.42 432.97L599.04 432.78L598.66 432.58L598.28 432.38L597.9 432.18L597.52 431.99L597.15 431.79L596.77 431.59L596.39 431.39L596.01 431.2L595.63 431L595.25 430.8L594.87 430.6L594.5 430.41L594.12 430.21L593.74 430.01L593.36 429.81L592.98 429.62L592.6 429.42L592.22 429.22L591.85 429.02L591.47 428.82L591.09 428.63L590.71 428.43L590.33 428.23L589.95 428.03L589.57 427.84L589.2 427.64L588.82 427.44L588.44 427.24L588.06 427.05L587.68 426.85L587.3 426.65L586.92 426.45L586.55 426.26L586.17 426.06L585.79 425.86L585.41 425.66L585.03 425.47L584.65 425.27L584.27 425.07L583.89 424.87L583.52 424.68L583.14 424.48L582.76 424.28L582.38 424.08L582 423.89L581.62 423.69L581.24 423.49L580.87 423.29L580.49 423.1L580.11 422.9L579.73 422.7L579.35 422.5L578.97 422.3L578.59 422.11L578.22 421.91L577.84 421.71L577.46 421.51L577.08 421.32L576.7 421.12L576.32 420.92L575.94 420.72L575.57 420.53L575.19 420.33L574.81 420.13L574.43 419.93L574.05 419.74L573.67 419.54M642.31 448.11L642.17 447.93L641.95 447.64L641.87 447.53L641.59 447.07L641.57 447.05L641.28 446.46L641.22 446.34L640.98 445.75L640.86 445.41L640.69 444.89L640.5 444.24L640.39 443.84L640.13 442.75L640.1 442.58L639.8 441.06L639.77 440.88L639.51 439.24L639.41 438.56L639.21 437.1L639.04 435.74L638.91 434.6L638.68 432.33L638.62 431.7L638.32 428.39L638.32 428.32L638.03 424.66L637.95 423.66L637.73 420.51L637.59 418.37L637.44 415.96L637.23 412.5L637.14 411.03L636.86 406.12L636.85 405.79L636.55 400.3L636.5 399.36L636.26 394.66L636.14 392.4L635.96 388.97L635.77 385.43L635.66 383.35L635.41 378.71L635.37 377.94L635.07 372.87L635.05 372.46L634.78 368.27L634.68 366.95L634.48 364.28L634.32 362.41L634.19 361.01L633.96 359.04L633.89 358.56L633.6 356.99L633.6 356.99L633.3 356.36L633.23 356.35L633 356.61L632.87 357L632.71 357.66L632.51 358.82L632.41 359.46L632.14 361.75L632.12 361.98L631.82 365.13L631.78 365.64L631.53 368.84L631.42 370.36L631.23 373L631.05 375.7L630.94 377.52L630.69 381.48L630.64 382.28L630.34 387.19L630.33 387.5L630.05 392.13L629.96 393.57L629.75 397.02L629.6 399.52L629.46 401.78L629.24 405.21L629.16 406.33L628.87 410.53L628.87 410.61L628.57 414.59L628.51 415.38L628.28 418.24L628.15 419.72L627.98 421.53L627.78 423.52L627.69 424.46L627.42 426.78L627.39 427.03L627.09 429.26L627.06 429.52L626.8 431.17L626.69 431.77L626.5 432.78L626.33 433.59L626.21 434.11L625.97 435.01L625.91 435.2L625.62 436.07L625.6 436.11L625.32 436.76L625.24 436.92L625.03 437.29L624.88 437.5L624.73 437.68L624.51 437.89L624.43 437.95L624.15 438.13L624.14 438.14L623.84 438.25L623.79 438.26L623.55 438.29L623.43 438.3L623.25 438.29L623.06 438.27L622.96 438.25L622.7 438.2L622.66 438.19L622.37 438.1L622.34 438.08L622.07 437.99L621.97 437.95L621.78 437.87L621.61 437.79L621.48 437.74L621.25 437.63L620.88 437.45L620.52 437.27L620.16 437.09L619.79 436.91L619.43 436.72L619.07 436.53L618.7 436.34L618.34 436.15L617.98 435.96L617.61 435.77L617.25 435.58L616.89 435.39L616.52 435.21L616.16 435.02L615.8 434.83L615.43 434.64L615.07 434.45L614.71 434.26L614.34 434.07L613.98 433.88L613.62 433.69L613.25 433.5L612.89 433.31L612.53 433.12L612.17 432.93L611.8 432.74L611.44 432.55L611.08 432.36L610.71 432.17L610.35 431.98L609.99 431.79L609.62 431.6L609.26 431.41L608.9 431.23L608.53 431.04L608.17 430.85L607.81 430.66L607.44 430.47L607.08 430.28L606.72 430.09L606.35 429.9L605.99 429.71L605.63 429.52L605.26 429.33L604.9 429.14L604.54 428.95L604.17 428.76L603.81 428.57L603.45 428.38L603.08 428.19L602.72 428L602.36 427.81L602 427.62L601.63 427.43L601.27 427.24L600.91 427.06L600.54 426.87L600.18 426.68L599.82 426.49L599.45 426.3L599.09 426.11L598.73 425.92L598.36 425.73L598 425.54L597.64 425.35L597.27 425.16L596.91 424.97L596.55 424.78L596.18 424.59L595.82 424.4L595.46 424.21L595.09 424.02L594.73 423.83L594.37 423.64L594 423.45L593.64 423.26L593.28 423.07L592.91 422.89L592.55 422.7L592.19 422.51L591.83 422.32L591.46 422.13L591.1 421.94L590.74 421.75L590.37 421.56L590.01 421.37L589.65 421.18L589.28 420.99L588.92 420.8L588.56 420.61L588.19 420.42L587.83 420.23L587.47 420.04L587.1 419.85L586.74 419.66L586.38 419.47L586.01 419.28L585.65 419.09L585.29 418.91L584.92 418.72L584.56 418.53L584.2 418.34M650.38 439.01L650.22 438.02L650.03 436.71L649.92 435.89L649.68 433.95L649.62 433.4L649.33 430.7L649.32 430.54L649.01 427.28L648.98 426.92L648.71 423.61L648.64 422.59L648.41 419.54L648.29 417.73L648.11 415.09L647.94 412.38L647.81 410.28L647.59 406.6L647.51 405.19L647.24 400.49L647.21 399.86L646.91 394.4L646.9 394.18L646.61 388.9L646.55 387.82L646.31 383.48L646.2 381.61L646.01 378.26L645.85 375.73L645.71 373.38L645.51 370.38L645.4 368.96L645.16 365.76L645.1 365.12L644.81 362.04L644.8 361.98L644.5 359.62L644.46 359.37L644.2 358.11L644.11 357.84L643.9 357.5L643.77 357.51L643.6 357.74L643.42 358.27L643.3 358.77L643.07 360.05L643 360.55L642.72 362.79L642.7 363.03L642.4 366.14L642.37 366.38L642.09 369.8L642.03 370.68L641.79 373.9L641.68 375.56L641.49 378.34L641.33 380.84L641.19 383.03L640.98 386.35L640.89 387.84L640.64 391.96L640.59 392.69L640.29 397.47L640.29 397.5L639.99 402.12L639.94 402.85L639.69 406.55L639.59 407.91L639.39 410.72L639.24 412.59L639.09 414.58L638.9 416.84L638.79 418.11L638.55 420.63L638.48 421.28L638.2 423.94L638.18 424.1L637.88 426.57L637.85 426.79L637.58 428.7L637.51 429.19L637.28 430.51L637.16 431.17L636.98 432.03L636.81 432.77L636.68 433.29L636.46 434.05L636.38 434.31L636.11 435.03L636.08 435.12L635.78 435.76L635.77 435.77L635.48 436.23L635.42 436.31L635.17 436.59L635.07 436.68L634.87 436.83L634.72 436.92L634.57 436.98L634.37 437.05L634.27 437.07L634.03 437.1L633.97 437.1L633.68 437.08L633.67 437.08L633.37 437.03L633.33 437.02L633.07 436.95L632.98 436.92L632.77 436.85L632.64 436.8L632.47 436.73L632.29 436.66L632.17 436.6L631.94 436.5L631.87 436.47L631.59 436.34L631.24 436.17L630.9 436L630.55 435.82L630.2 435.64L629.85 435.46L629.51 435.28L629.16 435.1L628.81 434.92L628.46 434.74L628.11 434.56L627.77 434.38L627.42 434.2L627.07 434.01L626.72 433.83L626.37 433.65L626.03 433.47L625.68 433.29L625.33 433.11L624.98 432.93L624.64 432.74L624.29 432.56L623.94 432.38L623.59 432.2L623.24 432.02L622.9 431.84L622.55 431.65L622.2 431.47L621.85 431.29L621.51 431.11L621.16 430.93L620.81 430.75L620.46 430.57L620.11 430.38L619.77 430.2L619.42 430.02L619.07 429.84L618.72 429.66L618.37 429.48L618.03 429.29L617.68 429.11L617.33 428.93L616.98 428.75L616.64 428.57L616.29 428.39L615.94 428.21L615.59 428.02L615.24 427.84L614.9 427.66L614.55 427.48L614.2 427.3L613.85 427.12L613.51 426.94L613.16 426.75L612.81 426.57L612.46 426.39L612.11 426.21L611.77 426.03L611.42 425.85L611.07 425.66L610.72 425.48L610.37 425.3L610.03 425.12L609.68 424.94L609.33 424.76L608.98 424.58L608.64 424.39L608.29 424.21L607.94 424.03L607.59 423.85L607.24 423.67L606.9 423.49L606.55 423.31L606.2 423.12L605.85 422.94L605.51 422.76L605.16 422.58L604.81 422.4L604.46 422.22L604.11 422.03L603.77 421.85L603.42 421.67L603.07 421.49L602.72 421.31L602.37 421.13L602.03 420.95L601.68 420.76L601.33 420.58L600.98 420.4L600.64 420.22L600.29 420.04L599.94 419.86L599.59 419.68L599.24 419.49L598.9 419.31L598.55 419.13L598.2 418.95L597.85 418.77L597.51 418.59L597.16 418.4L596.81 418.22L596.46 418.04L596.11 417.86L595.77 417.68L595.42 417.5L595.07 417.32L594.72 417.13" stroke="#7E2F8E" stroke-width="1.15" fill="none" stroke-linejoin="round"/>
<path d="M502.9 456.25L515.1 455.92L525.6 454.71L535.9 453.39L547.6 452.8L558.4 451.74L569.2 450.68L579 449.1L589.9 448.09L600.9 447.14L611.4 445.92L622.5 445.02L633.3 443.96L643.9 442.8" stroke="#0000ff" stroke-width="1" fill="none"/>
<path d="M500.5 453.85h4.8v4.8h-4.8zM512.7 453.52h4.8v4.8h-4.8zM523.2 452.31h4.8v4.8h-4.8zM533.5 450.99h4.8v4.8h-4.8zM545.2 450.4h4.8v4.8h-4.8zM556 449.34h4.8v4.8h-4.8zM566.8 448.28h4.8v4.8h-4.8zM576.6 446.7h4.8v4.8h-4.8zM587.5 445.69h4.8v4.8h-4.8zM598.5 444.74h4.8v4.8h-4.8zM609 443.52h4.8v4.8h-4.8zM620.1 442.62h4.8v4.8h-4.8zM630.9 441.56h4.8v4.8h-4.8zM641.5 440.4h4.8v4.8h-4.8z" stroke="#0000ff" stroke-width="1.1" fill="none"/>
<path d="M508.48 459.16L519 457.96L529.53 456.76L540.05 455.55L550.58 454.35L561.1 453.15L571.63 451.95L582.15 450.74L592.68 449.54L603.2 448.34L613.73 447.14L624.25 445.93L634.78 444.73L645.3 443.53" stroke="#ff0000" stroke-width="1" fill="none" stroke-dasharray="2.6 1 1 1"/>
<circle cx="508.48" cy="459.16" r="2.7" stroke="#ff0000" stroke-width="1.1" fill="none"/><circle cx="519" cy="457.96" r="2.7" stroke="#ff0000" stroke-width="1.1" fill="none"/><circle cx="529.53" cy="456.76" r="2.7" stroke="#ff0000" stroke-width="1.1" fill="none"/><circle cx="540.05" cy="455.55" r="2.7" stroke="#ff0000" stroke-width="1.1" fill="none"/><circle cx="550.58" cy="454.35" r="2.7" stroke="#ff0000" stroke-width="1.1" fill="none"/><circle cx="561.1" cy="453.15" r="2.7" stroke="#ff0000" stroke-width="1.1" fill="none"/><circle cx="571.63" cy="451.95" r="2.7" stroke="#ff0000" stroke-width="1.1" fill="none"/><circle cx="582.15" cy="450.74" r="2.7" stroke="#ff0000" stroke-width="1.1" fill="none"/><circle cx="592.68" cy="449.54" r="2.7" stroke="#ff0000" stroke-width="1.1" fill="none"/><circle cx="603.2" cy="448.34" r="2.7" stroke="#ff0000" stroke-width="1.1" fill="none"/><circle cx="613.73" cy="447.14" r="2.7" stroke="#ff0000" stroke-width="1.1" fill="none"/><circle cx="624.25" cy="445.93" r="2.7" stroke="#ff0000" stroke-width="1.1" fill="none"/><circle cx="634.78" cy="444.73" r="2.7" stroke="#ff0000" stroke-width="1.1" fill="none"/><circle cx="645.3" cy="443.53" r="2.7" stroke="#ff0000" stroke-width="1.1" fill="none"/>
<text transform="translate(435.6 432.1) scale(1 1.0)" text-anchor="end" class="tk">0</text><text transform="translate(435.6 409.58) scale(1 1.0)" text-anchor="end" class="tk">0.01</text><text transform="translate(435.6 387.06) scale(1 1.0)" text-anchor="end" class="tk">0.02</text><text transform="translate(435.6 364.54) scale(1 1.0)" text-anchor="end" class="tk">0.03</text><text transform="translate(435.6 342.02) scale(1 1.0)" text-anchor="end" class="tk">0.04</text><text transform="translate(435.6 319.5) scale(1 1.0)" text-anchor="end" class="tk">0.05</text><text transform="translate(534.2 492.8) scale(1 1.0)" text-anchor="end" class="tk">0</text><text transform="translate(484.95 467.1) scale(1 1.0)" text-anchor="end" class="tk">100</text><text transform="translate(435.7 441.4) scale(1 1.0)" text-anchor="end" class="tk">200</text><text transform="translate(541.1 492.7) scale(1 1.0)" class="tk">20</text><text transform="translate(573.35 482.75) scale(1 1.0)" class="tk">40</text><text transform="translate(605.6 472.8) scale(1 1.0)" class="tk">60</text><text transform="translate(637.85 462.85) scale(1 1.0)" class="tk">80</text><text transform="translate(670.1 452.9) scale(1 1.0)" class="tk">100</text>
<text transform="translate(411.2 373.3) rotate(-90)" text-anchor="middle" class="al">PDF of RUL</text>
<text transform="translate(469.05 480.1) rotate(24.5)" text-anchor="middle" class="al">RUL/(cycle)</text>
<text transform="translate(622.6 485) rotate(-12.5)" text-anchor="middle" class="al2">Current time/(cycle)</text>
<rect x="505.6" y="298.4" width="93.6" height="35.8" fill="#fff" stroke="#262626" stroke-width="0.9"/>
<path d="M508.4 305.4H535.6" stroke="#ff0000" stroke-width="1" stroke-dasharray="2.6 1 1 1"/>
<circle cx="522" cy="305.4" r="2.9" stroke="#ff0000" stroke-width="1.1" fill="none"/>
<path d="M508.4 316.6H535.6" stroke="#0000ff" stroke-width="1"/>
<rect x="519.8" y="314.4" width="4.4" height="4.4" stroke="#0000ff" stroke-width="1" fill="none"/>
<path d="M508.4 327.8H535.6" stroke="#7E2F8E" stroke-width="1"/>
<text transform="translate(538 308.5) scale(1 1.08)" class="lg">Actual RUL</text>
<text transform="translate(538 319.7) scale(1 1.08)" class="lg">Predicted RUL</text>
<text transform="translate(538 330.9) scale(1 1.08)" class="lg">PDF of RUL</text>
<text x="542.6" y="528.4" text-anchor="end" class="cap">(</text>
<text x="549.7" y="528.4" text-anchor="start" class="cap">)</text>
<text transform="translate(546.8 528.4) scale(0.92 1)" text-anchor="middle" class="cap2">d</text>
</g>
</svg>
</body></html>
